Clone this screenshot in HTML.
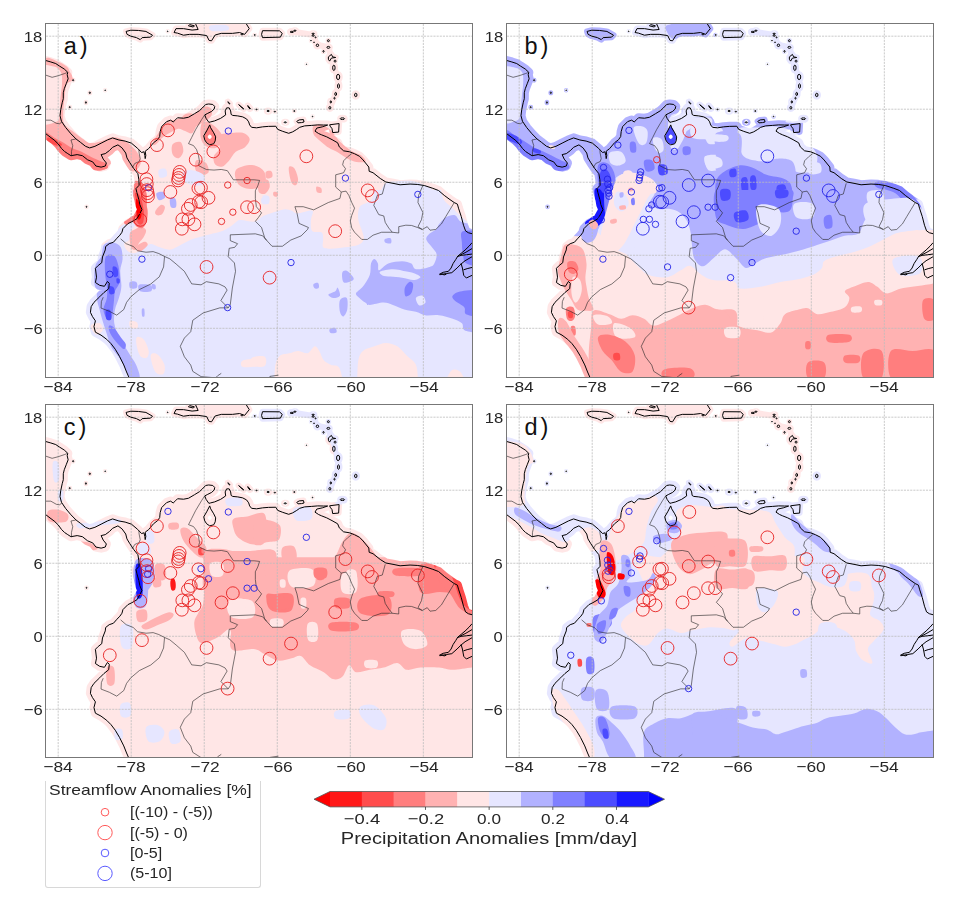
<!DOCTYPE html><html><head><meta charset="utf-8"><style>
html,body{margin:0;padding:0;background:#fff;}
body{width:956px;height:902px;position:relative;overflow:hidden;font-family:"Liberation Sans",sans-serif;color:#262626;}
.map{position:absolute;overflow:hidden;}
.frame{position:absolute;border:1px solid #777;box-sizing:content-box;}
.yl{position:absolute;font-size:15.5px;line-height:18px;text-align:right;white-space:nowrap;transform:scaleX(1.07);transform-origin:right center;}
.xl{position:absolute;width:80px;font-size:15.5px;line-height:18px;text-align:center;white-space:nowrap;transform:scaleX(1.12);}
.cbt{position:absolute;width:80px;font-size:15.2px;line-height:18px;text-align:center;white-space:nowrap;}
.pl{position:absolute;font-size:23.5px;line-height:26px;white-space:nowrap;color:#111;}
.cbl{position:absolute;width:400px;font-size:17.3px;line-height:20px;text-align:center;white-space:nowrap;transform:scaleX(1.16);}
.leg{position:absolute;left:44.5px;top:781px;width:214px;height:105.5px;border:1px solid #d8d8d8;border-top:none;border-radius:0 0 3px 3px;}
.legt{position:absolute;left:48.7px;top:781px;font-size:15px;line-height:18px;white-space:nowrap;transform:scaleX(1.163);transform-origin:left center;}
.legi{position:absolute;font-size:15px;line-height:18px;white-space:nowrap;transform:scaleX(1.07);transform-origin:left center;}
</style></head><body>
<svg class="map" style="left:46.23px;top:24.13px;width:426.02px;height:352.99px" viewBox="-85 -19 35 29" preserveAspectRatio="none">
<defs><mask id="ma" maskUnits="userSpaceOnUse" x="-85" y="-19" width="35" height="29">
<path d="M-64.9,-18.4 L-63.05,-18.1 L-62.75,-17.3 L-61.8,-17.1 L-61.55,-16.2 L-61.35,-15.4 L-61,-14.65 L-60.97,-13.9 L-61.2,-13.25 L-61.68,-12.12" fill="none" stroke="#fff" stroke-width="0.5" stroke-linejoin="round" stroke-linecap="round"/>
<path d="M-86,-16 L-85.02,-16 L-84.6,-15.88 L-84.2,-15.75 L-83.9,-15.55 L-83.5,-15.3 L-83.21,-15.03 L-83.26,-14.83 L-83.18,-14.5 L-83.34,-14.09 L-83.5,-13.68 L-83.58,-13.35 L-83.58,-12.86 L-83.67,-12.53 L-83.79,-11.96 L-83.85,-11.47 L-83.73,-11.01 L-83.38,-10.49 L-82.95,-9.98 L-82.53,-9.55 L-82.18,-9.29 L-81.75,-8.95 L-81.41,-8.82 L-80.98,-8.95 L-80.47,-9.21 L-79.96,-9.47 L-79.53,-9.64 L-79.01,-9.47 L-78.5,-9.38 L-77.98,-9.21 L-77.47,-8.78 L-77.15,-8.44 L-76.95,-8.5 L-76.88,-8.2 L-76.85,-7.94 L-76.8,-8.2 L-76.85,-8.55 L-76.57,-8.76 L-76.16,-9.25 L-75.83,-9.5 L-75.66,-9.75 L-75.62,-10.16 L-75.5,-10.57 L-75.09,-10.98 L-74.76,-11.1 L-74.55,-10.95 L-74.35,-11.14 L-74.19,-11.3 L-73.7,-11.26 L-73.29,-11.34 L-72.8,-11.63 L-72.39,-11.88 L-72.16,-12.1 L-71.88,-12.39 L-71.63,-12.43 L-71.3,-12.39 L-71.14,-12.23 L-71.18,-12.02 L-71.39,-11.82 L-71.71,-11.66 L-71.96,-11.53 L-71.85,-11.25 L-71.62,-10.92 L-71.5,-10.95 L-71.14,-11.04 L-70.65,-11.25 L-70.24,-11.53 L-70.28,-11.86 L-70.16,-12.11 L-69.95,-12.11 L-69.83,-11.86 L-69.79,-11.57 L-69.66,-11.49 L-69.25,-11.45 L-68.84,-11.37 L-68.52,-11.2 L-68.35,-10.96 L-68.27,-10.71 L-68.11,-10.51 L-67.7,-10.47 L-67.2,-10.55 L-66.71,-10.59 L-66.12,-10.6 L-65.96,-10.34 L-65.55,-10.18 L-65.06,-10.02 L-64.73,-10.14 L-64.4,-10.34 L-64.16,-10.51 L-63.75,-10.63 L-63.17,-10.67 L-62.68,-10.71 L-62.2,-10.7 L-61.86,-10.7 L-62.3,-10.55 L-62.75,-10.45 L-62.9,-10.2 L-62.6,-10 L-62.35,-9.89 L-61.94,-9.73 L-61.5,-9.5 L-61.04,-9.24 L-60.9,-8.9 L-60.55,-8.58 L-60.06,-8.5 L-59.65,-8.34 L-59.24,-8.13 L-58.95,-7.83 L-58.48,-7.25 L-58.45,-6.9 L-58.13,-6.78 L-57.54,-6.31 L-57.08,-6.02 L-56.49,-5.91 L-55.91,-5.79 L-55.09,-5.85 L-54.5,-5.82 L-53.92,-5.73 L-53.22,-5.5 L-52.75,-5.32 L-52.28,-4.92 L-51.81,-4.57 L-51.46,-4.33 L-51.2,-4.2 L-51.11,-3.87 L-50.88,-3.17 L-50.7,-2.47 L-50.53,-2 L-50.3,-1.85 L-50,-1.77 L-49,-1.77 L-49,11 L-78,11 L-78.2,10 L-78.38,9.59 L-78.61,9.01 L-78.96,8.31 L-79.31,7.72 L-79.66,7.26 L-80.01,6.91 L-80.48,6.56 L-80.94,6.32 L-81.06,5.86 L-80.94,5.39 L-81.18,5.04 L-81.35,4.69 L-81.29,4.22 L-81.06,3.87 L-80.59,3.41 L-80.24,3.06 L-79.85,2.75 L-79.8,2.3 L-79.95,2.15 L-80.2,2.55 L-80.59,2.47 L-80.94,2.24 L-80.85,1.8 L-80.94,1.07 L-80.71,0.84 L-80.42,0.61 L-80.36,0.14 L-80.13,-0.44 L-80.1,-0.72 L-79.81,-0.95 L-79.46,-1.07 L-79.17,-1.4 L-78.93,-1.65 L-78.76,-1.89 L-78.68,-2.19 L-78.27,-2.6 L-77.94,-2.76 L-77.53,-3 L-77.3,-3.4 L-77.12,-3.75 L-77.29,-4.16 L-77.37,-4.57 L-77.53,-5.14 L-77.61,-5.47 L-77.35,-5.75 L-77.37,-6.2 L-77.45,-6.7 L-77.78,-7.11 L-78.11,-7.6 L-78.35,-8 L-78.45,-8.4 L-78.76,-8.83 L-79.09,-9.07 L-79.53,-8.87 L-79.78,-8.61 L-80.13,-8.35 L-80.47,-8.27 L-80.3,-7.9 L-80.04,-7.58 L-80.13,-7.33 L-80.47,-7.24 L-80.9,-7.33 L-81.16,-7.67 L-81.58,-7.84 L-82.01,-8.18 L-82.44,-8.27 L-82.95,-8.18 L-83.21,-8.35 L-83.47,-8.52 L-83.73,-8.78 L-84,-9.15 L-84.33,-9.47 L-84.67,-9.72 L-85.01,-9.98 L-86,-10 Z" fill="#fff" stroke="#fff" stroke-width="0.75" stroke-linejoin="round"/>
<path d="M-78.42,-18.39 L-78.03,-18.49 L-77.41,-18.47 L-76.79,-18.39 L-76.25,-18.08 L-76.41,-17.92 L-77.1,-17.88 L-77.26,-17.72 L-77.57,-17.88 L-78.03,-18 L-78.34,-18.15 Z" fill="#fff" stroke="#fff" stroke-width="0.5" stroke-linejoin="round"/>
<path d="M-74.48,-18.3 L-74.32,-18.62 L-73.7,-18.62 L-73,-18.5 L-72.5,-18.55 L-72.75,-19.1 L-68.6,-19.1 L-68.3,-18.62 L-68.68,-18.15 L-69.1,-18.3 L-69.68,-18.23 L-70.6,-18.23 L-71.1,-18.1 L-71.4,-17.62 L-71.6,-17.65 L-71.8,-18.05 L-72.5,-18.15 L-73.2,-18.15 L-73.7,-18.08 L-74.2,-18.25 Z" fill="#fff" stroke="#fff" stroke-width="0.5" stroke-linejoin="round"/>
<path d="M-73.3,-18.85 L-72.9,-18.75 L-72.8,-18.85 L-73.2,-18.95 Z" fill="#fff" stroke="#fff" stroke-width="0.5" stroke-linejoin="round"/>
<path d="M-67.21,-18.45 L-65.82,-18.44 L-65.59,-18.23 L-65.74,-17.92 L-67.21,-17.88 L-67.29,-18.15 Z" fill="#fff" stroke="#fff" stroke-width="0.5" stroke-linejoin="round"/>
<path d="M-61.7,-10.72 L-60.92,-10.82 L-60.96,-10.12 L-61.45,-10.08 L-61.5,-10.4 L-61.65,-10.6 Z" fill="#fff" stroke="#fff" stroke-width="0.5" stroke-linejoin="round"/>
<path d="M-64.4,-11 L-64.2,-11.12 L-63.85,-11.15 L-63.8,-10.95 L-64,-10.9 L-64.3,-10.88 Z" fill="#fff" stroke="#fff" stroke-width="0.5" stroke-linejoin="round"/>
<path d="M-69.17,-12.38 L-68.95,-12.2 L-68.75,-12.02 L-68.8,-12.05 L-69,-12.2 Z" fill="#fff" stroke="#fff" stroke-width="0.5" stroke-linejoin="round"/>
<path d="M-70.06,-12.62 L-69.88,-12.45 L-69.9,-12.42 L-70.05,-12.55 Z" fill="#fff" stroke="#fff" stroke-width="0.5" stroke-linejoin="round"/>
<path d="M-68.42,-12.3 L-68.2,-12.05 L-68.25,-12.02 L-68.4,-12.2 Z" fill="#fff" stroke="#fff" stroke-width="0.5" stroke-linejoin="round"/>
<path d="M-61.8,-16.3 L-61.55,-16.5 L-61.45,-16.3 L-61.2,-16.25 L-61.55,-16.2 L-61.7,-15.95 L-61.8,-16.1 Z" fill="#fff" stroke="#fff" stroke-width="0.5" stroke-linejoin="round"/>
<ellipse cx="-61.35" cy="-15.4" rx="0.1" ry="0.22" fill="#fff" stroke="#fff" stroke-width="0.5"/>
<ellipse cx="-61" cy="-14.65" rx="0.13" ry="0.22" fill="#fff" stroke="#fff" stroke-width="0.5"/>
<ellipse cx="-60.97" cy="-13.9" rx="0.08" ry="0.18" fill="#fff" stroke="#fff" stroke-width="0.5"/>
<ellipse cx="-61.2" cy="-13.25" rx="0.07" ry="0.13" fill="#fff" stroke="#fff" stroke-width="0.5"/>
<ellipse cx="-61.68" cy="-12.12" rx="0.08" ry="0.1" fill="#fff" stroke="#fff" stroke-width="0.5"/>
<ellipse cx="-59.55" cy="-13.17" rx="0.1" ry="0.14" fill="#fff" stroke="#fff" stroke-width="0.5"/>
<ellipse cx="-60.65" cy="-11.22" rx="0.18" ry="0.07" fill="#fff" stroke="#fff" stroke-width="0.5"/>
<ellipse cx="-61.8" cy="-17.08" rx="0.12" ry="0.08" fill="#fff" stroke="#fff" stroke-width="0.5"/>
<ellipse cx="-61.8" cy="-17.63" rx="0.08" ry="0.08" fill="#fff" stroke="#fff" stroke-width="0.3"/>
<ellipse cx="-62.2" cy="-16.75" rx="0.05" ry="0.07" fill="#fff" stroke="#fff" stroke-width="0.3"/>
<ellipse cx="-62.7" cy="-17.25" rx="0.1" ry="0.1" fill="#fff" stroke="#fff" stroke-width="0.5"/>
<ellipse cx="-62.98" cy="-17.5" rx="0.03" ry="0.03" fill="#fff" stroke="#fff" stroke-width="0.3"/>
<ellipse cx="-63.23" cy="-17.63" rx="0.03" ry="0.03" fill="#fff" stroke="#fff" stroke-width="0.3"/>
<ellipse cx="-63.05" cy="-18.05" rx="0.08" ry="0.06" fill="#fff" stroke="#fff" stroke-width="0.3"/>
<ellipse cx="-63.05" cy="-18.2" rx="0.1" ry="0.04" fill="#fff" stroke="#fff" stroke-width="0.5"/>
<ellipse cx="-62.85" cy="-17.9" rx="0.04" ry="0.04" fill="#fff" stroke="#fff" stroke-width="0.3"/>
<ellipse cx="-64.8" cy="-18.35" rx="0.15" ry="0.05" fill="#fff" stroke="#fff" stroke-width="0.5"/>
<ellipse cx="-64.55" cy="-18.45" rx="0.1" ry="0.04" fill="#fff" stroke="#fff" stroke-width="0.5"/>
<ellipse cx="-61.25" cy="-15.95" rx="0.08" ry="0.08" fill="#fff" stroke="#fff" stroke-width="0.3"/>
<ellipse cx="-66.2" cy="-11.8" rx="0.06" ry="0.03" fill="#fff" stroke="#fff" stroke-width="0.3"/>
<ellipse cx="-66.75" cy="-11.85" rx="0.1" ry="0.05" fill="#fff" stroke="#fff" stroke-width="0.5"/>
<ellipse cx="-64.6" cy="-11.85" rx="0.05" ry="0.04" fill="#fff" stroke="#fff" stroke-width="0.3"/>
<ellipse cx="-65.34" cy="-10.92" rx="0.1" ry="0.04" fill="#fff" stroke="#fff" stroke-width="0.5"/>
<ellipse cx="-63.1" cy="-11.4" rx="0.03" ry="0.03" fill="#fff" stroke="#fff" stroke-width="0.3"/>
<ellipse cx="-67.7" cy="-11.98" rx="0.05" ry="0.03" fill="#fff" stroke="#fff" stroke-width="0.3"/>
<ellipse cx="-81.4" cy="-13.35" rx="0.05" ry="0.06" fill="#fff" stroke="#fff" stroke-width="0.3"/>
<ellipse cx="-81.72" cy="-12.55" rx="0.04" ry="0.07" fill="#fff" stroke="#fff" stroke-width="0.3"/>
<ellipse cx="-83.05" cy="-12.17" rx="0.05" ry="0.04" fill="#fff" stroke="#fff" stroke-width="0.3"/>
<ellipse cx="-82.77" cy="-14.38" rx="0.05" ry="0.05" fill="#fff" stroke="#fff" stroke-width="0.3"/>
<ellipse cx="-80.14" cy="-13.56" rx="0.03" ry="0.03" fill="#fff" stroke="#fff" stroke-width="0.3"/>
<ellipse cx="-81.67" cy="-3.98" rx="0.04" ry="0.04" fill="#fff" stroke="#fff" stroke-width="0.3"/>
<ellipse cx="-75" cy="-18.4" rx="0.03" ry="0.03" fill="#fff" stroke="#fff" stroke-width="0.3"/>
<ellipse cx="-68.9" cy="-18.15" rx="0.08" ry="0.04" fill="#fff" stroke="#fff" stroke-width="0.3"/>
<ellipse cx="-67.85" cy="-18.1" rx="0.05" ry="0.03" fill="#fff" stroke="#fff" stroke-width="0.3"/>
<ellipse cx="-63.6" cy="-15.7" rx="0.02" ry="0.02" fill="#fff" stroke="#fff" stroke-width="0.3"/>
<ellipse cx="-61.6" cy="-12.6" rx="0.05" ry="0.1" fill="#fff" stroke="#fff" stroke-width="0.5"/>
<ellipse cx="-61.3" cy="-12.9" rx="0.04" ry="0.08" fill="#fff" stroke="#fff" stroke-width="0.3"/>
</mask></defs>
<g mask="url(#ma)">
<rect x="-85" y="-19" width="35" height="29" fill="#ffe6e6"/>
<path d="M-57.17,-5.86 C-56.918,-6.088 -56.525,-6.052 -56.13,-6.09 C-55.735,-6.128 -55.195,-6.16 -54.8,-6.09 C-54.405,-6.02 -54.09,-5.835 -53.76,-5.67 C-53.43,-5.505 -53.103,-5.32 -52.82,-5.1 C-52.537,-4.88 -52.297,-4.592 -52.06,-4.35 C-51.823,-4.108 -51.142,-3.767 -51.4,-3.65 C-51.658,-3.533 -52.871,-3.65 -53.607,-3.65 C-54.342,-3.65 -55.078,-3.65 -55.813,-3.65 C-56.549,-3.65 -57.716,-3.472 -58.02,-3.65 C-58.324,-3.828 -57.782,-4.352 -57.64,-4.72 C-57.498,-5.088 -57.422,-5.632 -57.17,-5.86 Z" fill="#e6e6ff"/>
<path d="M-88.88,-0.65 C-88.525,-1.032 -87.462,-0.682 -86.752,-0.698 C-86.043,-0.713 -85.334,-0.729 -84.625,-0.745 C-83.916,-0.761 -83.207,-0.777 -82.498,-0.792 C-81.788,-0.808 -80.945,-0.612 -80.37,-0.84 C-79.795,-1.068 -79.348,-1.877 -79.05,-2.16 C-78.752,-2.443 -78.768,-2.445 -78.58,-2.54 C-78.392,-2.635 -78.068,-2.51 -77.92,-2.73 C-77.772,-2.95 -77.707,-3.42 -77.69,-3.86 C-77.673,-4.3 -78.19,-5.118 -77.82,-5.37 C-77.45,-5.622 -76.254,-5.37 -75.472,-5.37 C-74.689,-5.37 -73.906,-5.37 -73.123,-5.37 C-72.34,-5.37 -71.557,-5.37 -70.775,-5.37 C-69.992,-5.37 -69.209,-5.37 -68.426,-5.37 C-67.643,-5.37 -66.861,-5.37 -66.078,-5.37 C-65.295,-5.37 -64.512,-5.37 -63.729,-5.37 C-62.946,-5.37 -62.164,-5.37 -61.381,-5.37 C-60.598,-5.37 -59.815,-5.37 -59.032,-5.37 C-58.249,-5.37 -57.467,-5.37 -56.684,-5.37 C-55.901,-5.37 -55.118,-5.37 -54.335,-5.37 C-53.553,-5.37 -52.77,-5.37 -51.987,-5.37 C-51.204,-5.37 -50.421,-5.37 -49.638,-5.37 C-48.856,-5.37 -47.681,-5.748 -47.29,-5.37 C-46.899,-4.992 -47.29,-3.858 -47.29,-3.102 C-47.29,-2.346 -47.29,-1.59 -47.29,-0.834 C-47.29,-0.078 -47.29,0.678 -47.29,1.434 C-47.29,2.19 -47.29,2.946 -47.29,3.702 C-47.29,4.458 -47.29,5.214 -47.29,5.97 C-47.29,6.726 -47.29,7.482 -47.29,8.238 C-47.29,8.994 -47.29,9.75 -47.29,10.506 C-47.29,11.262 -47.29,12.018 -47.29,12.774 C-47.29,13.53 -47.29,14.286 -47.29,15.042 C-47.29,15.798 -46.882,16.932 -47.29,17.31 C-47.698,17.688 -48.921,17.31 -49.736,17.31 C-50.552,17.31 -51.367,17.31 -52.183,17.31 C-52.998,17.31 -53.814,17.31 -54.629,17.31 C-55.445,17.31 -56.26,17.31 -57.076,17.31 C-57.891,17.31 -58.707,17.31 -59.522,17.31 C-60.338,17.31 -61.153,17.31 -61.969,17.31 C-62.784,17.31 -63.6,17.31 -64.415,17.31 C-65.231,17.31 -66.046,17.31 -66.862,17.31 C-67.677,17.31 -68.493,17.31 -69.308,17.31 C-70.124,17.31 -70.939,17.31 -71.755,17.31 C-72.57,17.31 -73.386,17.31 -74.201,17.31 C-75.017,17.31 -75.832,17.31 -76.648,17.31 C-77.463,17.31 -78.279,17.31 -79.094,17.31 C-79.91,17.31 -80.725,17.31 -81.541,17.31 C-82.356,17.31 -83.172,17.31 -83.987,17.31 C-84.803,17.31 -85.618,17.31 -86.434,17.31 C-87.249,17.31 -88.472,17.684 -88.88,17.31 C-89.288,16.936 -88.88,15.813 -88.88,15.065 C-88.88,14.317 -88.88,13.568 -88.88,12.82 C-88.88,12.072 -88.88,11.323 -88.88,10.575 C-88.88,9.827 -88.88,9.078 -88.88,8.33 C-88.88,7.582 -88.88,6.833 -88.88,6.085 C-88.88,5.337 -88.88,4.588 -88.88,3.84 C-88.88,3.092 -88.88,2.343 -88.88,1.595 C-88.88,0.847 -89.235,-0.268 -88.88,-0.65 Z" fill="#e6e6ff"/>
<path d="M-77.92,-6.51 C-77.574,-6.51 -76.468,-6.51 -75.742,-6.51 C-75.016,-6.51 -74.29,-6.51 -73.564,-6.51 C-72.838,-6.51 -72.112,-6.51 -71.386,-6.51 C-70.66,-6.51 -69.934,-6.51 -69.208,-6.51 C-68.482,-6.51 -67.393,-6.738 -67.03,-6.51 C-66.667,-6.282 -67.03,-5.597 -67.03,-5.14 C-67.03,-4.683 -66.853,-4.03 -67.03,-3.77 C-67.207,-3.51 -67.788,-3.675 -68.09,-3.58 C-68.392,-3.485 -68.588,-3.373 -68.84,-3.2 C-69.092,-3.027 -69.348,-2.73 -69.6,-2.54 C-69.852,-2.35 -70.067,-2.187 -70.35,-2.06 C-70.633,-1.933 -71.015,-1.858 -71.3,-1.78 C-71.585,-1.702 -71.777,-1.668 -72.06,-1.59 C-72.343,-1.512 -72.685,-1.435 -73,-1.31 C-73.315,-1.185 -73.65,-0.982 -73.95,-0.84 C-74.25,-0.698 -74.517,-0.492 -74.8,-0.46 C-75.083,-0.428 -75.383,-0.572 -75.65,-0.65 C-75.917,-0.728 -76.148,-0.962 -76.4,-0.93 C-76.652,-0.898 -76.938,-0.587 -77.16,-0.46 C-77.382,-0.333 -77.542,-0.187 -77.73,-0.17 C-77.918,-0.153 -78.148,-0.233 -78.29,-0.36 C-78.432,-0.487 -78.61,-0.772 -78.58,-0.93 C-78.55,-1.088 -78.205,-1.137 -78.11,-1.31 C-78.015,-1.483 -78.09,-1.765 -78.01,-1.97 C-77.93,-2.175 -77.74,-2.352 -77.63,-2.54 C-77.52,-2.728 -77.34,-2.817 -77.35,-3.1 C-77.36,-3.383 -77.612,-3.672 -77.69,-4.24 C-77.768,-4.808 -77.782,-6.132 -77.82,-6.51 C-77.858,-6.888 -78.266,-6.51 -77.92,-6.51 Z" fill="#ffe6e6"/>
<path d="M-70,-6.5 C-69.597,-6.8 -68.387,-6.5 -67.58,-6.5 C-66.773,-6.5 -65.967,-6.5 -65.16,-6.5 C-64.353,-6.5 -63.547,-6.5 -62.74,-6.5 C-61.933,-6.5 -61.127,-6.5 -60.32,-6.5 C-59.513,-6.5 -58.283,-6.69 -57.9,-6.5 C-57.517,-6.31 -57.953,-5.693 -58.02,-5.36 C-58.087,-5.027 -58.103,-4.727 -58.3,-4.5 C-58.497,-4.273 -59.025,-4.25 -59.2,-4 C-59.375,-3.75 -59.383,-3.35 -59.35,-3 C-59.317,-2.65 -59.075,-2.183 -59,-1.9 C-58.925,-1.617 -58.845,-1.472 -58.9,-1.3 C-58.955,-1.128 -59.072,-0.978 -59.33,-0.87 C-59.588,-0.762 -60.078,-0.705 -60.45,-0.65 C-60.822,-0.595 -61.263,-0.54 -61.56,-0.54 C-61.857,-0.54 -62.118,-0.52 -62.23,-0.65 C-62.342,-0.78 -62.21,-1.115 -62.23,-1.32 C-62.25,-1.525 -62.2,-1.768 -62.35,-1.88 C-62.5,-1.992 -62.982,-1.823 -63.13,-1.99 C-63.278,-2.157 -63.24,-2.602 -63.24,-2.88 C-63.24,-3.158 -62.943,-3.567 -63.13,-3.66 C-63.317,-3.753 -64.082,-3.44 -64.36,-3.44 C-64.638,-3.44 -64.633,-3.603 -64.8,-3.66 C-64.967,-3.717 -65.155,-3.788 -65.36,-3.78 C-65.565,-3.772 -65.732,-3.703 -66.03,-3.61 C-66.328,-3.517 -66.852,-3.36 -67.15,-3.22 C-67.448,-3.08 -67.512,-2.823 -67.82,-2.77 C-68.128,-2.717 -68.637,-2.878 -69,-2.9 C-69.363,-2.922 -69.833,-2.6 -70,-2.9 C-70.167,-3.2 -70,-4.1 -70,-4.7 C-70,-5.3 -70.403,-6.2 -70,-6.5 Z" fill="#ffe6e6"/>
<path d="M-52.91,-7.26 C-52.626,-7.48 -51.587,-7.26 -50.925,-7.26 C-50.263,-7.26 -49.271,-7.554 -48.94,-7.26 C-48.609,-6.966 -48.94,-6.084 -48.94,-5.497 C-48.94,-4.909 -48.94,-4.321 -48.94,-3.733 C-48.94,-3.146 -48.767,-2.169 -48.94,-1.97 C-49.113,-1.771 -49.665,-2.352 -49.98,-2.54 C-50.295,-2.728 -50.562,-2.88 -50.83,-3.1 C-51.098,-3.32 -51.337,-3.607 -51.59,-3.86 C-51.843,-4.113 -52.177,-4.273 -52.35,-4.62 C-52.523,-4.967 -52.537,-5.5 -52.63,-5.94 C-52.723,-6.38 -53.194,-7.04 -52.91,-7.26 Z" fill="#ffe6e6"/>
<path d="M-85.1,-16.07 C-84.927,-16.439 -84.36,-16.015 -84.06,-15.92 C-83.76,-15.825 -83.473,-15.648 -83.3,-15.5 C-83.127,-15.352 -83.113,-15.203 -83.02,-15.03 C-82.927,-14.857 -82.693,-14.627 -82.74,-14.46 C-82.787,-14.293 -83.175,-14.298 -83.3,-14.03 C-83.425,-13.762 -83.442,-13.267 -83.49,-12.85 C-83.538,-12.433 -83.59,-11.877 -83.59,-11.53 C-83.59,-11.183 -83.617,-10.99 -83.49,-10.77 C-83.363,-10.55 -83.065,-10.398 -82.83,-10.21 C-82.595,-10.022 -82.332,-9.805 -82.08,-9.64 C-81.828,-9.475 -81.605,-9.258 -81.32,-9.22 C-81.035,-9.182 -80.653,-9.333 -80.37,-9.41 C-80.087,-9.487 -79.872,-9.652 -79.62,-9.68 C-79.368,-9.708 -79.112,-9.675 -78.86,-9.58 C-78.608,-9.485 -78.33,-9.288 -78.11,-9.11 C-77.89,-8.932 -77.692,-8.737 -77.54,-8.51 C-77.388,-8.283 -77.217,-7.978 -77.2,-7.75 C-77.183,-7.522 -77.32,-7.282 -77.44,-7.14 C-77.56,-6.998 -77.683,-6.855 -77.92,-6.9 C-78.157,-6.945 -78.577,-7.307 -78.86,-7.41 C-79.143,-7.513 -79.425,-7.565 -79.62,-7.52 C-79.815,-7.475 -79.842,-7.253 -80.03,-7.14 C-80.218,-7.027 -80.44,-6.89 -80.75,-6.84 C-81.06,-6.79 -81.575,-6.777 -81.89,-6.84 C-82.205,-6.903 -82.357,-7.022 -82.64,-7.22 C-82.923,-7.418 -83.307,-7.8 -83.59,-8.03 C-83.873,-8.26 -84.088,-8.442 -84.34,-8.6 C-84.592,-8.758 -84.973,-8.523 -85.1,-8.98 C-85.227,-9.437 -85.1,-10.556 -85.1,-11.343 C-85.1,-12.131 -85.1,-12.919 -85.1,-13.707 C-85.1,-14.494 -85.273,-15.701 -85.1,-16.07 Z" fill="#ffb2b2"/>
<path d="M-85.48,-15.41 C-85.29,-15.803 -84.623,-15.563 -84.34,-15.5 C-84.057,-15.437 -83.89,-15.25 -83.78,-15.03 C-83.67,-14.81 -83.673,-14.543 -83.68,-14.18 C-83.687,-13.817 -83.788,-13.292 -83.82,-12.85 C-83.852,-12.408 -83.813,-11.845 -83.87,-11.53 C-83.927,-11.215 -83.892,-11.07 -84.16,-10.96 C-84.428,-10.85 -85.26,-10.507 -85.48,-10.87 C-85.7,-11.233 -85.48,-12.383 -85.48,-13.14 C-85.48,-13.897 -85.67,-15.017 -85.48,-15.41 Z" fill="#ffe6e6"/>
<path d="M-85.1,-10.06 C-84.973,-10.23 -84.592,-9.813 -84.34,-9.68 C-84.088,-9.547 -83.842,-9.408 -83.59,-9.26 C-83.338,-9.112 -83.082,-8.915 -82.83,-8.79 C-82.578,-8.665 -82.332,-8.627 -82.08,-8.51 C-81.828,-8.393 -81.573,-8.217 -81.32,-8.09 C-81.067,-7.963 -80.775,-7.845 -80.56,-7.75 C-80.345,-7.655 -80.13,-7.622 -80.03,-7.52 C-79.93,-7.418 -79.847,-7.233 -79.96,-7.14 C-80.073,-7.047 -80.42,-6.96 -80.71,-6.96 C-81,-6.96 -81.378,-7.047 -81.7,-7.14 C-82.022,-7.233 -82.357,-7.393 -82.64,-7.52 C-82.923,-7.647 -83.147,-7.773 -83.4,-7.9 C-83.653,-8.027 -83.877,-8.153 -84.16,-8.28 C-84.443,-8.407 -84.943,-8.363 -85.1,-8.66 C-85.257,-8.957 -85.227,-9.89 -85.1,-10.06 Z" fill="#ff7e7e"/>
<path d="M-84.82,-9.68 C-84.695,-9.695 -84.35,-9.545 -84.16,-9.45 C-83.97,-9.355 -83.712,-9.188 -83.68,-9.11 C-83.648,-9.032 -83.828,-8.97 -83.97,-8.98 C-84.112,-8.99 -84.373,-9.107 -84.53,-9.17 C-84.687,-9.233 -84.862,-9.275 -84.91,-9.36 C-84.958,-9.445 -84.945,-9.665 -84.82,-9.68 Z" fill="#ff4c4c"/>
<path d="M-76.22,-9.26 C-76.157,-9.45 -75.84,-9.927 -75.65,-10.21 C-75.46,-10.493 -75.302,-10.803 -75.08,-10.96 C-74.858,-11.117 -74.572,-11.07 -74.32,-11.15 C-74.068,-11.23 -73.822,-11.362 -73.57,-11.44 C-73.318,-11.518 -73.062,-11.495 -72.81,-11.62 C-72.558,-11.745 -72.28,-12.11 -72.06,-12.19 C-71.84,-12.27 -71.602,-12.21 -71.49,-12.1 C-71.378,-11.99 -71.327,-11.703 -71.39,-11.53 C-71.453,-11.357 -71.665,-11.217 -71.87,-11.06 C-72.075,-10.903 -72.432,-10.763 -72.62,-10.59 C-72.808,-10.417 -72.842,-10.083 -73,-10.02 C-73.158,-9.957 -73.38,-10.147 -73.57,-10.21 C-73.76,-10.273 -73.92,-10.432 -74.14,-10.4 C-74.36,-10.368 -74.67,-10.147 -74.89,-10.02 C-75.11,-9.893 -75.27,-9.798 -75.46,-9.64 C-75.65,-9.482 -75.903,-9.133 -76.03,-9.07 C-76.157,-9.007 -76.283,-9.07 -76.22,-9.26 Z" fill="#ffb2b2"/>
<path d="M-72.24,-10.77 C-72.155,-10.99 -71.973,-11.007 -71.77,-10.96 C-71.567,-10.913 -71.23,-10.685 -71.02,-10.49 C-70.81,-10.295 -70.565,-10.01 -70.51,-9.79 C-70.455,-9.57 -70.583,-9.337 -70.69,-9.17 C-70.797,-9.003 -70.953,-8.822 -71.15,-8.79 C-71.347,-8.758 -71.682,-8.838 -71.87,-8.98 C-72.058,-9.122 -72.218,-9.342 -72.28,-9.64 C-72.342,-9.938 -72.325,-10.55 -72.24,-10.77 Z" fill="#ffb2b2"/>
<path d="M-71.87,-10.21 C-71.802,-10.348 -71.482,-10.328 -71.34,-10.24 C-71.198,-10.152 -71.033,-9.85 -71.02,-9.68 C-71.007,-9.51 -71.138,-9.265 -71.26,-9.22 C-71.382,-9.175 -71.648,-9.245 -71.75,-9.41 C-71.852,-9.575 -71.938,-10.072 -71.87,-10.21 Z" fill="#ff7e7e"/>
<path d="M-71.02,-9.83 C-70.863,-9.94 -70.343,-9.982 -69.98,-10.02 C-69.617,-10.058 -69.125,-10.138 -68.84,-10.06 C-68.555,-9.982 -68.302,-9.747 -68.27,-9.55 C-68.238,-9.353 -68.46,-9.053 -68.65,-8.88 C-68.84,-8.707 -69.188,-8.698 -69.41,-8.51 C-69.632,-8.322 -69.792,-7.955 -69.98,-7.75 C-70.168,-7.545 -70.352,-7.327 -70.54,-7.28 C-70.728,-7.233 -70.998,-7.328 -71.11,-7.47 C-71.222,-7.612 -71.273,-7.91 -71.21,-8.13 C-71.147,-8.35 -70.778,-8.585 -70.73,-8.79 C-70.682,-8.995 -70.872,-9.187 -70.92,-9.36 C-70.968,-9.533 -71.177,-9.72 -71.02,-9.83 Z" fill="#ffb2b2"/>
<path d="M-74.61,-9.11 C-74.503,-9.28 -74.098,-9.395 -73.95,-9.3 C-73.802,-9.205 -73.695,-8.76 -73.72,-8.54 C-73.745,-8.32 -73.955,-8.023 -74.1,-7.98 C-74.245,-7.937 -74.505,-8.092 -74.59,-8.28 C-74.675,-8.468 -74.717,-8.94 -74.61,-9.11 Z" fill="#ffb2b2"/>
<path d="M-72.66,-7.79 C-72.522,-7.892 -72.04,-7.758 -71.87,-7.6 C-71.7,-7.442 -71.583,-7.01 -71.64,-6.84 C-71.697,-6.67 -72.033,-6.555 -72.21,-6.58 C-72.387,-6.605 -72.625,-6.788 -72.7,-6.99 C-72.775,-7.192 -72.798,-7.688 -72.66,-7.79 Z" fill="#ffb2b2"/>
<path d="M-69.41,-6.99 C-69.228,-7.255 -68.475,-7.425 -68.09,-7.41 C-67.705,-7.395 -67.277,-7.158 -67.1,-6.9 C-66.923,-6.642 -66.872,-6.103 -67.03,-5.86 C-67.188,-5.617 -67.692,-5.447 -68.05,-5.44 C-68.408,-5.433 -68.953,-5.562 -69.18,-5.82 C-69.407,-6.078 -69.592,-6.725 -69.41,-6.99 Z" fill="#ffb2b2"/>
<path d="M-73.76,-11.44 C-73.65,-11.582 -73.173,-11.732 -73,-11.62 C-72.827,-11.508 -72.688,-10.958 -72.72,-10.77 C-72.752,-10.582 -73.033,-10.49 -73.19,-10.49 C-73.347,-10.49 -73.565,-10.612 -73.66,-10.77 C-73.755,-10.928 -73.87,-11.298 -73.76,-11.44 Z" fill="#ffb2b2"/>
<path d="M-77.69,-6.09 C-77.588,-6.16 -77.318,-6.065 -77.16,-5.9 C-77.002,-5.735 -76.81,-5.422 -76.74,-5.1 C-76.67,-4.778 -76.708,-4.212 -76.74,-3.97 C-76.772,-3.728 -76.758,-3.703 -76.93,-3.65 C-77.102,-3.597 -77.618,-3.472 -77.77,-3.65 C-77.922,-3.828 -77.84,-4.415 -77.84,-4.72 C-77.84,-5.025 -77.795,-5.252 -77.77,-5.48 C-77.745,-5.708 -77.792,-6.02 -77.69,-6.09 Z" fill="#ff7e7e"/>
<path d="M-77.65,-4.82 C-77.568,-4.973 -77.267,-4.765 -77.16,-4.57 C-77.053,-4.375 -76.928,-3.803 -77.01,-3.65 C-77.092,-3.497 -77.543,-3.455 -77.65,-3.65 C-77.757,-3.845 -77.732,-4.667 -77.65,-4.82 Z" fill="#ff4c4c"/>
<path d="M-75.93,-5.1 C-75.867,-5.21 -75.477,-5.263 -75.36,-5.2 C-75.243,-5.137 -75.167,-4.83 -75.23,-4.72 C-75.293,-4.61 -75.623,-4.477 -75.74,-4.54 C-75.857,-4.603 -75.993,-4.99 -75.93,-5.1 Z" fill="#b2b2ff"/>
<path d="M-74.8,-4.69 C-74.737,-4.8 -74.44,-4.75 -74.36,-4.63 C-74.28,-4.51 -74.257,-4.08 -74.32,-3.97 C-74.383,-3.86 -74.66,-3.85 -74.74,-3.97 C-74.82,-4.09 -74.863,-4.58 -74.8,-4.69 Z" fill="#b2b2ff"/>
<path d="M-73.76,-6.8 C-73.665,-6.957 -73.283,-7.022 -73,-6.99 C-72.717,-6.958 -72.217,-6.798 -72.06,-6.61 C-71.903,-6.422 -71.935,-6.002 -72.06,-5.86 C-72.185,-5.718 -72.558,-5.728 -72.81,-5.76 C-73.062,-5.792 -73.412,-5.877 -73.57,-6.05 C-73.728,-6.223 -73.855,-6.643 -73.76,-6.8 Z" fill="#e6e6ff"/>
<path d="M-75.74,-6.99 C-75.662,-7.107 -75.29,-7.168 -75.18,-7.09 C-75.07,-7.012 -75.002,-6.637 -75.08,-6.52 C-75.158,-6.403 -75.54,-6.312 -75.65,-6.39 C-75.76,-6.468 -75.818,-6.873 -75.74,-6.99 Z" fill="#e6e6ff"/>
<path d="M-71.49,-18.87 C-71.287,-18.948 -70.407,-18.963 -70.17,-18.9 C-69.933,-18.837 -69.867,-18.568 -70.07,-18.49 C-70.273,-18.412 -71.153,-18.367 -71.39,-18.43 C-71.627,-18.493 -71.693,-18.792 -71.49,-18.87 Z" fill="#e6e6ff"/>
<path d="M-63.03,-10.62 C-62.913,-10.743 -62.573,-10.783 -62.33,-10.72 C-62.087,-10.657 -61.822,-10.477 -61.57,-10.24 C-61.318,-10.003 -61.103,-9.583 -60.82,-9.3 C-60.537,-9.017 -60.155,-8.72 -59.87,-8.54 C-59.585,-8.36 -59.298,-8.358 -59.11,-8.22 C-58.922,-8.082 -58.677,-7.802 -58.74,-7.71 C-58.803,-7.618 -59.232,-7.625 -59.49,-7.67 C-59.748,-7.715 -60.032,-7.847 -60.29,-7.98 C-60.548,-8.113 -60.788,-8.325 -61.04,-8.47 C-61.292,-8.615 -61.522,-8.662 -61.8,-8.85 C-62.078,-9.038 -62.505,-9.412 -62.71,-9.6 C-62.915,-9.788 -62.977,-9.81 -63.03,-9.98 C-63.083,-10.15 -63.147,-10.497 -63.03,-10.62 Z" fill="#ffb2b2"/>
<path d="M-65.05,-7.22 C-65.007,-7.402 -64.727,-7.303 -64.6,-7.14 C-64.473,-6.977 -64.31,-6.47 -64.29,-6.24 C-64.27,-6.01 -64.385,-5.792 -64.48,-5.76 C-64.575,-5.728 -64.765,-5.807 -64.86,-6.05 C-64.955,-6.293 -65.093,-7.038 -65.05,-7.22 Z" fill="#ffb2b2"/>
<path d="M-66.94,-6.84 C-66.877,-6.935 -66.578,-6.963 -66.49,-6.9 C-66.402,-6.837 -66.347,-6.555 -66.41,-6.46 C-66.473,-6.365 -66.782,-6.267 -66.87,-6.33 C-66.958,-6.393 -67.003,-6.745 -66.94,-6.84 Z" fill="#ffb2b2"/>
<path d="M-67.51,-6.05 C-67.393,-6.217 -66.958,-6.27 -66.81,-6.2 C-66.662,-6.13 -66.588,-5.82 -66.62,-5.63 C-66.652,-5.44 -66.852,-5.132 -67,-5.06 C-67.148,-4.988 -67.425,-5.035 -67.51,-5.2 C-67.595,-5.365 -67.627,-5.883 -67.51,-6.05 Z" fill="#ffb2b2"/>
<path d="M-62.78,-5.63 C-62.723,-5.683 -62.468,-5.602 -62.4,-5.52 C-62.332,-5.438 -62.313,-5.193 -62.37,-5.14 C-62.427,-5.087 -62.672,-5.118 -62.74,-5.2 C-62.808,-5.282 -62.837,-5.577 -62.78,-5.63 Z" fill="#ffb2b2"/>
<path d="M-66.3,-5.2 C-66.243,-5.243 -66.01,-5.203 -65.96,-5.14 C-65.91,-5.077 -65.943,-4.863 -66,-4.82 C-66.057,-4.777 -66.25,-4.817 -66.3,-4.88 C-66.35,-4.943 -66.357,-5.157 -66.3,-5.2 Z" fill="#ffb2b2"/>
<path d="M-59.06,-4.06 C-58.872,-4.145 -58.193,-4.228 -58.02,-4.16 C-57.847,-4.092 -57.832,-3.735 -58.02,-3.65 C-58.208,-3.565 -58.977,-3.582 -59.15,-3.65 C-59.323,-3.718 -59.248,-3.975 -59.06,-4.06 Z" fill="#e6e6ff"/>
<path d="M-67.19,-4.88 C-67.115,-4.965 -66.76,-4.915 -66.68,-4.82 C-66.6,-4.725 -66.635,-4.395 -66.71,-4.31 C-66.785,-4.225 -67.05,-4.215 -67.13,-4.31 C-67.21,-4.405 -67.265,-4.795 -67.19,-4.88 Z" fill="#e6e6ff"/>
<path d="M-78.11,-1.78 C-78.047,-2.032 -77.788,-2.065 -77.63,-2.16 C-77.472,-2.255 -77.302,-2.367 -77.16,-2.35 C-77.018,-2.333 -76.812,-2.202 -76.78,-2.06 C-76.748,-1.918 -76.875,-1.673 -76.97,-1.5 C-77.065,-1.327 -77.24,-1.193 -77.35,-1.02 C-77.46,-0.847 -77.52,-0.522 -77.63,-0.46 C-77.74,-0.398 -77.93,-0.43 -78.01,-0.65 C-78.09,-0.87 -78.173,-1.528 -78.11,-1.78 Z" fill="#ffb2b2"/>
<path d="M-77.44,-0.84 C-77.33,-0.957 -77.012,-1.12 -76.88,-1.12 C-76.748,-1.12 -76.603,-0.967 -76.65,-0.84 C-76.697,-0.713 -77.012,-0.43 -77.16,-0.36 C-77.308,-0.29 -77.493,-0.34 -77.54,-0.42 C-77.587,-0.5 -77.55,-0.723 -77.44,-0.84 Z" fill="#ffb2b2"/>
<path d="M-76.03,-3.58 C-75.977,-3.722 -75.683,-4.078 -75.55,-4.14 C-75.417,-4.202 -75.245,-4.075 -75.23,-3.95 C-75.215,-3.825 -75.353,-3.5 -75.46,-3.39 C-75.567,-3.28 -75.775,-3.258 -75.87,-3.29 C-75.965,-3.322 -76.083,-3.438 -76.03,-3.58 Z" fill="#ffb2b2"/>
<path d="M-77.82,-5.37 C-77.75,-5.463 -77.498,-5.495 -77.35,-5.37 C-77.202,-5.245 -77.047,-4.903 -76.93,-4.62 C-76.813,-4.337 -76.682,-3.985 -76.65,-3.67 C-76.618,-3.355 -76.67,-2.967 -76.74,-2.73 C-76.81,-2.493 -76.937,-2.313 -77.07,-2.25 C-77.203,-2.187 -77.398,-2.27 -77.54,-2.35 C-77.682,-2.43 -77.778,-2.705 -77.92,-2.73 C-78.062,-2.755 -78.28,-2.5 -78.39,-2.5 C-78.5,-2.5 -78.627,-2.63 -78.58,-2.73 C-78.533,-2.83 -78.245,-2.912 -78.11,-3.1 C-77.975,-3.288 -77.827,-3.575 -77.77,-3.86 C-77.713,-4.145 -77.762,-4.558 -77.77,-4.81 C-77.778,-5.062 -77.89,-5.277 -77.82,-5.37 Z" fill="#ff7e7e"/>
<path d="M-77.69,-5.09 C-77.637,-5.19 -77.38,-5.077 -77.26,-4.84 C-77.14,-4.603 -77.012,-4.022 -76.97,-3.67 C-76.928,-3.318 -76.947,-2.918 -77.01,-2.73 C-77.073,-2.542 -77.25,-2.478 -77.35,-2.54 C-77.45,-2.602 -77.572,-2.817 -77.61,-3.1 C-77.648,-3.383 -77.567,-3.908 -77.58,-4.24 C-77.593,-4.572 -77.743,-4.99 -77.69,-5.09 Z" fill="#ff4c4c"/>
<path d="M-77.61,-4.62 C-77.568,-4.747 -77.385,-4.462 -77.31,-4.24 C-77.235,-4.018 -77.147,-3.51 -77.16,-3.29 C-77.173,-3.07 -77.323,-2.888 -77.39,-2.92 C-77.457,-2.952 -77.523,-3.197 -77.56,-3.48 C-77.597,-3.763 -77.652,-4.493 -77.61,-4.62 Z" fill="#ff0000"/>
<path d="M-80.22,-0.87 C-80.047,-1.058 -79.657,-1.057 -79.43,-1.02 C-79.203,-0.983 -78.98,-0.87 -78.86,-0.65 C-78.74,-0.43 -78.703,-0.015 -78.71,0.3 C-78.717,0.615 -78.883,0.862 -78.9,1.24 C-78.917,1.618 -78.792,2.192 -78.81,2.57 C-78.828,2.948 -78.923,3.195 -79.01,3.51 C-79.097,3.825 -79.267,4.113 -79.33,4.46 C-79.393,4.807 -79.443,5.212 -79.39,5.59 C-79.337,5.968 -79.152,6.415 -79.01,6.73 C-78.868,7.045 -78.697,7.228 -78.54,7.48 C-78.383,7.732 -78.227,7.987 -78.07,8.24 C-77.913,8.493 -77.727,8.695 -77.6,9 C-77.473,9.305 -77.232,9.892 -77.31,10.07 C-77.388,10.248 -77.858,10.233 -78.07,10.07 C-78.282,9.907 -78.41,9.388 -78.58,9.09 C-78.75,8.792 -78.91,8.542 -79.09,8.28 C-79.27,8.018 -79.503,7.835 -79.66,7.52 C-79.817,7.205 -79.912,6.758 -80.03,6.39 C-80.148,6.022 -80.275,5.632 -80.37,5.31 C-80.465,4.988 -80.53,4.722 -80.6,4.46 C-80.67,4.198 -80.748,3.992 -80.79,3.74 C-80.832,3.488 -80.808,3.208 -80.85,2.95 C-80.892,2.692 -81.025,2.537 -81.04,2.19 C-81.055,1.843 -81.035,1.217 -80.94,0.87 C-80.845,0.523 -80.59,0.4 -80.47,0.11 C-80.35,-0.18 -80.393,-0.682 -80.22,-0.87 Z" fill="#b2b2ff"/>
<path d="M-80.09,0.11 C-79.97,-0.125 -79.603,-0.107 -79.43,0.02 C-79.257,0.147 -79.128,0.508 -79.05,0.87 C-78.972,1.232 -78.913,1.843 -78.96,2.19 C-79.007,2.537 -79.252,2.667 -79.33,2.95 C-79.408,3.233 -79.382,3.513 -79.43,3.89 C-79.478,4.267 -79.525,4.99 -79.62,5.21 C-79.715,5.43 -79.89,5.335 -80,5.21 C-80.11,5.085 -80.28,4.743 -80.28,4.46 C-80.28,4.177 -80.047,3.825 -80,3.51 C-79.953,3.195 -79.975,2.917 -80,2.57 C-80.025,2.223 -80.135,1.84 -80.15,1.43 C-80.165,1.02 -80.21,0.345 -80.09,0.11 Z" fill="#8080ff"/>
<path d="M-79.52,0.96 C-79.473,0.847 -79.222,0.943 -79.15,1.06 C-79.078,1.177 -79.043,1.547 -79.09,1.66 C-79.137,1.773 -79.358,1.857 -79.43,1.74 C-79.502,1.623 -79.567,1.073 -79.52,0.96 Z" fill="#4c4cff"/>
<path d="M-79.81,2.57 C-79.753,2.485 -79.5,2.567 -79.43,2.66 C-79.36,2.753 -79.333,3.045 -79.39,3.13 C-79.447,3.215 -79.7,3.263 -79.77,3.17 C-79.84,3.077 -79.867,2.655 -79.81,2.57 Z" fill="#4c4cff"/>
<path d="M-80.09,4.55 C-80.037,4.433 -79.782,4.433 -79.71,4.55 C-79.638,4.667 -79.607,5.133 -79.66,5.25 C-79.713,5.367 -79.958,5.367 -80.03,5.25 C-80.102,5.133 -80.143,4.667 -80.09,4.55 Z" fill="#4c4cff"/>
<path d="M-79.2,1.91 C-79.163,1.857 -79,1.898 -78.96,1.96 C-78.92,2.022 -78.923,2.227 -78.96,2.28 C-78.997,2.333 -79.14,2.342 -79.18,2.28 C-79.22,2.218 -79.237,1.963 -79.2,1.91 Z" fill="#4c4cff"/>
<path d="M-79.81,5.78 C-79.747,5.735 -79.588,5.772 -79.43,5.93 C-79.272,6.088 -79.023,6.503 -78.86,6.73 C-78.697,6.957 -78.497,7.127 -78.45,7.29 C-78.403,7.453 -78.48,7.703 -78.58,7.71 C-78.68,7.717 -78.893,7.488 -79.05,7.33 C-79.207,7.172 -79.393,6.948 -79.52,6.76 C-79.647,6.572 -79.762,6.363 -79.81,6.2 C-79.858,6.037 -79.873,5.825 -79.81,5.78 Z" fill="#8080ff"/>
<path d="M-78.11,2.19 C-78.028,2.102 -77.675,2.112 -77.58,2.19 C-77.485,2.268 -77.458,2.572 -77.54,2.66 C-77.622,2.748 -77.975,2.798 -78.07,2.72 C-78.165,2.642 -78.192,2.278 -78.11,2.19 Z" fill="#b2b2ff"/>
<path d="M-77.35,2.42 C-77.207,2.34 -76.563,2.382 -76.4,2.47 C-76.237,2.558 -76.227,2.87 -76.37,2.95 C-76.513,3.03 -77.097,3.038 -77.26,2.95 C-77.423,2.862 -77.493,2.5 -77.35,2.42 Z" fill="#b2b2ff"/>
<path d="M-76.31,2.38 C-76.273,2.323 -76.083,2.357 -76.03,2.42 C-75.977,2.483 -75.953,2.703 -75.99,2.76 C-76.027,2.817 -76.197,2.823 -76.25,2.76 C-76.303,2.697 -76.347,2.437 -76.31,2.38 Z" fill="#b2b2ff"/>
<path d="M-77.12,4.42 C-77.092,4.325 -76.965,4.325 -76.93,4.42 C-76.895,4.515 -76.882,4.895 -76.91,4.99 C-76.938,5.085 -77.065,5.085 -77.1,4.99 C-77.135,4.895 -77.148,4.515 -77.12,4.42 Z" fill="#b2b2ff"/>
<path d="M-77.54,6.73 C-77.445,6.637 -77.133,6.732 -76.97,6.92 C-76.807,7.108 -76.598,7.608 -76.56,7.86 C-76.522,8.112 -76.623,8.36 -76.74,8.43 C-76.857,8.5 -77.127,8.438 -77.26,8.28 C-77.393,8.122 -77.493,7.738 -77.54,7.48 C-77.587,7.222 -77.635,6.823 -77.54,6.73 Z" fill="#ffe6e6"/>
<path d="M-76.4,8.24 C-76.368,8.005 -76.028,8.023 -75.84,8.15 C-75.652,8.277 -75.35,8.733 -75.27,9 C-75.19,9.267 -75.233,9.657 -75.36,9.75 C-75.487,9.843 -75.857,9.812 -76.03,9.56 C-76.203,9.308 -76.432,8.475 -76.4,8.24 Z" fill="#ffe6e6"/>
<path d="M-81.32,5.78 C-81.263,5.628 -80.723,5.527 -80.56,5.59 C-80.397,5.653 -80.283,6.008 -80.34,6.16 C-80.397,6.312 -80.737,6.563 -80.9,6.5 C-81.063,6.437 -81.377,5.932 -81.32,5.78 Z" fill="#ffe6e6"/>
<path d="M-68.09,8.43 C-67.93,8.303 -67.207,8.22 -67.03,8.33 C-66.853,8.44 -66.87,8.963 -67.03,9.09 C-67.19,9.217 -67.813,9.2 -67.99,9.09 C-68.167,8.98 -68.25,8.557 -68.09,8.43 Z" fill="#ffe6e6"/>
<path d="M-78.11,5.4 C-78.022,5.328 -77.642,5.405 -77.54,5.5 C-77.438,5.595 -77.412,5.898 -77.5,5.97 C-77.588,6.042 -77.968,6.025 -78.07,5.93 C-78.172,5.835 -78.198,5.472 -78.11,5.4 Z" fill="#ffe6e6"/>
<path d="M-67.28,-4.71 C-67.192,-4.788 -66.805,-4.788 -66.71,-4.71 C-66.615,-4.632 -66.622,-4.318 -66.71,-4.24 C-66.798,-4.162 -67.145,-4.162 -67.24,-4.24 C-67.335,-4.318 -67.368,-4.632 -67.28,-4.71 Z" fill="#e6e6ff"/>
<path d="M-59.53,3.13 C-59.482,2.973 -59.148,2.822 -58.96,2.57 C-58.772,2.318 -58.51,1.935 -58.4,1.62 C-58.29,1.305 -58.363,0.9 -58.3,0.68 C-58.237,0.46 -58.115,0.3 -58.02,0.3 C-57.925,0.3 -57.793,0.523 -57.73,0.68 C-57.667,0.837 -57.782,1.24 -57.64,1.24 C-57.498,1.24 -57.195,0.805 -56.88,0.68 C-56.565,0.555 -56.065,0.49 -55.75,0.49 C-55.435,0.49 -55.18,0.57 -54.99,0.68 C-54.8,0.79 -54.862,1.103 -54.61,1.15 C-54.358,1.197 -53.732,1.038 -53.48,0.96 C-53.228,0.882 -53.195,0.853 -53.1,0.68 C-53.005,0.507 -52.878,0.142 -52.91,-0.08 C-52.942,-0.302 -53.148,-0.445 -53.29,-0.65 C-53.432,-0.855 -53.728,-1.122 -53.76,-1.31 C-53.792,-1.498 -53.622,-1.638 -53.48,-1.78 C-53.338,-1.922 -53.037,-2.033 -52.91,-2.16 C-52.783,-2.287 -52.845,-2.383 -52.72,-2.54 C-52.595,-2.697 -52.38,-2.975 -52.16,-3.1 C-51.94,-3.225 -51.622,-3.352 -51.4,-3.29 C-51.178,-3.228 -51.24,-2.918 -50.83,-2.73 C-50.42,-2.542 -49.255,-2.602 -48.94,-2.16 C-48.625,-1.718 -48.94,-0.773 -48.94,-0.08 C-48.94,0.613 -48.94,1.307 -48.94,2 C-48.94,2.693 -48.94,3.387 -48.94,4.08 C-48.94,4.773 -48.672,5.807 -48.94,6.16 C-49.208,6.513 -50.235,6.295 -50.55,6.2 C-50.865,6.105 -50.657,5.755 -50.83,5.59 C-51.003,5.425 -51.275,5.32 -51.59,5.21 C-51.905,5.1 -52.342,4.977 -52.72,4.93 C-53.098,4.883 -53.545,4.977 -53.86,4.93 C-54.175,4.883 -54.327,4.728 -54.61,4.65 C-54.893,4.572 -55.245,4.555 -55.56,4.46 C-55.875,4.365 -56.217,4.175 -56.5,4.08 C-56.783,3.985 -56.943,3.89 -57.26,3.89 C-57.577,3.89 -58.148,4.08 -58.4,4.08 C-58.652,4.08 -58.628,3.985 -58.77,3.89 C-58.912,3.795 -59.123,3.637 -59.25,3.51 C-59.377,3.383 -59.578,3.287 -59.53,3.13 Z" fill="#b2b2ff"/>
<path d="M-57.54,1.34 C-57.397,1.255 -56.862,1.15 -56.5,1.15 C-56.138,1.15 -55.685,1.277 -55.37,1.34 C-55.055,1.403 -54.798,1.452 -54.61,1.53 C-54.422,1.608 -54.208,1.725 -54.24,1.81 C-54.272,1.895 -54.548,2.033 -54.8,2.04 C-55.052,2.047 -55.435,1.898 -55.75,1.85 C-56.065,1.802 -56.422,1.782 -56.69,1.75 C-56.958,1.718 -57.218,1.728 -57.36,1.66 C-57.502,1.592 -57.683,1.425 -57.54,1.34 Z" fill="#e6e6ff"/>
<path d="M-54.61,3.51 C-54.563,3.377 -54.182,3.257 -54.05,3.32 C-53.918,3.383 -53.773,3.757 -53.82,3.89 C-53.867,4.023 -54.198,4.183 -54.33,4.12 C-54.462,4.057 -54.657,3.643 -54.61,3.51 Z" fill="#e6e6ff"/>
<path d="M-55.52,2.66 C-55.467,2.465 -55.253,2.237 -55.14,2.19 C-55.027,2.143 -54.865,2.223 -54.84,2.38 C-54.815,2.537 -54.887,2.967 -54.99,3.13 C-55.093,3.293 -55.372,3.438 -55.46,3.36 C-55.548,3.282 -55.573,2.855 -55.52,2.66 Z" fill="#8080ff"/>
<path d="M-51.59,3.32 C-51.495,3.188 -51.272,2.997 -50.83,2.95 C-50.388,2.903 -49.255,2.71 -48.94,3.04 C-48.625,3.37 -48.688,4.625 -48.94,4.93 C-49.192,5.235 -50.167,4.98 -50.45,4.87 C-50.733,4.76 -50.482,4.458 -50.64,4.27 C-50.798,4.082 -51.242,3.898 -51.4,3.74 C-51.558,3.582 -51.685,3.452 -51.59,3.32 Z" fill="#8080ff"/>
<path d="M-50.74,-1.97 C-50.425,-2.097 -49.24,-2.033 -48.94,-1.78 C-48.64,-1.528 -48.94,-0.897 -48.94,-0.455 C-48.94,-0.013 -48.688,0.681 -48.94,0.87 C-49.192,1.059 -50.15,0.838 -50.45,0.68 C-50.75,0.522 -50.677,0.203 -50.74,-0.08 C-50.803,-0.363 -50.83,-0.705 -50.83,-1.02 C-50.83,-1.335 -51.055,-1.843 -50.74,-1.97 Z" fill="#8080ff"/>
<path d="M-60.66,1.43 C-60.613,1.278 -60.447,1.2 -60.29,1.28 C-60.133,1.36 -59.752,1.758 -59.72,1.91 C-59.688,2.062 -59.958,2.143 -60.1,2.19 C-60.242,2.237 -60.477,2.317 -60.57,2.19 C-60.663,2.063 -60.707,1.582 -60.66,1.43 Z" fill="#b2b2ff"/>
<path d="M-61.8,3.23 C-61.768,3.137 -61.357,3.045 -61.23,2.95 C-61.103,2.855 -61.103,2.598 -61.04,2.66 C-60.977,2.722 -60.787,3.178 -60.85,3.32 C-60.913,3.462 -61.262,3.525 -61.42,3.51 C-61.578,3.495 -61.832,3.323 -61.8,3.23 Z" fill="#b2b2ff"/>
<path d="M-60.85,3.7 C-60.757,3.51 -60.39,3.383 -60.29,3.51 C-60.19,3.637 -60.203,4.207 -60.25,4.46 C-60.297,4.713 -60.47,4.998 -60.57,5.03 C-60.67,5.062 -60.803,4.872 -60.85,4.65 C-60.897,4.428 -60.943,3.89 -60.85,3.7 Z" fill="#b2b2ff"/>
<path d="M-63.03,2.38 C-62.983,2.307 -62.723,2.233 -62.65,2.28 C-62.577,2.327 -62.543,2.587 -62.59,2.66 C-62.637,2.733 -62.857,2.767 -62.93,2.72 C-63.003,2.673 -63.077,2.453 -63.03,2.38 Z" fill="#b2b2ff"/>
<path d="M-61.7,6.07 C-61.637,6 -61.323,5.923 -61.23,5.97 C-61.137,6.017 -61.077,6.28 -61.14,6.35 C-61.203,6.42 -61.517,6.437 -61.61,6.39 C-61.703,6.343 -61.763,6.14 -61.7,6.07 Z" fill="#b2b2ff"/>
<path d="M-57.17,-1.31 C-57.1,-1.373 -56.775,-1.453 -56.69,-1.4 C-56.605,-1.347 -56.59,-1.053 -56.66,-0.99 C-56.73,-0.927 -57.025,-0.967 -57.11,-1.02 C-57.195,-1.073 -57.24,-1.247 -57.17,-1.31 Z" fill="#b2b2ff"/>
<path d="M-66.34,11.64 C-66.64,11.42 -66.277,10.76 -66.245,10.32 C-66.213,9.88 -66.229,9.347 -66.15,9 C-66.071,8.653 -65.96,8.398 -65.77,8.24 C-65.58,8.082 -65.262,8.113 -65.01,8.05 C-64.758,7.987 -64.512,7.86 -64.26,7.86 C-64.008,7.86 -63.722,8.113 -63.5,8.05 C-63.278,7.987 -63.088,7.512 -62.93,7.48 C-62.772,7.448 -62.675,7.67 -62.55,7.86 C-62.425,8.05 -62.337,8.43 -62.18,8.62 C-62.023,8.81 -61.832,8.875 -61.61,9 C-61.388,9.125 -61.008,8.93 -60.85,9.37 C-60.692,9.81 -60.376,11.262 -60.66,11.64 C-60.944,12.018 -61.922,11.64 -62.553,11.64 C-63.184,11.64 -63.816,11.64 -64.447,11.64 C-65.078,11.64 -66.04,11.86 -66.34,11.64 Z" fill="#ffe6e6"/>
<path d="M-59.53,11.64 C-59.808,11.388 -59.467,10.633 -59.435,10.13 C-59.403,9.627 -59.419,8.998 -59.34,8.62 C-59.261,8.242 -59.18,8.05 -58.96,7.86 C-58.74,7.67 -58.335,7.59 -58.02,7.48 C-57.705,7.37 -57.385,7.2 -57.07,7.2 C-56.755,7.2 -56.413,7.307 -56.13,7.48 C-55.847,7.653 -55.623,7.987 -55.37,8.24 C-55.117,8.493 -54.767,8.653 -54.61,9 C-54.453,9.347 -54.487,9.88 -54.425,10.32 C-54.363,10.76 -53.977,11.42 -54.24,11.64 C-54.503,11.86 -55.416,11.64 -56.003,11.64 C-56.591,11.64 -57.179,11.64 -57.767,11.64 C-58.354,11.64 -59.252,11.892 -59.53,11.64 Z" fill="#ffe6e6"/>
<path d="M-68.79,8.62 C-68.538,8.51 -67.563,8.457 -67.28,8.52 C-66.997,8.583 -66.838,8.89 -67.09,9 C-67.342,9.11 -68.507,9.243 -68.79,9.18 C-69.073,9.117 -69.042,8.73 -68.79,8.62 Z" fill="#ffe6e6"/>
<path d="M-52.35,11.64 C-52.572,11.293 -52.033,9.875 -51.78,9.56 C-51.527,9.245 -51.052,9.403 -50.83,9.75 C-50.608,10.097 -50.197,11.325 -50.45,11.64 C-50.703,11.955 -52.128,11.987 -52.35,11.64 Z" fill="#ffe6e6"/>
<path d="M-71.55,-10.6 C-71.65,-10.6 -71.775,-10.25 -71.85,-10.1 C-71.925,-9.95 -72.008,-9.833 -72,-9.7 C-71.992,-9.567 -71.883,-9.397 -71.8,-9.3 C-71.717,-9.203 -71.6,-9.128 -71.5,-9.12 C-71.4,-9.112 -71.267,-9.153 -71.2,-9.25 C-71.133,-9.347 -71.092,-9.558 -71.1,-9.7 C-71.108,-9.842 -71.175,-9.95 -71.25,-10.1 C-71.325,-10.25 -71.45,-10.6 -71.55,-10.6 Z" fill="#ff7e7e"/>
<path d="M-71.55,-9.92 C-71.493,-9.92 -71.38,-9.792 -71.38,-9.73 C-71.38,-9.668 -71.493,-9.55 -71.55,-9.55 C-71.607,-9.55 -71.72,-9.668 -71.72,-9.73 C-71.72,-9.792 -71.607,-9.92 -71.55,-9.92 Z" fill="#ffffff"/>
</g>
<path d="M-84,-19 V10 M-78,-19 V10 M-72,-19 V10 M-66,-19 V10 M-60,-19 V10 M-54,-19 V10 M-85,-18 H-50 M-85,-12 H-50 M-85,-6 H-50 M-85,0 H-50 M-85,6 H-50" stroke="#bdbdbd" stroke-width="0.8" stroke-dasharray="2.1,1.05" vector-effect="non-scaling-stroke" fill="none"/>
<g fill="none" stroke="#000" stroke-width="1" vector-effect="non-scaling-stroke" stroke-linejoin="round">
<path d="M-86,-16 L-85.02,-16 L-84.6,-15.88 L-84.2,-15.75 L-83.9,-15.55 L-83.5,-15.3 L-83.21,-15.03 L-83.26,-14.83 L-83.18,-14.5 L-83.34,-14.09 L-83.5,-13.68 L-83.58,-13.35 L-83.58,-12.86 L-83.67,-12.53 L-83.79,-11.96 L-83.85,-11.47 L-83.73,-11.01 L-83.38,-10.49 L-82.95,-9.98 L-82.53,-9.55 L-82.18,-9.29 L-81.75,-8.95 L-81.41,-8.82 L-80.98,-8.95 L-80.47,-9.21 L-79.96,-9.47 L-79.53,-9.64 L-79.01,-9.47 L-78.5,-9.38 L-77.98,-9.21 L-77.47,-8.78 L-77.15,-8.44 L-76.95,-8.5 L-76.88,-8.2 L-76.85,-7.94 L-76.8,-8.2 L-76.85,-8.55 L-76.57,-8.76 L-76.16,-9.25 L-75.83,-9.5 L-75.66,-9.75 L-75.62,-10.16 L-75.5,-10.57 L-75.09,-10.98 L-74.76,-11.1 L-74.55,-10.95 L-74.35,-11.14 L-74.19,-11.3 L-73.7,-11.26 L-73.29,-11.34 L-72.8,-11.63 L-72.39,-11.88 L-72.16,-12.1 L-71.88,-12.39 L-71.63,-12.43 L-71.3,-12.39 L-71.14,-12.23 L-71.18,-12.02 L-71.39,-11.82 L-71.71,-11.66 L-71.96,-11.53 L-71.85,-11.25 L-71.62,-10.92 L-71.5,-10.95 L-71.14,-11.04 L-70.65,-11.25 L-70.24,-11.53 L-70.28,-11.86 L-70.16,-12.11 L-69.95,-12.11 L-69.83,-11.86 L-69.79,-11.57 L-69.66,-11.49 L-69.25,-11.45 L-68.84,-11.37 L-68.52,-11.2 L-68.35,-10.96 L-68.27,-10.71 L-68.11,-10.51 L-67.7,-10.47 L-67.2,-10.55 L-66.71,-10.59 L-66.12,-10.6 L-65.96,-10.34 L-65.55,-10.18 L-65.06,-10.02 L-64.73,-10.14 L-64.4,-10.34 L-64.16,-10.51 L-63.75,-10.63 L-63.17,-10.67 L-62.68,-10.71 L-62.2,-10.7 L-61.86,-10.7 L-62.3,-10.55 L-62.75,-10.45 L-62.9,-10.2 L-62.6,-10 L-62.35,-9.89 L-61.94,-9.73 L-61.5,-9.5 L-61.04,-9.24 L-60.9,-8.9 L-60.55,-8.58 L-60.06,-8.5 L-59.65,-8.34 L-59.24,-8.13 L-58.95,-7.83 L-58.48,-7.25 L-58.45,-6.9 L-58.13,-6.78 L-57.54,-6.31 L-57.08,-6.02 L-56.49,-5.91 L-55.91,-5.79 L-55.09,-5.85 L-54.5,-5.82 L-53.92,-5.73 L-53.22,-5.5 L-52.75,-5.32 L-52.28,-4.92 L-51.81,-4.57 L-51.46,-4.33 L-51.2,-4.2 L-51.11,-3.87 L-50.88,-3.17 L-50.7,-2.47 L-50.53,-2 L-50.3,-1.85 L-50,-1.77 L-49,-1.77 L-49,11 L-78,11 L-78.2,10 L-78.38,9.59 L-78.61,9.01 L-78.96,8.31 L-79.31,7.72 L-79.66,7.26 L-80.01,6.91 L-80.48,6.56 L-80.94,6.32 L-81.06,5.86 L-80.94,5.39 L-81.18,5.04 L-81.35,4.69 L-81.29,4.22 L-81.06,3.87 L-80.59,3.41 L-80.24,3.06 L-79.85,2.75 L-79.8,2.3 L-79.95,2.15 L-80.2,2.55 L-80.59,2.47 L-80.94,2.24 L-80.85,1.8 L-80.94,1.07 L-80.71,0.84 L-80.42,0.61 L-80.36,0.14 L-80.13,-0.44 L-80.1,-0.72 L-79.81,-0.95 L-79.46,-1.07 L-79.17,-1.4 L-78.93,-1.65 L-78.76,-1.89 L-78.68,-2.19 L-78.27,-2.6 L-77.94,-2.76 L-77.53,-3 L-77.3,-3.4 L-77.12,-3.75 L-77.29,-4.16 L-77.37,-4.57 L-77.53,-5.14 L-77.61,-5.47 L-77.35,-5.75 L-77.37,-6.2 L-77.45,-6.7 L-77.78,-7.11 L-78.11,-7.6 L-78.35,-8 L-78.45,-8.4 L-78.76,-8.83 L-79.09,-9.07 L-79.53,-8.87 L-79.78,-8.61 L-80.13,-8.35 L-80.47,-8.27 L-80.3,-7.9 L-80.04,-7.58 L-80.13,-7.33 L-80.47,-7.24 L-80.9,-7.33 L-81.16,-7.67 L-81.58,-7.84 L-82.01,-8.18 L-82.44,-8.27 L-82.95,-8.18 L-83.21,-8.35 L-83.47,-8.52 L-83.73,-8.78 L-84,-9.15 L-84.33,-9.47 L-84.67,-9.72 L-85.01,-9.98 L-86,-10 Z" vector-effect="non-scaling-stroke"/>
<path d="M-71.55,-10.71 L-71.8,-10.22 L-72.04,-9.81 L-71.96,-9.48 L-71.8,-9.24 L-71.55,-9.07 L-71.22,-9.16 L-71.1,-9.4 L-71.06,-9.73 L-71.22,-10.06 L-71.47,-10.47 Z" vector-effect="non-scaling-stroke"/>
<path d="M-78.42,-18.39 L-78.03,-18.49 L-77.41,-18.47 L-76.79,-18.39 L-76.25,-18.08 L-76.41,-17.92 L-77.1,-17.88 L-77.26,-17.72 L-77.57,-17.88 L-78.03,-18 L-78.34,-18.15 Z" vector-effect="non-scaling-stroke"/>
<path d="M-74.48,-18.3 L-74.32,-18.62 L-73.7,-18.62 L-73,-18.5 L-72.5,-18.55 L-72.75,-19.1 L-68.6,-19.1 L-68.3,-18.62 L-68.68,-18.15 L-69.1,-18.3 L-69.68,-18.23 L-70.6,-18.23 L-71.1,-18.1 L-71.4,-17.62 L-71.6,-17.65 L-71.8,-18.05 L-72.5,-18.15 L-73.2,-18.15 L-73.7,-18.08 L-74.2,-18.25 Z" vector-effect="non-scaling-stroke"/>
<path d="M-73.3,-18.85 L-72.9,-18.75 L-72.8,-18.85 L-73.2,-18.95 Z" vector-effect="non-scaling-stroke"/>
<path d="M-67.21,-18.45 L-65.82,-18.44 L-65.59,-18.23 L-65.74,-17.92 L-67.21,-17.88 L-67.29,-18.15 Z" vector-effect="non-scaling-stroke"/>
<path d="M-61.7,-10.72 L-60.92,-10.82 L-60.96,-10.12 L-61.45,-10.08 L-61.5,-10.4 L-61.65,-10.6 Z" vector-effect="non-scaling-stroke"/>
<path d="M-64.4,-11 L-64.2,-11.12 L-63.85,-11.15 L-63.8,-10.95 L-64,-10.9 L-64.3,-10.88 Z" vector-effect="non-scaling-stroke"/>
<path d="M-69.17,-12.38 L-68.95,-12.2 L-68.75,-12.02 L-68.8,-12.05 L-69,-12.2 Z" vector-effect="non-scaling-stroke"/>
<path d="M-70.06,-12.62 L-69.88,-12.45 L-69.9,-12.42 L-70.05,-12.55 Z" vector-effect="non-scaling-stroke"/>
<path d="M-68.42,-12.3 L-68.2,-12.05 L-68.25,-12.02 L-68.4,-12.2 Z" vector-effect="non-scaling-stroke"/>
<path d="M-61.8,-16.3 L-61.55,-16.5 L-61.45,-16.3 L-61.2,-16.25 L-61.55,-16.2 L-61.7,-15.95 L-61.8,-16.1 Z" vector-effect="non-scaling-stroke"/>
<ellipse cx="-61.35" cy="-15.4" rx="0.1" ry="0.22" vector-effect="non-scaling-stroke"/>
<ellipse cx="-61" cy="-14.65" rx="0.13" ry="0.22" vector-effect="non-scaling-stroke"/>
<ellipse cx="-60.97" cy="-13.9" rx="0.08" ry="0.18" vector-effect="non-scaling-stroke"/>
<ellipse cx="-61.2" cy="-13.25" rx="0.07" ry="0.13" vector-effect="non-scaling-stroke"/>
<ellipse cx="-61.68" cy="-12.12" rx="0.08" ry="0.1" vector-effect="non-scaling-stroke"/>
<ellipse cx="-59.55" cy="-13.17" rx="0.1" ry="0.14" vector-effect="non-scaling-stroke"/>
<ellipse cx="-60.65" cy="-11.22" rx="0.18" ry="0.07" vector-effect="non-scaling-stroke"/>
<ellipse cx="-61.8" cy="-17.08" rx="0.12" ry="0.08" vector-effect="non-scaling-stroke"/>
<ellipse cx="-61.8" cy="-17.63" rx="0.08" ry="0.08" vector-effect="non-scaling-stroke"/>
<ellipse cx="-62.2" cy="-16.75" rx="0.05" ry="0.07" vector-effect="non-scaling-stroke"/>
<ellipse cx="-62.7" cy="-17.25" rx="0.1" ry="0.1" vector-effect="non-scaling-stroke"/>
<ellipse cx="-62.98" cy="-17.5" rx="0.03" ry="0.03" vector-effect="non-scaling-stroke"/>
<ellipse cx="-63.23" cy="-17.63" rx="0.03" ry="0.03" vector-effect="non-scaling-stroke"/>
<ellipse cx="-63.05" cy="-18.05" rx="0.08" ry="0.06" vector-effect="non-scaling-stroke"/>
<ellipse cx="-63.05" cy="-18.2" rx="0.1" ry="0.04" vector-effect="non-scaling-stroke"/>
<ellipse cx="-62.85" cy="-17.9" rx="0.04" ry="0.04" vector-effect="non-scaling-stroke"/>
<ellipse cx="-64.8" cy="-18.35" rx="0.15" ry="0.05" vector-effect="non-scaling-stroke"/>
<ellipse cx="-64.55" cy="-18.45" rx="0.1" ry="0.04" vector-effect="non-scaling-stroke"/>
<ellipse cx="-61.25" cy="-15.95" rx="0.08" ry="0.08" vector-effect="non-scaling-stroke"/>
<ellipse cx="-66.2" cy="-11.8" rx="0.06" ry="0.03" vector-effect="non-scaling-stroke"/>
<ellipse cx="-66.75" cy="-11.85" rx="0.1" ry="0.05" vector-effect="non-scaling-stroke"/>
<ellipse cx="-64.6" cy="-11.85" rx="0.05" ry="0.04" vector-effect="non-scaling-stroke"/>
<ellipse cx="-65.34" cy="-10.92" rx="0.1" ry="0.04" vector-effect="non-scaling-stroke"/>
<ellipse cx="-63.1" cy="-11.4" rx="0.03" ry="0.03" vector-effect="non-scaling-stroke"/>
<ellipse cx="-67.7" cy="-11.98" rx="0.05" ry="0.03" vector-effect="non-scaling-stroke"/>
<ellipse cx="-81.4" cy="-13.35" rx="0.05" ry="0.06" vector-effect="non-scaling-stroke"/>
<ellipse cx="-81.72" cy="-12.55" rx="0.04" ry="0.07" vector-effect="non-scaling-stroke"/>
<ellipse cx="-83.05" cy="-12.17" rx="0.05" ry="0.04" vector-effect="non-scaling-stroke"/>
<ellipse cx="-82.77" cy="-14.38" rx="0.05" ry="0.05" vector-effect="non-scaling-stroke"/>
<ellipse cx="-80.14" cy="-13.56" rx="0.03" ry="0.03" vector-effect="non-scaling-stroke"/>
<ellipse cx="-81.67" cy="-3.98" rx="0.04" ry="0.04" vector-effect="non-scaling-stroke"/>
<ellipse cx="-75" cy="-18.4" rx="0.03" ry="0.03" vector-effect="non-scaling-stroke"/>
<ellipse cx="-68.9" cy="-18.15" rx="0.08" ry="0.04" vector-effect="non-scaling-stroke"/>
<ellipse cx="-67.85" cy="-18.1" rx="0.05" ry="0.03" vector-effect="non-scaling-stroke"/>
<ellipse cx="-63.6" cy="-15.7" rx="0.02" ry="0.02" vector-effect="non-scaling-stroke"/>
<ellipse cx="-61.6" cy="-12.6" rx="0.05" ry="0.1" vector-effect="non-scaling-stroke"/>
<ellipse cx="-61.3" cy="-12.9" rx="0.04" ry="0.08" vector-effect="non-scaling-stroke"/>
<path d="M-52.7,1.57 L-52.37,1.4 L-51.94,1.32 L-51.72,1.05 L-51.55,0.67 L-51.33,0.34 L-51.17,0.07 L-50.9,-0.15 L-50.57,-0.43 L-50.24,-0.75 L-50,-1.03" vector-effect="non-scaling-stroke"/>
<path d="M-52.65,1.6 L-52.1,1.5 L-51.66,1.43 L-51.23,1.05 L-50.9,0.72 L-50.57,0.45 L-50,0.12" vector-effect="non-scaling-stroke"/>
<path d="M-51.23,0.12 L-50.9,0.01 L-50.46,-0.04 L-50,-0.1" vector-effect="non-scaling-stroke"/>
<path d="M-50.9,0.67 L-50.79,1.05 L-50.68,1.65 L-50.46,1.87 L-50.24,1.76 L-50,1.65" vector-effect="non-scaling-stroke"/>
<path d="M-51,-0 L-50.5,-0.25 L-50,-0.55" vector-effect="non-scaling-stroke"/>
<path d="M-50.7,1.2 L-50.4,1.1 L-50,1" vector-effect="non-scaling-stroke"/>
<path d="M-52.5,1.5 L-52.3,1.62 L-52.1,1.55" vector-effect="non-scaling-stroke"/>
</g>
<g fill="none" stroke="#222" stroke-width="0.6" vector-effect="non-scaling-stroke" stroke-linejoin="round">
<path d="M-85.02,-14.8 L-84.5,-14.62 L-84,-14.75 L-83.5,-14.92 L-83.21,-15.03" vector-effect="non-scaling-stroke"/>
<path d="M-85.02,-11.1 L-84.6,-11.1 L-84.15,-10.84 L-83.9,-10.8 L-83.7,-10.93" vector-effect="non-scaling-stroke"/>
<path d="M-82.55,-9.55 L-82.95,-9.47 L-82.8,-9 L-82.91,-8.52 L-82.91,-8.14" vector-effect="non-scaling-stroke"/>
<path d="M-77.37,-8.67 L-77.35,-8.4 L-77.26,-7.94 L-77.34,-7.7 L-77.71,-7.54 L-77.9,-7.2" vector-effect="non-scaling-stroke"/>
<path d="M-71.96,-11.53 L-72.22,-11.14 L-72.71,-10.32 L-73.04,-9.66 L-73.29,-9.17 L-72.88,-9.01 L-72.63,-8.68 L-72.47,-8.19 L-72.39,-7.7 L-72.47,-7.37 L-72.14,-7.2 L-71.81,-7.04 L-71.2,-7 L-70.6,-7.05 L-70.1,-6.95 L-69.6,-6.2 L-69.1,-6.2 L-68.6,-6.2 L-67.9,-6.2 L-67.45,-6.15 L-67.6,-5.7 L-67.8,-5.3 L-67.8,-4.67 L-67.72,-3.99 L-67.29,-3.48 L-67.55,-3.1 L-67.8,-2.79 L-67.29,-2.28 L-67.03,-1.42 L-66.87,-1.22" vector-effect="non-scaling-stroke"/>
<path d="M-66.87,-1.22 L-67.2,-1.6 L-67.8,-1.76 L-69.86,-1.68 L-69.86,-1.2 L-69.26,-0.95 L-69.5,-0.65 L-69.95,-0.57 L-70.03,0.12 L-69.52,0.63 L-69.43,1.32 L-69.69,2.69 L-69.86,4.06 L-70.03,4.32" vector-effect="non-scaling-stroke"/>
<path d="M-70.03,4.32 L-70.63,3.72 L-70.12,2.86 L-70.29,2.6 L-70.8,2.35 L-71.83,2.17 L-72.26,2.43 L-73.03,2.35 L-73.63,1.32 L-74.31,0.72 L-74.83,0.29 L-75.26,0.1" vector-effect="non-scaling-stroke"/>
<path d="M-78.87,-1.35 L-78.41,-0.95 L-77.83,-0.72 L-77.48,-0.37 L-76.78,-0.25 L-76.2,-0.3 L-75.73,-0.14 L-75.26,0.1" vector-effect="non-scaling-stroke"/>
<path d="M-75.26,0.1 L-75.34,0.96 L-75.69,1.77 L-76.39,2.36 L-77.33,2.82 L-78.03,3.41 L-78.38,3.87 L-78.61,4.46 L-79.19,4.92 L-79.8,4.6 L-80.48,4.34 L-80.45,3.8 L-80.3,3.45" vector-effect="non-scaling-stroke"/>
<path d="M-70.03,4.32 L-70.72,4.32 L-72.09,4.74 L-72.94,5.34 L-73.11,6.28 L-73.63,6.8 L-73.97,7.48 L-73.63,8.34 L-73.11,9.02 L-72.94,9.54 L-72.26,9.97 L-71.3,10.05" vector-effect="non-scaling-stroke"/>
<path d="M-71.2,10.2 L-70.9,9.9 L-70.6,9.7" vector-effect="non-scaling-stroke"/>
<path d="M-66.8,10.2 L-66.6,9.95 L-65.9,9.85" vector-effect="non-scaling-stroke"/>
<path d="M-66.87,-1.22 L-66.43,-0.74 L-65.58,-0.74 L-64.89,-1.25 L-64.04,-1.59 L-63.52,-2.11 L-63.44,-2.28 L-64.21,-2.62 L-64.38,-3.48 L-64.55,-3.99 L-63.87,-3.99 L-63.01,-3.73 L-61.81,-4.33 L-60.85,-4.67 L-60.74,-5.2" vector-effect="non-scaling-stroke"/>
<path d="M-60.74,-5.2 L-61.2,-5.6 L-61.2,-6.61 L-60.55,-6.78 L-60.39,-7.11 L-60.63,-7.43 L-60.55,-7.76 L-60.22,-8.09 L-59.89,-8.34" vector-effect="non-scaling-stroke"/>
<path d="M-60.74,-5.2 L-60.35,-5.27 L-60.12,-4.92 L-59.88,-4.33 L-59.65,-3.87 L-59.88,-3.28 L-60,-2.82 L-59.88,-2.24 L-59.65,-1.89 L-59.06,-1.3 L-58.6,-1.3 L-58.13,-1.65 L-57.43,-1.89 L-56.55,-1.89" vector-effect="non-scaling-stroke"/>
<path d="M-57.13,-5.91 L-57.37,-5.03 L-57.78,-4.92 L-58.07,-4.1 L-57.66,-3.34 L-57.25,-3.23 L-57.13,-2.7 L-56.84,-2.24 L-56.55,-1.89" vector-effect="non-scaling-stroke"/>
<path d="M-56.55,-1.89 L-56.02,-1.83 L-56.02,-2.35 L-55.44,-2.47 L-54.97,-2.45 L-54.5,-2.29 L-54.09,-2.12" vector-effect="non-scaling-stroke"/>
<path d="M-54.04,-5.73 L-54.39,-4.92 L-54.44,-4.33 L-54.04,-3.52 L-54.15,-2.93 L-54.44,-2.35 L-54.09,-2.12" vector-effect="non-scaling-stroke"/>
<path d="M-54.09,-2.12 L-53.68,-2.35 L-53.45,-2.06 L-52.98,-2.12 L-52.51,-2.58 L-52.16,-3.17 L-51.81,-3.75 L-51.46,-4.33" vector-effect="non-scaling-stroke"/>
</g>
</svg>
<svg class="map" style="left:46.23px;top:24.13px;width:426.02px;height:352.99px" viewBox="0 0 426.02 352.99">
<circle cx="121.96" cy="106.38" r="6.4" fill="none" stroke="#e62020" stroke-width="0.9"/>
<circle cx="110.89" cy="121.11" r="6.4" fill="none" stroke="#e62020" stroke-width="0.9"/>
<circle cx="96.52" cy="143.51" r="6.4" fill="none" stroke="#e62020" stroke-width="0.9"/>
<circle cx="100.42" cy="155.19" r="6.4" fill="none" stroke="#e62020" stroke-width="0.9"/>
<circle cx="100.78" cy="160.06" r="6.4" fill="none" stroke="#e62020" stroke-width="0.9"/>
<circle cx="102.61" cy="163.71" r="3.2" fill="none" stroke="#2323e6" stroke-width="0.9"/>
<circle cx="101.03" cy="166.15" r="6.4" fill="none" stroke="#e62020" stroke-width="0.9"/>
<circle cx="101.64" cy="169.19" r="6.4" fill="none" stroke="#e62020" stroke-width="0.9"/>
<circle cx="102.00" cy="172.23" r="6.4" fill="none" stroke="#e62020" stroke-width="0.9"/>
<circle cx="167.37" cy="127.44" r="6.4" fill="none" stroke="#e62020" stroke-width="0.9"/>
<circle cx="149.72" cy="135.72" r="6.4" fill="none" stroke="#e62020" stroke-width="0.9"/>
<circle cx="133.65" cy="147.89" r="6.4" fill="none" stroke="#e62020" stroke-width="0.9"/>
<circle cx="133.04" cy="150.93" r="6.4" fill="none" stroke="#e62020" stroke-width="0.9"/>
<circle cx="132.55" cy="153.98" r="6.4" fill="none" stroke="#e62020" stroke-width="0.9"/>
<circle cx="132.07" cy="156.41" r="6.4" fill="none" stroke="#e62020" stroke-width="0.9"/>
<circle cx="124.40" cy="167.97" r="6.4" fill="none" stroke="#e62020" stroke-width="0.9"/>
<circle cx="152.39" cy="164.32" r="6.4" fill="none" stroke="#e62020" stroke-width="0.9"/>
<circle cx="154.95" cy="163.71" r="6.4" fill="none" stroke="#e62020" stroke-width="0.9"/>
<circle cx="162.50" cy="173.82" r="6.4" fill="none" stroke="#e62020" stroke-width="0.9"/>
<circle cx="155.19" cy="178.20" r="6.4" fill="none" stroke="#e62020" stroke-width="0.9"/>
<circle cx="152.76" cy="177.71" r="6.4" fill="none" stroke="#e62020" stroke-width="0.9"/>
<circle cx="144.73" cy="181.00" r="6.4" fill="none" stroke="#e62020" stroke-width="0.9"/>
<circle cx="141.93" cy="184.77" r="6.4" fill="none" stroke="#e62020" stroke-width="0.9"/>
<circle cx="136.33" cy="195.36" r="6.4" fill="none" stroke="#e62020" stroke-width="0.9"/>
<circle cx="142.41" cy="195.36" r="6.4" fill="none" stroke="#e62020" stroke-width="0.9"/>
<circle cx="148.50" cy="200.35" r="6.4" fill="none" stroke="#e62020" stroke-width="0.9"/>
<circle cx="135.84" cy="204.73" r="6.4" fill="none" stroke="#e62020" stroke-width="0.9"/>
<circle cx="94.33" cy="195.85" r="6.4" fill="none" stroke="#e62020" stroke-width="0.9"/>
<circle cx="175.52" cy="197.43" r="3.2" fill="none" stroke="#e62020" stroke-width="0.9"/>
<circle cx="181.73" cy="161.04" r="3.2" fill="none" stroke="#e62020" stroke-width="0.9"/>
<circle cx="182.34" cy="106.99" r="3.2" fill="none" stroke="#2323e6" stroke-width="0.9"/>
<circle cx="95.92" cy="235.16" r="3.2" fill="none" stroke="#2323e6" stroke-width="0.9"/>
<circle cx="160.55" cy="242.95" r="6.4" fill="none" stroke="#e62020" stroke-width="0.9"/>
<circle cx="201.08" cy="156.53" r="3.2" fill="none" stroke="#e62020" stroke-width="0.9"/>
<circle cx="260.36" cy="132.31" r="6.4" fill="none" stroke="#e62020" stroke-width="0.9"/>
<circle cx="299.43" cy="154.10" r="3.2" fill="none" stroke="#2323e6" stroke-width="0.9"/>
<circle cx="321.71" cy="166.39" r="6.4" fill="none" stroke="#e62020" stroke-width="0.9"/>
<circle cx="325.97" cy="171.99" r="6.4" fill="none" stroke="#e62020" stroke-width="0.9"/>
<circle cx="371.85" cy="170.41" r="3.2" fill="none" stroke="#2323e6" stroke-width="0.9"/>
<circle cx="63.78" cy="250.26" r="3.2" fill="none" stroke="#2323e6" stroke-width="0.9"/>
<circle cx="181.61" cy="283.61" r="3.2" fill="none" stroke="#2323e6" stroke-width="0.9"/>
<circle cx="186.84" cy="188.18" r="3.2" fill="none" stroke="#e62020" stroke-width="0.9"/>
<circle cx="201.08" cy="183.19" r="6.4" fill="none" stroke="#e62020" stroke-width="0.9"/>
<circle cx="208.14" cy="183.19" r="6.4" fill="none" stroke="#e62020" stroke-width="0.9"/>
<circle cx="289.21" cy="207.17" r="6.4" fill="none" stroke="#e62020" stroke-width="0.9"/>
<circle cx="245.02" cy="238.57" r="3.2" fill="none" stroke="#2323e6" stroke-width="0.9"/>
<circle cx="223.60" cy="253.66" r="6.4" fill="none" stroke="#e62020" stroke-width="0.9"/>
</svg>
<div class="frame" style="left:45.40px;top:23.00px;width:425.50px;height:352.70px"></div>
<div class="yl" style="right:913.8px;top:27.7px">18</div>
<div class="yl" style="right:913.8px;top:100.7px">12</div>
<div class="yl" style="right:913.8px;top:173.8px">6</div>
<div class="yl" style="right:913.8px;top:246.8px">0</div>
<div class="yl" style="right:913.8px;top:319.8px">−6</div>
<div class="xl" style="left:18.4px;top:377.5px">−84</div>
<div class="xl" style="left:91.4px;top:377.5px">−78</div>
<div class="xl" style="left:164.5px;top:377.5px">−72</div>
<div class="xl" style="left:237.5px;top:377.5px">−66</div>
<div class="xl" style="left:310.5px;top:377.5px">−60</div>
<div class="xl" style="left:383.6px;top:377.5px">−54</div>
<div class="pl" style="left:63.7px;top:33.3px">a<span style="margin-left:3px">)</span></div>
<svg class="map" style="left:507.03px;top:24.13px;width:426.02px;height:352.99px" viewBox="-85 -19 35 29" preserveAspectRatio="none">
<defs><mask id="mb" maskUnits="userSpaceOnUse" x="-85" y="-19" width="35" height="29">
<path d="M-64.9,-18.4 L-63.05,-18.1 L-62.75,-17.3 L-61.8,-17.1 L-61.55,-16.2 L-61.35,-15.4 L-61,-14.65 L-60.97,-13.9 L-61.2,-13.25 L-61.68,-12.12" fill="none" stroke="#fff" stroke-width="0.5" stroke-linejoin="round" stroke-linecap="round"/>
<path d="M-86,-16 L-85.02,-16 L-84.6,-15.88 L-84.2,-15.75 L-83.9,-15.55 L-83.5,-15.3 L-83.21,-15.03 L-83.26,-14.83 L-83.18,-14.5 L-83.34,-14.09 L-83.5,-13.68 L-83.58,-13.35 L-83.58,-12.86 L-83.67,-12.53 L-83.79,-11.96 L-83.85,-11.47 L-83.73,-11.01 L-83.38,-10.49 L-82.95,-9.98 L-82.53,-9.55 L-82.18,-9.29 L-81.75,-8.95 L-81.41,-8.82 L-80.98,-8.95 L-80.47,-9.21 L-79.96,-9.47 L-79.53,-9.64 L-79.01,-9.47 L-78.5,-9.38 L-77.98,-9.21 L-77.47,-8.78 L-77.15,-8.44 L-76.95,-8.5 L-76.88,-8.2 L-76.85,-7.94 L-76.8,-8.2 L-76.85,-8.55 L-76.57,-8.76 L-76.16,-9.25 L-75.83,-9.5 L-75.66,-9.75 L-75.62,-10.16 L-75.5,-10.57 L-75.09,-10.98 L-74.76,-11.1 L-74.55,-10.95 L-74.35,-11.14 L-74.19,-11.3 L-73.7,-11.26 L-73.29,-11.34 L-72.8,-11.63 L-72.39,-11.88 L-72.16,-12.1 L-71.88,-12.39 L-71.63,-12.43 L-71.3,-12.39 L-71.14,-12.23 L-71.18,-12.02 L-71.39,-11.82 L-71.71,-11.66 L-71.96,-11.53 L-71.85,-11.25 L-71.62,-10.92 L-71.5,-10.95 L-71.14,-11.04 L-70.65,-11.25 L-70.24,-11.53 L-70.28,-11.86 L-70.16,-12.11 L-69.95,-12.11 L-69.83,-11.86 L-69.79,-11.57 L-69.66,-11.49 L-69.25,-11.45 L-68.84,-11.37 L-68.52,-11.2 L-68.35,-10.96 L-68.27,-10.71 L-68.11,-10.51 L-67.7,-10.47 L-67.2,-10.55 L-66.71,-10.59 L-66.12,-10.6 L-65.96,-10.34 L-65.55,-10.18 L-65.06,-10.02 L-64.73,-10.14 L-64.4,-10.34 L-64.16,-10.51 L-63.75,-10.63 L-63.17,-10.67 L-62.68,-10.71 L-62.2,-10.7 L-61.86,-10.7 L-62.3,-10.55 L-62.75,-10.45 L-62.9,-10.2 L-62.6,-10 L-62.35,-9.89 L-61.94,-9.73 L-61.5,-9.5 L-61.04,-9.24 L-60.9,-8.9 L-60.55,-8.58 L-60.06,-8.5 L-59.65,-8.34 L-59.24,-8.13 L-58.95,-7.83 L-58.48,-7.25 L-58.45,-6.9 L-58.13,-6.78 L-57.54,-6.31 L-57.08,-6.02 L-56.49,-5.91 L-55.91,-5.79 L-55.09,-5.85 L-54.5,-5.82 L-53.92,-5.73 L-53.22,-5.5 L-52.75,-5.32 L-52.28,-4.92 L-51.81,-4.57 L-51.46,-4.33 L-51.2,-4.2 L-51.11,-3.87 L-50.88,-3.17 L-50.7,-2.47 L-50.53,-2 L-50.3,-1.85 L-50,-1.77 L-49,-1.77 L-49,11 L-78,11 L-78.2,10 L-78.38,9.59 L-78.61,9.01 L-78.96,8.31 L-79.31,7.72 L-79.66,7.26 L-80.01,6.91 L-80.48,6.56 L-80.94,6.32 L-81.06,5.86 L-80.94,5.39 L-81.18,5.04 L-81.35,4.69 L-81.29,4.22 L-81.06,3.87 L-80.59,3.41 L-80.24,3.06 L-79.85,2.75 L-79.8,2.3 L-79.95,2.15 L-80.2,2.55 L-80.59,2.47 L-80.94,2.24 L-80.85,1.8 L-80.94,1.07 L-80.71,0.84 L-80.42,0.61 L-80.36,0.14 L-80.13,-0.44 L-80.1,-0.72 L-79.81,-0.95 L-79.46,-1.07 L-79.17,-1.4 L-78.93,-1.65 L-78.76,-1.89 L-78.68,-2.19 L-78.27,-2.6 L-77.94,-2.76 L-77.53,-3 L-77.3,-3.4 L-77.12,-3.75 L-77.29,-4.16 L-77.37,-4.57 L-77.53,-5.14 L-77.61,-5.47 L-77.35,-5.75 L-77.37,-6.2 L-77.45,-6.7 L-77.78,-7.11 L-78.11,-7.6 L-78.35,-8 L-78.45,-8.4 L-78.76,-8.83 L-79.09,-9.07 L-79.53,-8.87 L-79.78,-8.61 L-80.13,-8.35 L-80.47,-8.27 L-80.3,-7.9 L-80.04,-7.58 L-80.13,-7.33 L-80.47,-7.24 L-80.9,-7.33 L-81.16,-7.67 L-81.58,-7.84 L-82.01,-8.18 L-82.44,-8.27 L-82.95,-8.18 L-83.21,-8.35 L-83.47,-8.52 L-83.73,-8.78 L-84,-9.15 L-84.33,-9.47 L-84.67,-9.72 L-85.01,-9.98 L-86,-10 Z" fill="#fff" stroke="#fff" stroke-width="0.75" stroke-linejoin="round"/>
<path d="M-78.42,-18.39 L-78.03,-18.49 L-77.41,-18.47 L-76.79,-18.39 L-76.25,-18.08 L-76.41,-17.92 L-77.1,-17.88 L-77.26,-17.72 L-77.57,-17.88 L-78.03,-18 L-78.34,-18.15 Z" fill="#fff" stroke="#fff" stroke-width="0.5" stroke-linejoin="round"/>
<path d="M-74.48,-18.3 L-74.32,-18.62 L-73.7,-18.62 L-73,-18.5 L-72.5,-18.55 L-72.75,-19.1 L-68.6,-19.1 L-68.3,-18.62 L-68.68,-18.15 L-69.1,-18.3 L-69.68,-18.23 L-70.6,-18.23 L-71.1,-18.1 L-71.4,-17.62 L-71.6,-17.65 L-71.8,-18.05 L-72.5,-18.15 L-73.2,-18.15 L-73.7,-18.08 L-74.2,-18.25 Z" fill="#fff" stroke="#fff" stroke-width="0.5" stroke-linejoin="round"/>
<path d="M-73.3,-18.85 L-72.9,-18.75 L-72.8,-18.85 L-73.2,-18.95 Z" fill="#fff" stroke="#fff" stroke-width="0.5" stroke-linejoin="round"/>
<path d="M-67.21,-18.45 L-65.82,-18.44 L-65.59,-18.23 L-65.74,-17.92 L-67.21,-17.88 L-67.29,-18.15 Z" fill="#fff" stroke="#fff" stroke-width="0.5" stroke-linejoin="round"/>
<path d="M-61.7,-10.72 L-60.92,-10.82 L-60.96,-10.12 L-61.45,-10.08 L-61.5,-10.4 L-61.65,-10.6 Z" fill="#fff" stroke="#fff" stroke-width="0.5" stroke-linejoin="round"/>
<path d="M-64.4,-11 L-64.2,-11.12 L-63.85,-11.15 L-63.8,-10.95 L-64,-10.9 L-64.3,-10.88 Z" fill="#fff" stroke="#fff" stroke-width="0.5" stroke-linejoin="round"/>
<path d="M-69.17,-12.38 L-68.95,-12.2 L-68.75,-12.02 L-68.8,-12.05 L-69,-12.2 Z" fill="#fff" stroke="#fff" stroke-width="0.5" stroke-linejoin="round"/>
<path d="M-70.06,-12.62 L-69.88,-12.45 L-69.9,-12.42 L-70.05,-12.55 Z" fill="#fff" stroke="#fff" stroke-width="0.5" stroke-linejoin="round"/>
<path d="M-68.42,-12.3 L-68.2,-12.05 L-68.25,-12.02 L-68.4,-12.2 Z" fill="#fff" stroke="#fff" stroke-width="0.5" stroke-linejoin="round"/>
<path d="M-61.8,-16.3 L-61.55,-16.5 L-61.45,-16.3 L-61.2,-16.25 L-61.55,-16.2 L-61.7,-15.95 L-61.8,-16.1 Z" fill="#fff" stroke="#fff" stroke-width="0.5" stroke-linejoin="round"/>
<ellipse cx="-61.35" cy="-15.4" rx="0.1" ry="0.22" fill="#fff" stroke="#fff" stroke-width="0.5"/>
<ellipse cx="-61" cy="-14.65" rx="0.13" ry="0.22" fill="#fff" stroke="#fff" stroke-width="0.5"/>
<ellipse cx="-60.97" cy="-13.9" rx="0.08" ry="0.18" fill="#fff" stroke="#fff" stroke-width="0.5"/>
<ellipse cx="-61.2" cy="-13.25" rx="0.07" ry="0.13" fill="#fff" stroke="#fff" stroke-width="0.5"/>
<ellipse cx="-61.68" cy="-12.12" rx="0.08" ry="0.1" fill="#fff" stroke="#fff" stroke-width="0.5"/>
<ellipse cx="-59.55" cy="-13.17" rx="0.1" ry="0.14" fill="#fff" stroke="#fff" stroke-width="0.5"/>
<ellipse cx="-60.65" cy="-11.22" rx="0.18" ry="0.07" fill="#fff" stroke="#fff" stroke-width="0.5"/>
<ellipse cx="-61.8" cy="-17.08" rx="0.12" ry="0.08" fill="#fff" stroke="#fff" stroke-width="0.5"/>
<ellipse cx="-61.8" cy="-17.63" rx="0.08" ry="0.08" fill="#fff" stroke="#fff" stroke-width="0.3"/>
<ellipse cx="-62.2" cy="-16.75" rx="0.05" ry="0.07" fill="#fff" stroke="#fff" stroke-width="0.3"/>
<ellipse cx="-62.7" cy="-17.25" rx="0.1" ry="0.1" fill="#fff" stroke="#fff" stroke-width="0.5"/>
<ellipse cx="-62.98" cy="-17.5" rx="0.03" ry="0.03" fill="#fff" stroke="#fff" stroke-width="0.3"/>
<ellipse cx="-63.23" cy="-17.63" rx="0.03" ry="0.03" fill="#fff" stroke="#fff" stroke-width="0.3"/>
<ellipse cx="-63.05" cy="-18.05" rx="0.08" ry="0.06" fill="#fff" stroke="#fff" stroke-width="0.3"/>
<ellipse cx="-63.05" cy="-18.2" rx="0.1" ry="0.04" fill="#fff" stroke="#fff" stroke-width="0.5"/>
<ellipse cx="-62.85" cy="-17.9" rx="0.04" ry="0.04" fill="#fff" stroke="#fff" stroke-width="0.3"/>
<ellipse cx="-64.8" cy="-18.35" rx="0.15" ry="0.05" fill="#fff" stroke="#fff" stroke-width="0.5"/>
<ellipse cx="-64.55" cy="-18.45" rx="0.1" ry="0.04" fill="#fff" stroke="#fff" stroke-width="0.5"/>
<ellipse cx="-61.25" cy="-15.95" rx="0.08" ry="0.08" fill="#fff" stroke="#fff" stroke-width="0.3"/>
<ellipse cx="-66.2" cy="-11.8" rx="0.06" ry="0.03" fill="#fff" stroke="#fff" stroke-width="0.3"/>
<ellipse cx="-66.75" cy="-11.85" rx="0.1" ry="0.05" fill="#fff" stroke="#fff" stroke-width="0.5"/>
<ellipse cx="-64.6" cy="-11.85" rx="0.05" ry="0.04" fill="#fff" stroke="#fff" stroke-width="0.3"/>
<ellipse cx="-65.34" cy="-10.92" rx="0.1" ry="0.04" fill="#fff" stroke="#fff" stroke-width="0.5"/>
<ellipse cx="-63.1" cy="-11.4" rx="0.03" ry="0.03" fill="#fff" stroke="#fff" stroke-width="0.3"/>
<ellipse cx="-67.7" cy="-11.98" rx="0.05" ry="0.03" fill="#fff" stroke="#fff" stroke-width="0.3"/>
<ellipse cx="-81.4" cy="-13.35" rx="0.05" ry="0.06" fill="#fff" stroke="#fff" stroke-width="0.3"/>
<ellipse cx="-81.72" cy="-12.55" rx="0.04" ry="0.07" fill="#fff" stroke="#fff" stroke-width="0.3"/>
<ellipse cx="-83.05" cy="-12.17" rx="0.05" ry="0.04" fill="#fff" stroke="#fff" stroke-width="0.3"/>
<ellipse cx="-82.77" cy="-14.38" rx="0.05" ry="0.05" fill="#fff" stroke="#fff" stroke-width="0.3"/>
<ellipse cx="-80.14" cy="-13.56" rx="0.03" ry="0.03" fill="#fff" stroke="#fff" stroke-width="0.3"/>
<ellipse cx="-81.67" cy="-3.98" rx="0.04" ry="0.04" fill="#fff" stroke="#fff" stroke-width="0.3"/>
<ellipse cx="-75" cy="-18.4" rx="0.03" ry="0.03" fill="#fff" stroke="#fff" stroke-width="0.3"/>
<ellipse cx="-68.9" cy="-18.15" rx="0.08" ry="0.04" fill="#fff" stroke="#fff" stroke-width="0.3"/>
<ellipse cx="-67.85" cy="-18.1" rx="0.05" ry="0.03" fill="#fff" stroke="#fff" stroke-width="0.3"/>
<ellipse cx="-63.6" cy="-15.7" rx="0.02" ry="0.02" fill="#fff" stroke="#fff" stroke-width="0.3"/>
<ellipse cx="-61.6" cy="-12.6" rx="0.05" ry="0.1" fill="#fff" stroke="#fff" stroke-width="0.5"/>
<ellipse cx="-61.3" cy="-12.9" rx="0.04" ry="0.08" fill="#fff" stroke="#fff" stroke-width="0.3"/>
</mask></defs>
<g mask="url(#mb)">
<rect x="-85" y="-19" width="35" height="29" fill="#e6e6ff"/>
<path d="M-86.98,-1.97 C-86.641,-2.331 -85.625,-1.938 -84.948,-1.922 C-84.27,-1.907 -83.593,-1.891 -82.915,-1.875 C-82.237,-1.859 -81.56,-1.843 -80.882,-1.828 C-80.205,-1.812 -79.347,-1.725 -78.85,-1.78 C-78.353,-1.835 -78.247,-2.27 -77.9,-2.16 C-77.553,-2.05 -77.148,-1.397 -76.77,-1.12 C-76.392,-0.843 -75.945,-0.73 -75.63,-0.5 C-75.315,-0.27 -75.132,0.007 -74.88,0.26 C-74.628,0.513 -74.373,0.793 -74.12,1.02 C-73.867,1.247 -73.738,1.488 -73.36,1.62 C-72.982,1.752 -72.29,1.873 -71.85,1.81 C-71.41,1.747 -71.035,1.397 -70.72,1.24 C-70.405,1.083 -70.245,0.807 -69.96,0.87 C-69.675,0.933 -69.325,1.425 -69.01,1.62 C-68.695,1.815 -68.542,1.93 -68.07,2.04 C-67.598,2.15 -66.495,1.865 -66.18,2.28 C-65.865,2.695 -66.18,3.78 -66.18,4.53 C-66.18,5.28 -66.18,6.03 -66.18,6.78 C-66.18,7.53 -66.18,8.28 -66.18,9.03 C-66.18,9.78 -66.18,10.53 -66.18,11.28 C-66.18,12.03 -65.795,13.155 -66.18,13.53 C-66.565,13.905 -67.721,13.53 -68.491,13.53 C-69.261,13.53 -70.032,13.53 -70.802,13.53 C-71.573,13.53 -72.343,13.53 -73.113,13.53 C-73.884,13.53 -74.654,13.53 -75.424,13.53 C-76.195,13.53 -76.965,13.53 -77.736,13.53 C-78.506,13.53 -79.276,13.53 -80.047,13.53 C-80.817,13.53 -81.587,13.53 -82.358,13.53 C-83.128,13.53 -83.899,13.53 -84.669,13.53 C-85.439,13.53 -86.595,13.899 -86.98,13.53 C-87.365,13.161 -86.98,12.054 -86.98,11.316 C-86.98,10.578 -86.98,9.84 -86.98,9.101 C-86.98,8.363 -86.98,7.625 -86.98,6.887 C-86.98,6.149 -86.98,5.411 -86.98,4.673 C-86.98,3.935 -86.98,3.197 -86.98,2.459 C-86.98,1.72 -86.98,0.982 -86.98,0.244 C-86.98,-0.494 -87.319,-1.609 -86.98,-1.97 Z" fill="#ffe6e6"/>
<path d="M-69.72,2.19 C-69.468,1.844 -68.713,2.317 -68.21,2.38 C-67.707,2.443 -67.142,2.507 -66.7,2.57 C-66.258,2.633 -66.002,2.76 -65.56,2.76 C-65.118,2.76 -64.553,2.665 -64.05,2.57 C-63.547,2.475 -63.013,2.285 -62.54,2.19 C-62.067,2.095 -61.652,2.095 -61.21,2 C-60.768,1.905 -60.235,1.777 -59.89,1.62 C-59.545,1.463 -59.297,1.248 -59.14,1.06 C-58.983,0.872 -59.14,0.648 -58.95,0.49 C-58.76,0.332 -58.41,0.237 -58,0.11 C-57.59,-0.017 -56.932,-0.143 -56.49,-0.27 C-56.048,-0.397 -55.728,-0.493 -55.35,-0.65 C-54.972,-0.807 -54.597,-1.022 -54.22,-1.21 C-53.843,-1.398 -53.437,-1.653 -53.09,-1.78 C-52.743,-1.907 -52.457,-1.923 -52.14,-1.97 C-51.823,-2.017 -51.725,-2.092 -51.19,-2.06 C-50.655,-2.028 -49.307,-2.191 -48.93,-1.78 C-48.553,-1.369 -48.93,-0.322 -48.93,0.407 C-48.93,1.136 -48.93,1.865 -48.93,2.594 C-48.93,3.323 -48.93,4.052 -48.93,4.781 C-48.93,5.51 -48.93,6.24 -48.93,6.969 C-48.93,7.698 -48.93,8.427 -48.93,9.156 C-48.93,9.885 -48.93,10.614 -48.93,11.343 C-48.93,12.072 -48.545,13.165 -48.93,13.53 C-49.315,13.895 -50.47,13.53 -51.24,13.53 C-52.01,13.53 -52.78,13.53 -53.55,13.53 C-54.32,13.53 -55.09,13.53 -55.86,13.53 C-56.63,13.53 -57.4,13.53 -58.17,13.53 C-58.94,13.53 -59.71,13.53 -60.48,13.53 C-61.25,13.53 -62.02,13.53 -62.79,13.53 C-63.56,13.53 -64.33,13.53 -65.1,13.53 C-65.87,13.53 -66.64,13.53 -67.41,13.53 C-68.18,13.53 -69.335,13.908 -69.72,13.53 C-70.105,13.152 -69.72,12.018 -69.72,11.262 C-69.72,10.506 -69.72,9.75 -69.72,8.994 C-69.72,8.238 -69.72,7.482 -69.72,6.726 C-69.72,5.97 -69.72,5.214 -69.72,4.458 C-69.72,3.702 -69.972,2.536 -69.72,2.19 Z" fill="#ffe6e6"/>
<path d="M-77.9,4.55 C-77.648,4.362 -76.958,4.73 -76.58,4.84 C-76.202,4.95 -75.945,5.195 -75.63,5.21 C-75.315,5.225 -75.005,4.93 -74.69,4.93 C-74.375,4.93 -74.025,5.068 -73.74,5.21 C-73.455,5.352 -73.295,5.748 -72.98,5.78 C-72.665,5.812 -72.227,5.557 -71.85,5.4 C-71.473,5.243 -71.098,5.028 -70.72,4.84 C-70.342,4.652 -69.927,4.397 -69.58,4.27 C-69.233,4.143 -68.955,4.048 -68.64,4.08 C-68.325,4.112 -68.1,4.365 -67.69,4.46 C-67.28,4.555 -66.432,4.248 -66.18,4.65 C-65.928,5.052 -66.18,6.13 -66.18,6.87 C-66.18,7.61 -66.18,8.35 -66.18,9.09 C-66.18,9.83 -66.18,10.57 -66.18,11.31 C-66.18,12.05 -65.777,13.16 -66.18,13.53 C-66.583,13.9 -67.793,13.53 -68.6,13.53 C-69.407,13.53 -70.213,13.53 -71.02,13.53 C-71.827,13.53 -72.633,13.53 -73.44,13.53 C-74.247,13.53 -75.053,13.53 -75.86,13.53 C-76.667,13.53 -77.877,13.845 -78.28,13.53 C-78.683,13.215 -78.28,12.27 -78.28,11.64 C-78.28,11.01 -78.28,10.38 -78.28,9.75 C-78.28,9.12 -78.312,8.49 -78.28,7.86 C-78.248,7.23 -78.153,6.522 -78.09,5.97 C-78.027,5.418 -78.152,4.738 -77.9,4.55 Z" fill="#ffb2b2"/>
<path d="M-69.72,4.46 C-69.405,4.082 -68.27,4.428 -67.83,4.46 C-67.39,4.492 -67.332,4.462 -67.08,4.65 C-66.828,4.838 -66.573,5.37 -66.32,5.59 C-66.067,5.81 -65.875,5.875 -65.56,5.97 C-65.245,6.065 -64.808,6.097 -64.43,6.16 C-64.052,6.223 -63.605,6.445 -63.29,6.35 C-62.975,6.255 -62.728,5.842 -62.54,5.59 C-62.352,5.338 -62.412,5.028 -62.16,4.84 C-61.908,4.652 -61.345,4.54 -61.03,4.46 C-60.715,4.38 -60.523,4.297 -60.27,4.36 C-60.017,4.423 -59.825,4.792 -59.51,4.84 C-59.195,4.888 -58.758,4.745 -58.38,4.65 C-58.002,4.555 -57.492,4.46 -57.24,4.27 C-56.988,4.08 -56.87,3.73 -56.87,3.51 C-56.87,3.29 -57.303,3.107 -57.24,2.95 C-57.177,2.793 -56.805,2.697 -56.49,2.57 C-56.175,2.443 -55.665,2.19 -55.35,2.19 C-55.035,2.19 -54.852,2.413 -54.6,2.57 C-54.348,2.727 -54.155,3.098 -53.84,3.13 C-53.525,3.162 -53.088,2.853 -52.71,2.76 C-52.332,2.667 -51.98,2.633 -51.57,2.57 C-51.16,2.507 -50.69,2.443 -50.25,2.38 C-49.81,2.317 -49.15,1.844 -48.93,2.19 C-48.71,2.536 -48.93,3.702 -48.93,4.458 C-48.93,5.214 -48.93,5.97 -48.93,6.726 C-48.93,7.482 -48.93,8.238 -48.93,8.994 C-48.93,9.75 -48.93,10.506 -48.93,11.262 C-48.93,12.018 -48.545,13.152 -48.93,13.53 C-49.315,13.908 -50.47,13.53 -51.24,13.53 C-52.01,13.53 -52.78,13.53 -53.55,13.53 C-54.32,13.53 -55.09,13.53 -55.86,13.53 C-56.63,13.53 -57.4,13.53 -58.17,13.53 C-58.94,13.53 -59.71,13.53 -60.48,13.53 C-61.25,13.53 -62.02,13.53 -62.79,13.53 C-63.56,13.53 -64.33,13.53 -65.1,13.53 C-65.87,13.53 -66.64,13.53 -67.41,13.53 C-68.18,13.53 -69.335,13.908 -69.72,13.53 C-70.105,13.152 -69.72,12.018 -69.72,11.262 C-69.72,10.507 -69.72,9.751 -69.72,8.995 C-69.72,8.239 -69.72,7.483 -69.72,6.727 C-69.72,5.972 -70.035,4.838 -69.72,4.46 Z" fill="#ffb2b2"/>
<path d="M-90,-25 C-89.611,-25.39 -88.444,-25 -87.667,-25 C-86.889,-25 -86.111,-25 -85.333,-25 C-84.556,-25 -83.778,-25 -83,-25 C-82.222,-25 -81.444,-25 -80.667,-25 C-79.889,-25 -79.111,-25 -78.333,-25 C-77.556,-25 -76.389,-25.35 -76,-25 C-75.611,-24.65 -76,-23.6 -76,-22.9 C-76,-22.2 -76,-21.5 -76,-20.8 C-76,-20.1 -76,-19.4 -76,-18.7 C-76,-18 -76.292,-16.95 -76,-16.6 C-75.708,-16.25 -74.833,-16.6 -74.25,-16.6 C-73.667,-16.6 -72.792,-16.883 -72.5,-16.6 C-72.208,-16.317 -72.5,-15.467 -72.5,-14.9 C-72.5,-14.333 -72.833,-13.483 -72.5,-13.2 C-72.167,-12.917 -70.833,-13.5 -70.5,-13.2 C-70.167,-12.9 -70.854,-11.7 -70.5,-11.4 C-70.146,-11.1 -69.083,-11.4 -68.375,-11.4 C-67.667,-11.4 -66.958,-11.4 -66.25,-11.4 C-65.542,-11.4 -64.833,-11.4 -64.125,-11.4 C-63.417,-11.4 -62.354,-11.483 -62,-11.4 C-61.646,-11.317 -62.407,-10.983 -62,-10.9 C-61.593,-10.817 -60.37,-10.9 -59.556,-10.9 C-58.741,-10.9 -57.926,-10.9 -57.111,-10.9 C-56.296,-10.9 -55.481,-10.9 -54.667,-10.9 C-53.852,-10.9 -53.037,-10.9 -52.222,-10.9 C-51.407,-10.9 -50.593,-10.9 -49.778,-10.9 C-48.963,-10.9 -48.148,-10.9 -47.333,-10.9 C-46.519,-10.9 -45.704,-10.9 -44.889,-10.9 C-44.074,-10.9 -43.259,-10.9 -42.444,-10.9 C-41.63,-10.9 -40.407,-11.239 -40,-10.9 C-39.593,-10.561 -40,-9.544 -40,-8.867 C-40,-8.189 -40,-7.511 -40,-6.833 C-40,-6.156 -39.584,-5.139 -40,-4.8 C-40.416,-4.461 -41.665,-4.8 -42.498,-4.8 C-43.33,-4.8 -44.163,-4.8 -44.995,-4.8 C-45.828,-4.8 -46.66,-4.8 -47.492,-4.8 C-48.325,-4.8 -49.37,-4.832 -49.99,-4.8 C-50.61,-4.768 -50.817,-4.672 -51.21,-4.61 C-51.603,-4.548 -51.972,-4.523 -52.35,-4.43 C-52.728,-4.337 -53.103,-4.177 -53.48,-4.05 C-53.857,-3.923 -54.263,-3.858 -54.61,-3.67 C-54.957,-3.482 -55.307,-3.235 -55.56,-2.92 C-55.813,-2.605 -55.847,-2 -56.13,-1.78 C-56.413,-1.56 -56.883,-1.693 -57.26,-1.6 C-57.637,-1.507 -58.012,-1.347 -58.39,-1.22 C-58.768,-1.093 -59.152,-0.965 -59.53,-0.84 C-59.908,-0.715 -60.22,-0.595 -60.66,-0.47 C-61.1,-0.345 -61.76,-0.185 -62.17,-0.09 C-62.58,0.005 -62.837,0.037 -63.12,0.1 C-63.403,0.163 -63.618,0.195 -63.87,0.29 C-64.122,0.385 -64.378,0.545 -64.63,0.67 C-64.882,0.795 -65.128,1.103 -65.38,1.04 C-65.632,0.977 -65.857,0.547 -66.14,0.29 C-66.423,0.033 -66.77,-0.485 -67.08,-0.5 C-67.39,-0.515 -67.697,-0.033 -68,0.2 C-68.303,0.433 -68.633,0.883 -68.9,0.9 C-69.167,0.917 -69.45,0.583 -69.6,0.3 C-69.75,0.017 -69.75,-0.45 -69.8,-0.8 C-69.85,-1.15 -69.833,-1.467 -69.9,-1.8 C-69.967,-2.133 -70.05,-2.517 -70.2,-2.8 C-70.35,-3.083 -70.567,-3.333 -70.8,-3.5 C-71.033,-3.667 -71.317,-3.75 -71.6,-3.8 C-71.883,-3.85 -72.217,-3.733 -72.5,-3.8 C-72.783,-3.867 -73.233,-4 -73.3,-4.2 C-73.367,-4.4 -73,-4.733 -72.9,-5 C-72.8,-5.267 -72.6,-5.558 -72.7,-5.8 C-72.8,-6.042 -73.167,-6.292 -73.5,-6.45 C-73.833,-6.608 -74.333,-6.725 -74.7,-6.75 C-75.067,-6.775 -75.433,-6.725 -75.7,-6.6 C-75.967,-6.475 -76.117,-6.35 -76.3,-6 C-76.483,-5.65 -76.65,-5 -76.8,-4.5 C-76.95,-4 -77.067,-3.417 -77.2,-3 C-77.333,-2.583 -77.383,-2.233 -77.6,-2 C-77.817,-1.767 -77.967,-1.667 -78.5,-1.6 C-79.033,-1.533 -80.033,-1.6 -80.8,-1.6 C-81.567,-1.6 -82.333,-1.6 -83.1,-1.6 C-83.867,-1.6 -84.633,-1.6 -85.4,-1.6 C-86.167,-1.6 -86.933,-1.6 -87.7,-1.6 C-88.467,-1.6 -89.617,-1.21 -90,-1.6 C-90.383,-1.99 -90,-3.16 -90,-3.94 C-90,-4.72 -90,-5.5 -90,-6.28 C-90,-7.06 -90,-7.84 -90,-8.62 C-90,-9.4 -90,-10.18 -90,-10.96 C-90,-11.74 -90,-12.52 -90,-13.3 C-90,-14.08 -90,-14.86 -90,-15.64 C-90,-16.42 -90,-17.2 -90,-17.98 C-90,-18.76 -90,-19.54 -90,-20.32 C-90,-21.1 -90,-21.88 -90,-22.66 C-90,-23.44 -90.389,-24.61 -90,-25 Z" fill="#b2b2ff"/>
<path d="M-85.08,-15.97 C-84.892,-16.349 -84.265,-15.973 -83.95,-15.88 C-83.635,-15.787 -83.363,-15.583 -83.19,-15.41 C-83.017,-15.237 -82.988,-15.013 -82.91,-14.84 C-82.832,-14.667 -82.657,-14.512 -82.72,-14.37 C-82.783,-14.228 -83.173,-14.243 -83.29,-13.99 C-83.407,-13.737 -83.38,-13.26 -83.42,-12.85 C-83.46,-12.44 -83.537,-11.877 -83.53,-11.53 C-83.523,-11.183 -83.53,-10.99 -83.38,-10.77 C-83.23,-10.55 -82.882,-10.398 -82.63,-10.21 C-82.378,-10.022 -82.123,-9.798 -81.87,-9.64 C-81.617,-9.482 -81.393,-9.275 -81.11,-9.26 C-80.827,-9.245 -80.453,-9.472 -80.17,-9.55 C-79.887,-9.628 -79.662,-9.73 -79.41,-9.73 C-79.158,-9.73 -78.912,-9.66 -78.66,-9.55 C-78.408,-9.44 -78.105,-9.243 -77.9,-9.07 C-77.695,-8.897 -77.557,-8.73 -77.43,-8.51 C-77.303,-8.29 -77.14,-7.987 -77.14,-7.75 C-77.14,-7.513 -77.303,-7.242 -77.43,-7.09 C-77.557,-6.938 -77.663,-6.793 -77.9,-6.84 C-78.137,-6.887 -78.567,-7.265 -78.85,-7.37 C-79.133,-7.475 -79.405,-7.517 -79.6,-7.47 C-79.795,-7.423 -79.83,-7.202 -80.02,-7.09 C-80.21,-6.978 -80.432,-6.848 -80.74,-6.8 C-81.048,-6.752 -81.555,-6.737 -81.87,-6.8 C-82.185,-6.863 -82.347,-6.99 -82.63,-7.18 C-82.913,-7.37 -83.287,-7.718 -83.57,-7.94 C-83.853,-8.162 -84.078,-8.353 -84.33,-8.51 C-84.582,-8.667 -84.955,-8.424 -85.08,-8.88 C-85.205,-9.336 -85.08,-10.456 -85.08,-11.243 C-85.08,-12.031 -85.08,-12.819 -85.08,-13.607 C-85.08,-14.394 -85.268,-15.591 -85.08,-15.97 Z" fill="#b2b2ff"/>
<path d="M-85.46,-15.31 C-85.272,-15.689 -84.613,-15.457 -84.33,-15.41 C-84.047,-15.363 -83.87,-15.235 -83.76,-15.03 C-83.65,-14.825 -83.663,-14.543 -83.67,-14.18 C-83.677,-13.817 -83.76,-13.292 -83.8,-12.85 C-83.84,-12.408 -83.838,-11.828 -83.91,-11.53 C-83.982,-11.232 -83.972,-11.155 -84.23,-11.06 C-84.488,-10.965 -85.255,-10.614 -85.46,-10.96 C-85.665,-11.306 -85.46,-12.41 -85.46,-13.135 C-85.46,-13.86 -85.648,-14.931 -85.46,-15.31 Z" fill="#e6e6ff"/>
<path d="M-85.08,-10.21 C-84.955,-10.418 -84.582,-9.972 -84.33,-9.83 C-84.078,-9.688 -83.822,-9.518 -83.57,-9.36 C-83.318,-9.202 -83.072,-9.017 -82.82,-8.88 C-82.568,-8.743 -82.313,-8.658 -82.06,-8.54 C-81.807,-8.422 -81.552,-8.295 -81.3,-8.17 C-81.048,-8.045 -80.77,-7.898 -80.55,-7.79 C-80.33,-7.682 -80.082,-7.633 -79.98,-7.52 C-79.878,-7.407 -79.82,-7.21 -79.94,-7.11 C-80.06,-7.01 -80.41,-6.92 -80.7,-6.92 C-80.99,-6.92 -81.358,-7.017 -81.68,-7.11 C-82.002,-7.203 -82.347,-7.355 -82.63,-7.48 C-82.913,-7.605 -83.128,-7.733 -83.38,-7.86 C-83.632,-7.987 -83.857,-8.12 -84.14,-8.24 C-84.423,-8.36 -84.923,-8.252 -85.08,-8.58 C-85.237,-8.908 -85.205,-10.002 -85.08,-10.21 Z" fill="#8080ff"/>
<path d="M-84.9,-10.02 C-84.773,-10.06 -84.42,-9.9 -84.23,-9.79 C-84.04,-9.68 -83.807,-9.473 -83.76,-9.36 C-83.713,-9.247 -83.823,-9.12 -83.95,-9.11 C-84.077,-9.1 -84.347,-9.227 -84.52,-9.3 C-84.693,-9.373 -84.927,-9.43 -84.99,-9.55 C-85.053,-9.67 -85.027,-9.98 -84.9,-10.02 Z" fill="#4c4cff"/>
<path d="M-82.82,-8.79 C-82.72,-8.805 -82.338,-8.673 -82.25,-8.6 C-82.162,-8.527 -82.19,-8.365 -82.29,-8.35 C-82.39,-8.335 -82.762,-8.437 -82.85,-8.51 C-82.938,-8.583 -82.92,-8.775 -82.82,-8.79 Z" fill="#4c4cff"/>
<path d="M-81.53,-9.03 C-81.462,-9.058 -81.15,-9.01 -81.08,-8.96 C-81.01,-8.91 -81.042,-8.758 -81.11,-8.73 C-81.178,-8.702 -81.42,-8.74 -81.49,-8.79 C-81.56,-8.84 -81.598,-9.002 -81.53,-9.03 Z" fill="#ffe6e6"/>
<path d="M-74.59,-10.49 C-74.512,-10.648 -74.118,-10.637 -73.93,-10.59 C-73.742,-10.543 -73.523,-10.432 -73.46,-10.21 C-73.397,-9.988 -73.457,-9.45 -73.55,-9.26 C-73.643,-9.07 -73.878,-9.007 -74.02,-9.07 C-74.162,-9.133 -74.305,-9.403 -74.4,-9.64 C-74.495,-9.877 -74.668,-10.332 -74.59,-10.49 Z" fill="#e6e6ff"/>
<path d="M-72.98,-9.64 C-72.885,-9.752 -72.462,-9.708 -72.32,-9.55 C-72.178,-9.392 -72.098,-8.88 -72.13,-8.69 C-72.162,-8.5 -72.383,-8.378 -72.51,-8.41 C-72.637,-8.442 -72.812,-8.675 -72.89,-8.88 C-72.968,-9.085 -73.075,-9.528 -72.98,-9.64 Z" fill="#e6e6ff"/>
<path d="M-76.58,-8.41 C-76.438,-8.568 -75.852,-8.62 -75.63,-8.51 C-75.408,-8.4 -75.218,-7.94 -75.25,-7.75 C-75.282,-7.56 -75.615,-7.402 -75.82,-7.37 C-76.025,-7.338 -76.353,-7.387 -76.48,-7.56 C-76.607,-7.733 -76.722,-8.252 -76.58,-8.41 Z" fill="#e6e6ff"/>
<path d="M-71.47,-11.53 C-71.233,-11.703 -70.227,-11.703 -69.96,-11.53 C-69.693,-11.357 -69.743,-10.727 -69.87,-10.49 C-69.997,-10.253 -70.468,-10.11 -70.72,-10.11 C-70.972,-10.11 -71.255,-10.253 -71.38,-10.49 C-71.505,-10.727 -71.707,-11.357 -71.47,-11.53 Z" fill="#e6e6ff"/>
<path d="M-68.64,-10.21 C-68.45,-10.383 -67.547,-10.352 -67.31,-10.21 C-67.073,-10.068 -67.03,-9.533 -67.22,-9.36 C-67.41,-9.187 -68.213,-9.028 -68.45,-9.17 C-68.687,-9.312 -68.83,-10.037 -68.64,-10.21 Z" fill="#e6e6ff"/>
<path d="M-68.64,-8.13 C-68.467,-8.32 -67.647,-8.288 -67.41,-8.13 C-67.173,-7.972 -67.047,-7.37 -67.22,-7.18 C-67.393,-6.99 -68.213,-6.832 -68.45,-6.99 C-68.687,-7.148 -68.813,-7.94 -68.64,-8.13 Z" fill="#e6e6ff"/>
<path d="M-75.44,-6.8 C-75.362,-7.022 -74.937,-7.025 -74.78,-6.9 C-74.623,-6.775 -74.515,-6.287 -74.5,-6.05 C-74.485,-5.813 -74.565,-5.56 -74.69,-5.48 C-74.815,-5.4 -75.125,-5.35 -75.25,-5.57 C-75.375,-5.79 -75.518,-6.578 -75.44,-6.8 Z" fill="#ffe6e6"/>
<path d="M-73.74,-5.86 C-73.615,-5.987 -72.988,-5.97 -72.8,-5.86 C-72.612,-5.75 -72.485,-5.327 -72.61,-5.2 C-72.735,-5.073 -73.362,-4.99 -73.55,-5.1 C-73.738,-5.21 -73.865,-5.733 -73.74,-5.86 Z" fill="#ffe6e6"/>
<path d="M-75.63,-4.25 C-75.552,-4.335 -75.238,-4.335 -75.16,-4.25 C-75.082,-4.165 -75.082,-3.825 -75.16,-3.74 C-75.238,-3.655 -75.552,-3.655 -75.63,-3.74 C-75.708,-3.825 -75.708,-4.165 -75.63,-4.25 Z" fill="#ffe6e6"/>
<path d="M-73.74,-7.75 C-73.662,-7.898 -73.222,-7.9 -73.08,-7.79 C-72.938,-7.68 -72.812,-7.238 -72.89,-7.09 C-72.968,-6.942 -73.408,-6.79 -73.55,-6.9 C-73.692,-7.01 -73.818,-7.602 -73.74,-7.75 Z" fill="#8080ff"/>
<path d="M-72.57,-7.37 C-72.483,-7.503 -72.067,-7.52 -71.94,-7.41 C-71.813,-7.3 -71.723,-6.843 -71.81,-6.71 C-71.897,-6.577 -72.333,-6.5 -72.46,-6.61 C-72.587,-6.72 -72.657,-7.237 -72.57,-7.37 Z" fill="#4c4cff"/>
<path d="M-74.88,-9.26 C-74.817,-9.385 -74.54,-9.385 -74.46,-9.26 C-74.38,-9.135 -74.337,-8.635 -74.4,-8.51 C-74.463,-8.385 -74.76,-8.385 -74.84,-8.51 C-74.92,-8.635 -74.943,-9.135 -74.88,-9.26 Z" fill="#8080ff"/>
<path d="M-70.53,-8.88 C-70.442,-8.98 -70.055,-8.973 -69.96,-8.88 C-69.865,-8.787 -69.872,-8.42 -69.96,-8.32 C-70.048,-8.22 -70.395,-8.187 -70.49,-8.28 C-70.585,-8.373 -70.618,-8.78 -70.53,-8.88 Z" fill="#8080ff"/>
<path d="M-77.52,-7.37 C-77.395,-7.717 -76.99,-7.655 -76.77,-7.56 C-76.55,-7.465 -76.312,-7.147 -76.2,-6.8 C-76.088,-6.453 -76.037,-6.005 -76.1,-5.48 C-76.163,-4.955 -76.327,-3.955 -76.58,-3.65 C-76.833,-3.345 -77.463,-3.345 -77.62,-3.65 C-77.777,-3.955 -77.537,-4.86 -77.52,-5.48 C-77.503,-6.1 -77.645,-7.023 -77.52,-7.37 Z" fill="#8080ff"/>
<path d="M-77.33,-6.8 C-77.22,-7.115 -76.927,-7.115 -76.77,-6.99 C-76.613,-6.865 -76.422,-6.428 -76.39,-6.05 C-76.358,-5.672 -76.455,-5.12 -76.58,-4.72 C-76.705,-4.32 -76.977,-3.828 -77.14,-3.65 C-77.303,-3.472 -77.512,-3.408 -77.56,-3.65 C-77.608,-3.892 -77.468,-4.575 -77.43,-5.1 C-77.392,-5.625 -77.44,-6.485 -77.33,-6.8 Z" fill="#4c4cff"/>
<path d="M-77.48,-4.72 C-77.395,-4.962 -77.138,-5.278 -77.05,-5.1 C-76.962,-4.922 -76.865,-3.892 -76.95,-3.65 C-77.035,-3.408 -77.472,-3.472 -77.56,-3.65 C-77.648,-3.828 -77.565,-4.478 -77.48,-4.72 Z" fill="#1818ff"/>
<path d="M-74.88,-4.72 C-74.807,-4.83 -74.483,-4.755 -74.4,-4.63 C-74.317,-4.505 -74.307,-4.08 -74.38,-3.97 C-74.453,-3.86 -74.757,-3.845 -74.84,-3.97 C-74.923,-4.095 -74.953,-4.61 -74.88,-4.72 Z" fill="#8080ff"/>
<path d="M-75.92,-5.29 C-75.85,-5.385 -75.527,-5.385 -75.44,-5.29 C-75.353,-5.195 -75.33,-4.815 -75.4,-4.72 C-75.47,-4.625 -75.773,-4.625 -75.86,-4.72 C-75.947,-4.815 -75.99,-5.195 -75.92,-5.29 Z" fill="#8080ff"/>
<path d="M-71.85,-18.9 C-71.567,-19 -70.465,-19.033 -70.15,-18.94 C-69.835,-18.847 -69.772,-18.535 -69.96,-18.34 C-70.148,-18.145 -70.965,-17.77 -71.28,-17.77 C-71.595,-17.77 -71.755,-18.152 -71.85,-18.34 C-71.945,-18.528 -72.133,-18.8 -71.85,-18.9 Z" fill="#b2b2ff"/>
<path d="M-65.94,-10.4 C-65.704,-10.606 -64.997,-10.463 -64.525,-10.495 C-64.053,-10.527 -63.599,-10.637 -63.11,-10.59 C-62.621,-10.543 -62.063,-10.432 -61.59,-10.21 C-61.117,-9.988 -60.617,-9.607 -60.27,-9.26 C-59.923,-8.913 -59.573,-8.508 -59.51,-8.13 C-59.447,-7.752 -59.637,-7.212 -59.89,-6.99 C-60.143,-6.768 -60.652,-6.737 -61.03,-6.8 C-61.408,-6.863 -61.783,-7.212 -62.16,-7.37 C-62.537,-7.528 -62.912,-7.687 -63.29,-7.75 C-63.668,-7.813 -64.052,-7.687 -64.43,-7.75 C-64.808,-7.813 -65.308,-7.878 -65.56,-8.13 C-65.812,-8.382 -65.877,-8.882 -65.94,-9.26 C-66.003,-9.638 -66.176,-10.194 -65.94,-10.4 Z" fill="#e6e6ff"/>
<path d="M-69.72,-10.77 C-69.405,-10.928 -68.24,-10.683 -67.83,-10.59 C-67.42,-10.497 -67.26,-10.368 -67.26,-10.21 C-67.26,-10.052 -67.42,-9.735 -67.83,-9.64 C-68.24,-9.545 -69.405,-9.452 -69.72,-9.64 C-70.035,-9.828 -70.035,-10.612 -69.72,-10.77 Z" fill="#e6e6ff"/>
<path d="M-67.83,-10.02 C-67.515,-10.272 -66.287,-10.272 -65.94,-10.02 C-65.593,-9.768 -65.718,-9.015 -65.75,-8.51 C-65.782,-8.005 -65.908,-7.275 -66.13,-6.99 C-66.352,-6.705 -66.797,-6.8 -67.08,-6.8 C-67.363,-6.8 -67.705,-6.706 -67.83,-6.99 C-67.955,-7.274 -67.83,-8 -67.83,-8.505 C-67.83,-9.01 -68.145,-9.768 -67.83,-10.02 Z" fill="#b2b2ff"/>
<path d="M-63.29,-7.75 C-63.068,-8.033 -61.905,-8.002 -61.59,-7.75 C-61.275,-7.498 -61.178,-6.523 -61.4,-6.24 C-61.622,-5.957 -62.605,-5.798 -62.92,-6.05 C-63.235,-6.302 -63.512,-7.467 -63.29,-7.75 Z" fill="#b2b2ff"/>
<path d="M-67.26,-6.8 C-66.945,-7.02 -66.348,-7.307 -65.94,-7.37 C-65.532,-7.433 -65.188,-7.307 -64.81,-7.18 C-64.432,-7.053 -64.112,-6.767 -63.67,-6.61 C-63.228,-6.453 -62.507,-6.428 -62.16,-6.24 C-61.813,-6.052 -61.653,-5.912 -61.59,-5.48 C-61.527,-5.048 -61.433,-3.955 -61.78,-3.65 C-62.127,-3.345 -63.04,-3.65 -63.67,-3.65 C-64.3,-3.65 -64.93,-3.65 -65.56,-3.65 C-66.19,-3.65 -67.072,-3.472 -67.45,-3.65 C-67.828,-3.828 -67.767,-4.32 -67.83,-4.72 C-67.893,-5.12 -67.925,-5.703 -67.83,-6.05 C-67.735,-6.397 -67.575,-6.58 -67.26,-6.8 Z" fill="#8080ff"/>
<path d="M-67.45,-5.29 C-67.372,-5.417 -67,-5.485 -66.89,-5.39 C-66.78,-5.295 -66.712,-4.847 -66.79,-4.72 C-66.868,-4.593 -67.25,-4.535 -67.36,-4.63 C-67.47,-4.725 -67.528,-5.163 -67.45,-5.29 Z" fill="#4c4cff"/>
<path d="M-65.75,-6.24 C-65.687,-6.428 -65.373,-6.488 -65.28,-6.33 C-65.187,-6.172 -65.127,-5.478 -65.19,-5.29 C-65.253,-5.102 -65.567,-5.042 -65.66,-5.2 C-65.753,-5.358 -65.813,-6.052 -65.75,-6.24 Z" fill="#4c4cff"/>
<path d="M-65,-6.43 C-64.937,-6.6 -64.66,-6.618 -64.58,-6.46 C-64.5,-6.302 -64.457,-5.65 -64.52,-5.48 C-64.583,-5.31 -64.88,-5.282 -64.96,-5.44 C-65.04,-5.598 -65.063,-6.26 -65,-6.43 Z" fill="#4c4cff"/>
<path d="M-62.82,-5.67 C-62.725,-5.817 -62.285,-5.887 -62.16,-5.76 C-62.035,-5.633 -61.975,-5.057 -62.07,-4.91 C-62.165,-4.763 -62.605,-4.753 -62.73,-4.88 C-62.855,-5.007 -62.915,-5.523 -62.82,-5.67 Z" fill="#4c4cff"/>
<path d="M-66.7,-6.99 C-66.627,-7.095 -66.308,-7.168 -66.22,-7.09 C-66.132,-7.012 -66.097,-6.625 -66.17,-6.52 C-66.243,-6.415 -66.572,-6.382 -66.66,-6.46 C-66.748,-6.538 -66.773,-6.885 -66.7,-6.99 Z" fill="#4c4cff"/>
<path d="M-60.27,-7.56 C-60.128,-7.702 -59.493,-7.687 -59.32,-7.56 C-59.147,-7.433 -59.088,-6.942 -59.23,-6.8 C-59.372,-6.658 -59.997,-6.583 -60.17,-6.71 C-60.343,-6.837 -60.412,-7.418 -60.27,-7.56 Z" fill="#e6e6ff"/>
<path d="M-54.6,-6.05 C-54.285,-6.098 -53.278,-6.143 -52.71,-5.86 C-52.142,-5.577 -51.473,-4.718 -51.19,-4.35 C-50.907,-3.982 -50.915,-3.767 -51.01,-3.65 C-51.105,-3.533 -51.413,-3.408 -51.76,-3.65 C-52.107,-3.892 -52.617,-4.78 -53.09,-5.1 C-53.563,-5.42 -54.348,-5.412 -54.6,-5.57 C-54.852,-5.728 -54.915,-6.002 -54.6,-6.05 Z" fill="#8080ff"/>
<path d="M-55.35,-5.2 C-55.177,-5.373 -54.425,-5.432 -54.22,-5.29 C-54.015,-5.148 -53.947,-4.523 -54.12,-4.35 C-54.293,-4.177 -55.055,-4.108 -55.26,-4.25 C-55.465,-4.392 -55.523,-5.027 -55.35,-5.2 Z" fill="#e6e6ff"/>
<path d="M-76.77,-1.02 C-76.802,-1.177 -76.453,-1.383 -76.2,-1.4 C-75.947,-1.417 -75.533,-1.245 -75.25,-1.12 C-74.967,-0.995 -74.562,-0.823 -74.5,-0.65 C-74.438,-0.477 -74.628,-0.112 -74.88,-0.08 C-75.132,-0.048 -75.695,-0.303 -76.01,-0.46 C-76.325,-0.617 -76.738,-0.863 -76.77,-1.02 Z" fill="#e6e6ff"/>
<path d="M-77.81,-5.37 C-77.742,-5.622 -77.443,-5.527 -77.3,-5.37 C-77.157,-5.213 -77.008,-4.777 -76.95,-4.43 C-76.892,-4.083 -76.887,-3.605 -76.95,-3.29 C-77.013,-2.975 -77.187,-2.697 -77.33,-2.54 C-77.473,-2.383 -77.62,-2.382 -77.81,-2.35 C-78,-2.318 -78.345,-2.287 -78.47,-2.35 C-78.595,-2.413 -78.623,-2.605 -78.56,-2.73 C-78.497,-2.855 -78.232,-2.912 -78.09,-3.1 C-77.948,-3.288 -77.757,-3.482 -77.71,-3.86 C-77.663,-4.238 -77.878,-5.118 -77.81,-5.37 Z" fill="#1818ff"/>
<path d="M-76.95,-5.37 C-76.825,-5.685 -76.357,-5.558 -76.2,-5.37 C-76.043,-5.182 -75.947,-4.618 -76.01,-4.24 C-76.073,-3.862 -76.423,-3.227 -76.58,-3.1 C-76.737,-2.973 -76.888,-3.102 -76.95,-3.48 C-77.012,-3.858 -77.075,-5.055 -76.95,-5.37 Z" fill="#8080ff"/>
<path d="M-79.03,-2.16 C-79.013,-2.397 -78.748,-2.445 -78.56,-2.54 C-78.372,-2.635 -78.073,-2.793 -77.9,-2.73 C-77.727,-2.667 -77.52,-2.413 -77.52,-2.16 C-77.52,-1.907 -77.71,-1.383 -77.9,-1.21 C-78.09,-1.037 -78.472,-0.962 -78.66,-1.12 C-78.848,-1.278 -79.047,-1.923 -79.03,-2.16 Z" fill="#b2b2ff"/>
<path d="M-80.26,-0.84 C-80.07,-0.998 -79.662,-0.903 -79.41,-0.84 C-79.158,-0.777 -78.907,-0.713 -78.75,-0.46 C-78.593,-0.207 -78.502,0.302 -78.47,0.68 C-78.438,1.058 -78.56,1.495 -78.56,1.81 C-78.56,2.125 -78.517,2.287 -78.47,2.57 C-78.423,2.853 -78.375,3.195 -78.28,3.51 C-78.185,3.825 -77.853,4.287 -77.9,4.46 C-77.947,4.633 -78.34,4.55 -78.56,4.55 C-78.78,4.55 -79.03,4.602 -79.22,4.46 C-79.41,4.318 -79.542,3.952 -79.7,3.7 C-79.858,3.448 -80.028,3.202 -80.17,2.95 C-80.312,2.698 -80.44,2.475 -80.55,2.19 C-80.66,1.905 -80.83,1.587 -80.83,1.24 C-80.83,0.893 -80.645,0.457 -80.55,0.11 C-80.455,-0.237 -80.45,-0.682 -80.26,-0.84 Z" fill="#ffb2b2"/>
<path d="M-79.6,1.81 C-79.488,1.622 -79.155,1.842 -79.03,2 C-78.905,2.158 -78.85,2.508 -78.85,2.76 C-78.85,3.012 -78.937,3.322 -79.03,3.51 C-79.123,3.698 -79.298,3.953 -79.41,3.89 C-79.522,3.827 -79.668,3.477 -79.7,3.13 C-79.732,2.783 -79.712,1.998 -79.6,1.81 Z" fill="#ffe6e6"/>
<path d="M-80.02,0.58 C-79.932,0.445 -79.558,0.435 -79.41,0.53 C-79.262,0.625 -79.113,0.983 -79.13,1.15 C-79.147,1.317 -79.375,1.498 -79.51,1.53 C-79.645,1.562 -79.855,1.498 -79.94,1.34 C-80.025,1.182 -80.108,0.715 -80.02,0.58 Z" fill="#ff7e7e"/>
<path d="M-80.13,4.36 C-80.045,4.203 -79.68,4.158 -79.56,4.27 C-79.44,4.382 -79.387,4.842 -79.41,5.03 C-79.433,5.218 -79.59,5.37 -79.7,5.4 C-79.81,5.43 -79.998,5.383 -80.07,5.21 C-80.142,5.037 -80.215,4.517 -80.13,4.36 Z" fill="#ff7e7e"/>
<path d="M-79.98,4.65 C-79.93,4.572 -79.703,4.572 -79.64,4.65 C-79.577,4.728 -79.55,5.042 -79.6,5.12 C-79.65,5.198 -79.877,5.198 -79.94,5.12 C-80.003,5.042 -80.03,4.728 -79.98,4.65 Z" fill="#ff4c4c"/>
<path d="M-79.75,5.88 C-79.698,5.77 -79.473,5.77 -79.41,5.88 C-79.347,5.99 -79.318,6.43 -79.37,6.54 C-79.422,6.65 -79.657,6.65 -79.72,6.54 C-79.783,6.43 -79.802,5.99 -79.75,5.88 Z" fill="#ff7e7e"/>
<path d="M-80.74,5.21 C-80.645,5.052 -80.392,5.147 -80.17,5.4 C-79.948,5.653 -79.662,6.32 -79.41,6.73 C-79.158,7.14 -78.88,7.482 -78.66,7.86 C-78.44,8.238 -78.217,8.632 -78.09,9 C-77.963,9.368 -77.805,9.892 -77.9,10.07 C-77.995,10.248 -78.408,10.312 -78.66,10.07 C-78.912,9.828 -79.158,9.083 -79.41,8.62 C-79.662,8.157 -79.948,7.668 -80.17,7.29 C-80.392,6.912 -80.645,6.697 -80.74,6.35 C-80.835,6.003 -80.835,5.368 -80.74,5.21 Z" fill="#ffb2b2"/>
<path d="M-77.9,4.93 C-77.775,4.813 -77.022,4.88 -76.77,4.99 C-76.518,5.1 -76.265,5.473 -76.39,5.59 C-76.515,5.707 -77.268,5.8 -77.52,5.69 C-77.772,5.58 -78.025,5.047 -77.9,4.93 Z" fill="#ffe6e6"/>
<path d="M-76.2,5.59 C-76.012,5.463 -75.163,5.78 -74.88,5.97 C-74.597,6.16 -74.312,6.603 -74.5,6.73 C-74.688,6.857 -75.727,6.92 -76.01,6.73 C-76.293,6.54 -76.388,5.717 -76.2,5.59 Z" fill="#ffe6e6"/>
<path d="M-77.52,6.73 C-77.427,6.51 -76.958,6.477 -76.58,6.54 C-76.202,6.603 -75.597,6.827 -75.25,7.11 C-74.903,7.393 -74.593,7.832 -74.5,8.24 C-74.407,8.648 -74.502,9.34 -74.69,9.56 C-74.878,9.78 -75.347,9.717 -75.63,9.56 C-75.913,9.403 -76.138,8.903 -76.39,8.62 C-76.642,8.337 -76.952,8.175 -77.14,7.86 C-77.328,7.545 -77.613,6.95 -77.52,6.73 Z" fill="#ff7e7e"/>
<path d="M-76.24,8.09 C-76.17,8.002 -75.865,7.968 -75.78,8.05 C-75.695,8.132 -75.66,8.492 -75.73,8.58 C-75.8,8.668 -76.115,8.662 -76.2,8.58 C-76.285,8.498 -76.31,8.178 -76.24,8.09 Z" fill="#ff4c4c"/>
<path d="M-72.04,9.37 C-71.693,9.238 -70.338,9.163 -69.96,9.28 C-69.582,9.397 -69.423,9.938 -69.77,10.07 C-70.117,10.202 -71.662,10.187 -72.04,10.07 C-72.418,9.953 -72.387,9.502 -72.04,9.37 Z" fill="#ff7e7e"/>
<path d="M-78.28,-2.73 C-78.248,-2.842 -78.027,-2.952 -77.9,-2.92 C-77.773,-2.888 -77.552,-2.667 -77.52,-2.54 C-77.488,-2.413 -77.615,-2.208 -77.71,-2.16 C-77.805,-2.112 -77.995,-2.155 -78.09,-2.25 C-78.185,-2.345 -78.312,-2.618 -78.28,-2.73 Z" fill="#ffb2b2"/>
<path d="M-76.39,-2.73 C-76.312,-2.825 -75.93,-2.883 -75.82,-2.82 C-75.71,-2.757 -75.652,-2.445 -75.73,-2.35 C-75.808,-2.255 -76.18,-2.187 -76.29,-2.25 C-76.4,-2.313 -76.468,-2.635 -76.39,-2.73 Z" fill="#ffb2b2"/>
<path d="M-75.73,-4.24 C-75.635,-4.335 -75.255,-4.335 -75.16,-4.24 C-75.065,-4.145 -75.065,-3.765 -75.16,-3.67 C-75.255,-3.575 -75.635,-3.575 -75.73,-3.67 C-75.825,-3.765 -75.825,-4.145 -75.73,-4.24 Z" fill="#ffb2b2"/>
<path d="M-67.83,-5.37 C-67.483,-5.748 -66.443,-5.37 -65.75,-5.37 C-65.057,-5.37 -64.363,-5.37 -63.67,-5.37 C-62.977,-5.37 -61.905,-5.558 -61.59,-5.37 C-61.275,-5.182 -61.558,-4.555 -61.78,-4.24 C-62.002,-3.925 -62.542,-3.732 -62.92,-3.48 C-63.298,-3.228 -63.61,-2.95 -64.05,-2.73 C-64.49,-2.51 -65.055,-2.192 -65.56,-2.16 C-66.065,-2.128 -66.702,-2.383 -67.08,-2.54 C-67.458,-2.697 -67.705,-2.628 -67.83,-3.1 C-67.955,-3.572 -68.177,-4.992 -67.83,-5.37 Z" fill="#8080ff"/>
<path d="M-67.45,-5.37 C-67.34,-5.512 -66.825,-5.495 -66.7,-5.37 C-66.575,-5.245 -66.59,-4.762 -66.7,-4.62 C-66.81,-4.478 -67.235,-4.395 -67.36,-4.52 C-67.485,-4.645 -67.56,-5.228 -67.45,-5.37 Z" fill="#4c4cff"/>
<path d="M-62.92,-5.37 C-62.778,-5.48 -62.128,-5.463 -61.97,-5.37 C-61.812,-5.277 -61.828,-4.92 -61.97,-4.81 C-62.112,-4.7 -62.662,-4.617 -62.82,-4.71 C-62.978,-4.803 -63.062,-5.26 -62.92,-5.37 Z" fill="#4c4cff"/>
<path d="M-66.32,-3.48 C-66.193,-3.637 -65.558,-3.763 -65.37,-3.67 C-65.182,-3.577 -65.063,-3.077 -65.19,-2.92 C-65.317,-2.763 -65.942,-2.637 -66.13,-2.73 C-66.318,-2.823 -66.447,-3.323 -66.32,-3.48 Z" fill="#4c4cff"/>
<path d="M-64.43,-4.05 C-64.178,-4.333 -63.045,-4.112 -62.73,-3.86 C-62.415,-3.608 -62.447,-2.918 -62.54,-2.54 C-62.633,-2.162 -63.007,-1.653 -63.29,-1.59 C-63.573,-1.527 -64.05,-1.75 -64.24,-2.16 C-64.43,-2.57 -64.682,-3.767 -64.43,-4.05 Z" fill="#e6e6ff"/>
<path d="M-61.4,-4.24 C-61.18,-4.43 -60.142,-4.43 -59.89,-4.24 C-59.638,-4.05 -59.67,-3.29 -59.89,-3.1 C-60.11,-2.91 -60.958,-2.91 -61.21,-3.1 C-61.462,-3.29 -61.62,-4.05 -61.4,-4.24 Z" fill="#e6e6ff"/>
<path d="M-55.54,-4.24 C-55.193,-4.523 -54.09,-4.557 -53.46,-4.62 C-52.83,-4.683 -52.2,-4.81 -51.76,-4.62 C-51.32,-4.43 -50.915,-3.89 -50.82,-3.48 C-50.725,-3.07 -50.875,-2.397 -51.19,-2.16 C-51.505,-1.923 -52.142,-2.06 -52.71,-2.06 C-53.278,-2.06 -54.128,-2.017 -54.6,-2.16 C-55.072,-2.303 -55.383,-2.573 -55.54,-2.92 C-55.697,-3.267 -55.887,-3.957 -55.54,-4.24 Z" fill="#e6e6ff"/>
<path d="M-58.95,-3.1 C-58.872,-3.273 -58.492,-3.415 -58.38,-3.29 C-58.268,-3.165 -58.202,-2.523 -58.28,-2.35 C-58.358,-2.177 -58.738,-2.125 -58.85,-2.25 C-58.962,-2.375 -59.028,-2.927 -58.95,-3.1 Z" fill="#8080ff"/>
<path d="M-53.27,0.3 C-53.017,0.048 -51.567,-0.078 -51.19,0.11 C-50.813,0.298 -50.757,1.178 -51.01,1.43 C-51.263,1.682 -52.333,1.808 -52.71,1.62 C-53.087,1.432 -53.523,0.552 -53.27,0.3 Z" fill="#e6e6ff"/>
<path d="M-67.08,5.97 C-66.907,5.843 -66.13,5.843 -65.94,5.97 C-65.75,6.097 -65.767,6.603 -65.94,6.73 C-66.113,6.857 -66.79,6.857 -66.98,6.73 C-67.17,6.603 -67.253,6.097 -67.08,5.97 Z" fill="#ffe6e6"/>
<path d="M-65,4.84 C-64.858,4.715 -64.208,4.715 -64.05,4.84 C-63.892,4.965 -63.908,5.465 -64.05,5.59 C-64.192,5.715 -64.742,5.715 -64.9,5.59 C-65.058,5.465 -65.142,4.965 -65,4.84 Z" fill="#ffe6e6"/>
<path d="M-56.68,4.27 C-56.56,4.193 -56.047,4.167 -55.92,4.23 C-55.793,4.293 -55.8,4.573 -55.92,4.65 C-56.04,4.727 -56.513,4.753 -56.64,4.69 C-56.767,4.627 -56.8,4.347 -56.68,4.27 Z" fill="#ffe6e6"/>
<path d="M-54.79,3.7 C-54.702,3.637 -54.315,3.637 -54.22,3.7 C-54.125,3.763 -54.132,4.017 -54.22,4.08 C-54.308,4.143 -54.655,4.143 -54.75,4.08 C-54.845,4.017 -54.878,3.763 -54.79,3.7 Z" fill="#ffe6e6"/>
<path d="M-58.57,6.54 C-58.287,6.44 -57.153,6.445 -56.87,6.54 C-56.587,6.635 -56.587,7.01 -56.87,7.11 C-57.153,7.21 -58.287,7.235 -58.57,7.14 C-58.853,7.045 -58.853,6.64 -58.57,6.54 Z" fill="#ff7e7e"/>
<path d="M-57.24,8.24 C-57.052,8.145 -56.298,8.145 -56.11,8.24 C-55.922,8.335 -55.922,8.715 -56.11,8.81 C-56.298,8.905 -57.052,8.905 -57.24,8.81 C-57.428,8.715 -57.428,8.335 -57.24,8.24 Z" fill="#ff7e7e"/>
<path d="M-55.73,8.05 C-55.478,7.682 -54.472,7.523 -54.22,7.86 C-53.968,8.197 -53.968,9.702 -54.22,10.07 C-54.472,10.438 -55.478,10.407 -55.73,10.07 C-55.982,9.733 -55.982,8.418 -55.73,8.05 Z" fill="#ff7e7e"/>
<path d="M-60.27,8.81 C-60.05,8.6 -59.17,8.6 -58.95,8.81 C-58.73,9.02 -58.73,9.86 -58.95,10.07 C-59.17,10.28 -60.05,10.28 -60.27,10.07 C-60.49,9.86 -60.49,9.02 -60.27,8.81 Z" fill="#ff7e7e"/>
<path d="M-53.46,7.86 C-53.161,7.492 -52.263,7.86 -51.665,7.86 C-51.067,7.86 -50.169,7.492 -49.87,7.86 C-49.571,8.228 -49.571,9.702 -49.87,10.07 C-50.169,10.438 -51.067,10.07 -51.665,10.07 C-52.263,10.07 -53.161,10.438 -53.46,10.07 C-53.759,9.702 -53.759,8.228 -53.46,7.86 Z" fill="#ff7e7e"/>
<path d="M-50.82,3.7 C-50.678,3.448 -50.028,3.448 -49.87,3.7 C-49.712,3.952 -49.728,4.958 -49.87,5.21 C-50.012,5.462 -50.562,5.462 -50.72,5.21 C-50.878,4.958 -50.962,3.952 -50.82,3.7 Z" fill="#ff7e7e"/>
<path d="M-60.46,7.11 C-60.397,7.017 -60.143,7.017 -60.08,7.11 C-60.017,7.203 -60.017,7.577 -60.08,7.67 C-60.143,7.763 -60.397,7.763 -60.46,7.67 C-60.523,7.577 -60.523,7.203 -60.46,7.11 Z" fill="#ff7e7e"/>
<path d="M-75.68,-6.6 C-75.422,-6.762 -75.022,-6.798 -74.65,-6.77 C-74.278,-6.742 -73.742,-6.558 -73.45,-6.43 C-73.158,-6.302 -72.958,-6.205 -72.9,-6 C-72.842,-5.795 -73.008,-5.415 -73.1,-5.2 C-73.192,-4.985 -73.335,-4.907 -73.45,-4.71 C-73.565,-4.513 -73.677,-4.248 -73.79,-4.02 C-73.903,-3.792 -73.987,-3.625 -74.13,-3.34 C-74.273,-3.055 -74.507,-2.597 -74.65,-2.31 C-74.793,-2.023 -74.847,-1.878 -74.99,-1.62 C-75.133,-1.362 -75.28,-1.018 -75.51,-0.76 C-75.74,-0.502 -76.122,-0.113 -76.37,-0.07 C-76.618,-0.027 -76.845,-0.262 -77,-0.5 C-77.155,-0.738 -77.3,-1.083 -77.3,-1.5 C-77.3,-1.917 -77.117,-2.5 -77,-3 C-76.883,-3.5 -76.733,-4.033 -76.6,-4.5 C-76.467,-4.967 -76.353,-5.45 -76.2,-5.8 C-76.047,-6.15 -75.938,-6.438 -75.68,-6.6 Z" fill="#ffe6e6"/>
<path d="M-76,-5.2 C-75.85,-5.333 -75.467,-5.167 -75.3,-5 C-75.133,-4.833 -74.95,-4.433 -75,-4.2 C-75.05,-3.967 -75.4,-3.6 -75.6,-3.6 C-75.8,-3.6 -76.133,-3.933 -76.2,-4.2 C-76.267,-4.467 -76.15,-5.067 -76,-5.2 Z" fill="#e6e6ff"/>
<path d="M-75.75,-4.05 C-75.683,-4.108 -75.383,-4.142 -75.3,-4.1 C-75.217,-4.058 -75.183,-3.858 -75.25,-3.8 C-75.317,-3.742 -75.617,-3.708 -75.7,-3.75 C-75.783,-3.792 -75.817,-3.992 -75.75,-4.05 Z" fill="#ffb2b2"/>
<path d="M-76.5,-2.9 C-76.433,-2.967 -76.133,-3.033 -76.05,-3 C-75.967,-2.967 -75.933,-2.767 -76,-2.7 C-76.067,-2.633 -76.367,-2.567 -76.45,-2.6 C-76.533,-2.633 -76.567,-2.833 -76.5,-2.9 Z" fill="#ffb2b2"/>
<path d="M-75,-5.5 C-74.958,-5.55 -74.758,-5.583 -74.7,-5.55 C-74.642,-5.517 -74.608,-5.35 -74.65,-5.3 C-74.692,-5.25 -74.892,-5.217 -74.95,-5.25 C-75.008,-5.283 -75.042,-5.45 -75,-5.5 Z" fill="#ffb2b2"/>
<path d="M-75.75,-5.1 C-75.708,-5.167 -75.5,-5.2 -75.45,-5.15 C-75.4,-5.1 -75.408,-4.867 -75.45,-4.8 C-75.492,-4.733 -75.65,-4.7 -75.7,-4.75 C-75.75,-4.8 -75.792,-5.033 -75.75,-5.1 Z" fill="#b2b2ff"/>
<path d="M-74.8,-4.6 C-74.767,-4.692 -74.6,-4.767 -74.55,-4.7 C-74.5,-4.633 -74.467,-4.292 -74.5,-4.2 C-74.533,-4.108 -74.7,-4.083 -74.75,-4.15 C-74.8,-4.217 -74.833,-4.508 -74.8,-4.6 Z" fill="#8080ff"/>
<path d="M-72.6,-5.4 C-72.35,-5.567 -71.533,-5.633 -71.2,-5.5 C-70.867,-5.367 -70.633,-4.867 -70.6,-4.6 C-70.567,-4.333 -70.767,-4.008 -71,-3.9 C-71.233,-3.792 -71.717,-3.85 -72,-3.95 C-72.283,-4.05 -72.6,-4.258 -72.7,-4.5 C-72.8,-4.742 -72.85,-5.233 -72.6,-5.4 Z" fill="#b2b2ff"/>
<path d="M-71.5,-19.5 C-71.258,-19.717 -70.333,-19.5 -69.75,-19.5 C-69.167,-19.5 -68.292,-19.783 -68,-19.5 C-67.708,-19.217 -67.667,-18.067 -68,-17.8 C-68.333,-17.533 -69.467,-17.833 -70,-17.9 C-70.533,-17.967 -70.95,-17.933 -71.2,-18.2 C-71.45,-18.467 -71.742,-19.283 -71.5,-19.5 Z" fill="#b2b2ff"/>
<path d="M-78.6,-18.7 C-78.383,-18.883 -77.733,-18.7 -77.3,-18.7 C-76.867,-18.7 -76.217,-18.883 -76,-18.7 C-75.783,-18.517 -75.783,-17.783 -76,-17.6 C-76.217,-17.417 -76.867,-17.6 -77.3,-17.6 C-77.733,-17.6 -78.383,-17.417 -78.6,-17.6 C-78.817,-17.783 -78.817,-18.517 -78.6,-18.7 Z" fill="#b2b2ff"/>
<path d="M-71.63,-11.29 C-71.355,-11.657 -70.53,-11.29 -69.98,-11.29 C-69.43,-11.29 -68.605,-11.393 -68.33,-11.29 C-68.055,-11.187 -68.055,-10.808 -68.33,-10.67 C-68.605,-10.532 -69.613,-10.655 -69.98,-10.46 C-70.347,-10.265 -70.347,-9.797 -70.53,-9.5 C-70.713,-9.203 -70.897,-8.748 -71.08,-8.68 C-71.263,-8.612 -71.538,-8.655 -71.63,-9.09 C-71.722,-9.525 -71.905,-10.923 -71.63,-11.29 Z" fill="#e6e6ff"/>
<path d="M-68.6,-9.9 C-68.343,-9.975 -67.227,-9.94 -66.96,-9.85 C-66.693,-9.76 -66.743,-9.435 -67,-9.36 C-67.257,-9.285 -68.233,-9.31 -68.5,-9.4 C-68.767,-9.49 -68.857,-9.825 -68.6,-9.9 Z" fill="#e6e6ff"/>
<path d="M-68.74,-8.13 C-68.573,-8.27 -67.728,-8.138 -67.5,-8 C-67.272,-7.862 -67.203,-7.44 -67.37,-7.3 C-67.537,-7.16 -68.272,-7.022 -68.5,-7.16 C-68.728,-7.298 -68.907,-7.99 -68.74,-8.13 Z" fill="#e6e6ff"/>
<path d="M-71.55,-10.6 C-71.65,-10.6 -71.775,-10.25 -71.85,-10.1 C-71.925,-9.95 -72.008,-9.833 -72,-9.7 C-71.992,-9.567 -71.883,-9.397 -71.8,-9.3 C-71.717,-9.203 -71.6,-9.128 -71.5,-9.12 C-71.4,-9.112 -71.267,-9.153 -71.2,-9.25 C-71.133,-9.347 -71.092,-9.558 -71.1,-9.7 C-71.108,-9.842 -71.175,-9.95 -71.25,-10.1 C-71.325,-10.25 -71.45,-10.6 -71.55,-10.6 Z" fill="#4c4cff"/>
<path d="M-71.55,-9.92 C-71.493,-9.92 -71.38,-9.792 -71.38,-9.73 C-71.38,-9.668 -71.493,-9.55 -71.55,-9.55 C-71.607,-9.55 -71.72,-9.668 -71.72,-9.73 C-71.72,-9.792 -71.607,-9.92 -71.55,-9.92 Z" fill="#ffffff"/>
</g>
<path d="M-84,-19 V10 M-78,-19 V10 M-72,-19 V10 M-66,-19 V10 M-60,-19 V10 M-54,-19 V10 M-85,-18 H-50 M-85,-12 H-50 M-85,-6 H-50 M-85,0 H-50 M-85,6 H-50" stroke="#bdbdbd" stroke-width="0.8" stroke-dasharray="2.1,1.05" vector-effect="non-scaling-stroke" fill="none"/>
<g fill="none" stroke="#000" stroke-width="1" vector-effect="non-scaling-stroke" stroke-linejoin="round">
<path d="M-86,-16 L-85.02,-16 L-84.6,-15.88 L-84.2,-15.75 L-83.9,-15.55 L-83.5,-15.3 L-83.21,-15.03 L-83.26,-14.83 L-83.18,-14.5 L-83.34,-14.09 L-83.5,-13.68 L-83.58,-13.35 L-83.58,-12.86 L-83.67,-12.53 L-83.79,-11.96 L-83.85,-11.47 L-83.73,-11.01 L-83.38,-10.49 L-82.95,-9.98 L-82.53,-9.55 L-82.18,-9.29 L-81.75,-8.95 L-81.41,-8.82 L-80.98,-8.95 L-80.47,-9.21 L-79.96,-9.47 L-79.53,-9.64 L-79.01,-9.47 L-78.5,-9.38 L-77.98,-9.21 L-77.47,-8.78 L-77.15,-8.44 L-76.95,-8.5 L-76.88,-8.2 L-76.85,-7.94 L-76.8,-8.2 L-76.85,-8.55 L-76.57,-8.76 L-76.16,-9.25 L-75.83,-9.5 L-75.66,-9.75 L-75.62,-10.16 L-75.5,-10.57 L-75.09,-10.98 L-74.76,-11.1 L-74.55,-10.95 L-74.35,-11.14 L-74.19,-11.3 L-73.7,-11.26 L-73.29,-11.34 L-72.8,-11.63 L-72.39,-11.88 L-72.16,-12.1 L-71.88,-12.39 L-71.63,-12.43 L-71.3,-12.39 L-71.14,-12.23 L-71.18,-12.02 L-71.39,-11.82 L-71.71,-11.66 L-71.96,-11.53 L-71.85,-11.25 L-71.62,-10.92 L-71.5,-10.95 L-71.14,-11.04 L-70.65,-11.25 L-70.24,-11.53 L-70.28,-11.86 L-70.16,-12.11 L-69.95,-12.11 L-69.83,-11.86 L-69.79,-11.57 L-69.66,-11.49 L-69.25,-11.45 L-68.84,-11.37 L-68.52,-11.2 L-68.35,-10.96 L-68.27,-10.71 L-68.11,-10.51 L-67.7,-10.47 L-67.2,-10.55 L-66.71,-10.59 L-66.12,-10.6 L-65.96,-10.34 L-65.55,-10.18 L-65.06,-10.02 L-64.73,-10.14 L-64.4,-10.34 L-64.16,-10.51 L-63.75,-10.63 L-63.17,-10.67 L-62.68,-10.71 L-62.2,-10.7 L-61.86,-10.7 L-62.3,-10.55 L-62.75,-10.45 L-62.9,-10.2 L-62.6,-10 L-62.35,-9.89 L-61.94,-9.73 L-61.5,-9.5 L-61.04,-9.24 L-60.9,-8.9 L-60.55,-8.58 L-60.06,-8.5 L-59.65,-8.34 L-59.24,-8.13 L-58.95,-7.83 L-58.48,-7.25 L-58.45,-6.9 L-58.13,-6.78 L-57.54,-6.31 L-57.08,-6.02 L-56.49,-5.91 L-55.91,-5.79 L-55.09,-5.85 L-54.5,-5.82 L-53.92,-5.73 L-53.22,-5.5 L-52.75,-5.32 L-52.28,-4.92 L-51.81,-4.57 L-51.46,-4.33 L-51.2,-4.2 L-51.11,-3.87 L-50.88,-3.17 L-50.7,-2.47 L-50.53,-2 L-50.3,-1.85 L-50,-1.77 L-49,-1.77 L-49,11 L-78,11 L-78.2,10 L-78.38,9.59 L-78.61,9.01 L-78.96,8.31 L-79.31,7.72 L-79.66,7.26 L-80.01,6.91 L-80.48,6.56 L-80.94,6.32 L-81.06,5.86 L-80.94,5.39 L-81.18,5.04 L-81.35,4.69 L-81.29,4.22 L-81.06,3.87 L-80.59,3.41 L-80.24,3.06 L-79.85,2.75 L-79.8,2.3 L-79.95,2.15 L-80.2,2.55 L-80.59,2.47 L-80.94,2.24 L-80.85,1.8 L-80.94,1.07 L-80.71,0.84 L-80.42,0.61 L-80.36,0.14 L-80.13,-0.44 L-80.1,-0.72 L-79.81,-0.95 L-79.46,-1.07 L-79.17,-1.4 L-78.93,-1.65 L-78.76,-1.89 L-78.68,-2.19 L-78.27,-2.6 L-77.94,-2.76 L-77.53,-3 L-77.3,-3.4 L-77.12,-3.75 L-77.29,-4.16 L-77.37,-4.57 L-77.53,-5.14 L-77.61,-5.47 L-77.35,-5.75 L-77.37,-6.2 L-77.45,-6.7 L-77.78,-7.11 L-78.11,-7.6 L-78.35,-8 L-78.45,-8.4 L-78.76,-8.83 L-79.09,-9.07 L-79.53,-8.87 L-79.78,-8.61 L-80.13,-8.35 L-80.47,-8.27 L-80.3,-7.9 L-80.04,-7.58 L-80.13,-7.33 L-80.47,-7.24 L-80.9,-7.33 L-81.16,-7.67 L-81.58,-7.84 L-82.01,-8.18 L-82.44,-8.27 L-82.95,-8.18 L-83.21,-8.35 L-83.47,-8.52 L-83.73,-8.78 L-84,-9.15 L-84.33,-9.47 L-84.67,-9.72 L-85.01,-9.98 L-86,-10 Z" vector-effect="non-scaling-stroke"/>
<path d="M-71.55,-10.71 L-71.8,-10.22 L-72.04,-9.81 L-71.96,-9.48 L-71.8,-9.24 L-71.55,-9.07 L-71.22,-9.16 L-71.1,-9.4 L-71.06,-9.73 L-71.22,-10.06 L-71.47,-10.47 Z" vector-effect="non-scaling-stroke"/>
<path d="M-78.42,-18.39 L-78.03,-18.49 L-77.41,-18.47 L-76.79,-18.39 L-76.25,-18.08 L-76.41,-17.92 L-77.1,-17.88 L-77.26,-17.72 L-77.57,-17.88 L-78.03,-18 L-78.34,-18.15 Z" vector-effect="non-scaling-stroke"/>
<path d="M-74.48,-18.3 L-74.32,-18.62 L-73.7,-18.62 L-73,-18.5 L-72.5,-18.55 L-72.75,-19.1 L-68.6,-19.1 L-68.3,-18.62 L-68.68,-18.15 L-69.1,-18.3 L-69.68,-18.23 L-70.6,-18.23 L-71.1,-18.1 L-71.4,-17.62 L-71.6,-17.65 L-71.8,-18.05 L-72.5,-18.15 L-73.2,-18.15 L-73.7,-18.08 L-74.2,-18.25 Z" vector-effect="non-scaling-stroke"/>
<path d="M-73.3,-18.85 L-72.9,-18.75 L-72.8,-18.85 L-73.2,-18.95 Z" vector-effect="non-scaling-stroke"/>
<path d="M-67.21,-18.45 L-65.82,-18.44 L-65.59,-18.23 L-65.74,-17.92 L-67.21,-17.88 L-67.29,-18.15 Z" vector-effect="non-scaling-stroke"/>
<path d="M-61.7,-10.72 L-60.92,-10.82 L-60.96,-10.12 L-61.45,-10.08 L-61.5,-10.4 L-61.65,-10.6 Z" vector-effect="non-scaling-stroke"/>
<path d="M-64.4,-11 L-64.2,-11.12 L-63.85,-11.15 L-63.8,-10.95 L-64,-10.9 L-64.3,-10.88 Z" vector-effect="non-scaling-stroke"/>
<path d="M-69.17,-12.38 L-68.95,-12.2 L-68.75,-12.02 L-68.8,-12.05 L-69,-12.2 Z" vector-effect="non-scaling-stroke"/>
<path d="M-70.06,-12.62 L-69.88,-12.45 L-69.9,-12.42 L-70.05,-12.55 Z" vector-effect="non-scaling-stroke"/>
<path d="M-68.42,-12.3 L-68.2,-12.05 L-68.25,-12.02 L-68.4,-12.2 Z" vector-effect="non-scaling-stroke"/>
<path d="M-61.8,-16.3 L-61.55,-16.5 L-61.45,-16.3 L-61.2,-16.25 L-61.55,-16.2 L-61.7,-15.95 L-61.8,-16.1 Z" vector-effect="non-scaling-stroke"/>
<ellipse cx="-61.35" cy="-15.4" rx="0.1" ry="0.22" vector-effect="non-scaling-stroke"/>
<ellipse cx="-61" cy="-14.65" rx="0.13" ry="0.22" vector-effect="non-scaling-stroke"/>
<ellipse cx="-60.97" cy="-13.9" rx="0.08" ry="0.18" vector-effect="non-scaling-stroke"/>
<ellipse cx="-61.2" cy="-13.25" rx="0.07" ry="0.13" vector-effect="non-scaling-stroke"/>
<ellipse cx="-61.68" cy="-12.12" rx="0.08" ry="0.1" vector-effect="non-scaling-stroke"/>
<ellipse cx="-59.55" cy="-13.17" rx="0.1" ry="0.14" vector-effect="non-scaling-stroke"/>
<ellipse cx="-60.65" cy="-11.22" rx="0.18" ry="0.07" vector-effect="non-scaling-stroke"/>
<ellipse cx="-61.8" cy="-17.08" rx="0.12" ry="0.08" vector-effect="non-scaling-stroke"/>
<ellipse cx="-61.8" cy="-17.63" rx="0.08" ry="0.08" vector-effect="non-scaling-stroke"/>
<ellipse cx="-62.2" cy="-16.75" rx="0.05" ry="0.07" vector-effect="non-scaling-stroke"/>
<ellipse cx="-62.7" cy="-17.25" rx="0.1" ry="0.1" vector-effect="non-scaling-stroke"/>
<ellipse cx="-62.98" cy="-17.5" rx="0.03" ry="0.03" vector-effect="non-scaling-stroke"/>
<ellipse cx="-63.23" cy="-17.63" rx="0.03" ry="0.03" vector-effect="non-scaling-stroke"/>
<ellipse cx="-63.05" cy="-18.05" rx="0.08" ry="0.06" vector-effect="non-scaling-stroke"/>
<ellipse cx="-63.05" cy="-18.2" rx="0.1" ry="0.04" vector-effect="non-scaling-stroke"/>
<ellipse cx="-62.85" cy="-17.9" rx="0.04" ry="0.04" vector-effect="non-scaling-stroke"/>
<ellipse cx="-64.8" cy="-18.35" rx="0.15" ry="0.05" vector-effect="non-scaling-stroke"/>
<ellipse cx="-64.55" cy="-18.45" rx="0.1" ry="0.04" vector-effect="non-scaling-stroke"/>
<ellipse cx="-61.25" cy="-15.95" rx="0.08" ry="0.08" vector-effect="non-scaling-stroke"/>
<ellipse cx="-66.2" cy="-11.8" rx="0.06" ry="0.03" vector-effect="non-scaling-stroke"/>
<ellipse cx="-66.75" cy="-11.85" rx="0.1" ry="0.05" vector-effect="non-scaling-stroke"/>
<ellipse cx="-64.6" cy="-11.85" rx="0.05" ry="0.04" vector-effect="non-scaling-stroke"/>
<ellipse cx="-65.34" cy="-10.92" rx="0.1" ry="0.04" vector-effect="non-scaling-stroke"/>
<ellipse cx="-63.1" cy="-11.4" rx="0.03" ry="0.03" vector-effect="non-scaling-stroke"/>
<ellipse cx="-67.7" cy="-11.98" rx="0.05" ry="0.03" vector-effect="non-scaling-stroke"/>
<ellipse cx="-81.4" cy="-13.35" rx="0.05" ry="0.06" vector-effect="non-scaling-stroke"/>
<ellipse cx="-81.72" cy="-12.55" rx="0.04" ry="0.07" vector-effect="non-scaling-stroke"/>
<ellipse cx="-83.05" cy="-12.17" rx="0.05" ry="0.04" vector-effect="non-scaling-stroke"/>
<ellipse cx="-82.77" cy="-14.38" rx="0.05" ry="0.05" vector-effect="non-scaling-stroke"/>
<ellipse cx="-80.14" cy="-13.56" rx="0.03" ry="0.03" vector-effect="non-scaling-stroke"/>
<ellipse cx="-81.67" cy="-3.98" rx="0.04" ry="0.04" vector-effect="non-scaling-stroke"/>
<ellipse cx="-75" cy="-18.4" rx="0.03" ry="0.03" vector-effect="non-scaling-stroke"/>
<ellipse cx="-68.9" cy="-18.15" rx="0.08" ry="0.04" vector-effect="non-scaling-stroke"/>
<ellipse cx="-67.85" cy="-18.1" rx="0.05" ry="0.03" vector-effect="non-scaling-stroke"/>
<ellipse cx="-63.6" cy="-15.7" rx="0.02" ry="0.02" vector-effect="non-scaling-stroke"/>
<ellipse cx="-61.6" cy="-12.6" rx="0.05" ry="0.1" vector-effect="non-scaling-stroke"/>
<ellipse cx="-61.3" cy="-12.9" rx="0.04" ry="0.08" vector-effect="non-scaling-stroke"/>
<path d="M-52.7,1.57 L-52.37,1.4 L-51.94,1.32 L-51.72,1.05 L-51.55,0.67 L-51.33,0.34 L-51.17,0.07 L-50.9,-0.15 L-50.57,-0.43 L-50.24,-0.75 L-50,-1.03" vector-effect="non-scaling-stroke"/>
<path d="M-52.65,1.6 L-52.1,1.5 L-51.66,1.43 L-51.23,1.05 L-50.9,0.72 L-50.57,0.45 L-50,0.12" vector-effect="non-scaling-stroke"/>
<path d="M-51.23,0.12 L-50.9,0.01 L-50.46,-0.04 L-50,-0.1" vector-effect="non-scaling-stroke"/>
<path d="M-50.9,0.67 L-50.79,1.05 L-50.68,1.65 L-50.46,1.87 L-50.24,1.76 L-50,1.65" vector-effect="non-scaling-stroke"/>
<path d="M-51,-0 L-50.5,-0.25 L-50,-0.55" vector-effect="non-scaling-stroke"/>
<path d="M-50.7,1.2 L-50.4,1.1 L-50,1" vector-effect="non-scaling-stroke"/>
<path d="M-52.5,1.5 L-52.3,1.62 L-52.1,1.55" vector-effect="non-scaling-stroke"/>
</g>
<g fill="none" stroke="#222" stroke-width="0.6" vector-effect="non-scaling-stroke" stroke-linejoin="round">
<path d="M-85.02,-14.8 L-84.5,-14.62 L-84,-14.75 L-83.5,-14.92 L-83.21,-15.03" vector-effect="non-scaling-stroke"/>
<path d="M-85.02,-11.1 L-84.6,-11.1 L-84.15,-10.84 L-83.9,-10.8 L-83.7,-10.93" vector-effect="non-scaling-stroke"/>
<path d="M-82.55,-9.55 L-82.95,-9.47 L-82.8,-9 L-82.91,-8.52 L-82.91,-8.14" vector-effect="non-scaling-stroke"/>
<path d="M-77.37,-8.67 L-77.35,-8.4 L-77.26,-7.94 L-77.34,-7.7 L-77.71,-7.54 L-77.9,-7.2" vector-effect="non-scaling-stroke"/>
<path d="M-71.96,-11.53 L-72.22,-11.14 L-72.71,-10.32 L-73.04,-9.66 L-73.29,-9.17 L-72.88,-9.01 L-72.63,-8.68 L-72.47,-8.19 L-72.39,-7.7 L-72.47,-7.37 L-72.14,-7.2 L-71.81,-7.04 L-71.2,-7 L-70.6,-7.05 L-70.1,-6.95 L-69.6,-6.2 L-69.1,-6.2 L-68.6,-6.2 L-67.9,-6.2 L-67.45,-6.15 L-67.6,-5.7 L-67.8,-5.3 L-67.8,-4.67 L-67.72,-3.99 L-67.29,-3.48 L-67.55,-3.1 L-67.8,-2.79 L-67.29,-2.28 L-67.03,-1.42 L-66.87,-1.22" vector-effect="non-scaling-stroke"/>
<path d="M-66.87,-1.22 L-67.2,-1.6 L-67.8,-1.76 L-69.86,-1.68 L-69.86,-1.2 L-69.26,-0.95 L-69.5,-0.65 L-69.95,-0.57 L-70.03,0.12 L-69.52,0.63 L-69.43,1.32 L-69.69,2.69 L-69.86,4.06 L-70.03,4.32" vector-effect="non-scaling-stroke"/>
<path d="M-70.03,4.32 L-70.63,3.72 L-70.12,2.86 L-70.29,2.6 L-70.8,2.35 L-71.83,2.17 L-72.26,2.43 L-73.03,2.35 L-73.63,1.32 L-74.31,0.72 L-74.83,0.29 L-75.26,0.1" vector-effect="non-scaling-stroke"/>
<path d="M-78.87,-1.35 L-78.41,-0.95 L-77.83,-0.72 L-77.48,-0.37 L-76.78,-0.25 L-76.2,-0.3 L-75.73,-0.14 L-75.26,0.1" vector-effect="non-scaling-stroke"/>
<path d="M-75.26,0.1 L-75.34,0.96 L-75.69,1.77 L-76.39,2.36 L-77.33,2.82 L-78.03,3.41 L-78.38,3.87 L-78.61,4.46 L-79.19,4.92 L-79.8,4.6 L-80.48,4.34 L-80.45,3.8 L-80.3,3.45" vector-effect="non-scaling-stroke"/>
<path d="M-70.03,4.32 L-70.72,4.32 L-72.09,4.74 L-72.94,5.34 L-73.11,6.28 L-73.63,6.8 L-73.97,7.48 L-73.63,8.34 L-73.11,9.02 L-72.94,9.54 L-72.26,9.97 L-71.3,10.05" vector-effect="non-scaling-stroke"/>
<path d="M-71.2,10.2 L-70.9,9.9 L-70.6,9.7" vector-effect="non-scaling-stroke"/>
<path d="M-66.8,10.2 L-66.6,9.95 L-65.9,9.85" vector-effect="non-scaling-stroke"/>
<path d="M-66.87,-1.22 L-66.43,-0.74 L-65.58,-0.74 L-64.89,-1.25 L-64.04,-1.59 L-63.52,-2.11 L-63.44,-2.28 L-64.21,-2.62 L-64.38,-3.48 L-64.55,-3.99 L-63.87,-3.99 L-63.01,-3.73 L-61.81,-4.33 L-60.85,-4.67 L-60.74,-5.2" vector-effect="non-scaling-stroke"/>
<path d="M-60.74,-5.2 L-61.2,-5.6 L-61.2,-6.61 L-60.55,-6.78 L-60.39,-7.11 L-60.63,-7.43 L-60.55,-7.76 L-60.22,-8.09 L-59.89,-8.34" vector-effect="non-scaling-stroke"/>
<path d="M-60.74,-5.2 L-60.35,-5.27 L-60.12,-4.92 L-59.88,-4.33 L-59.65,-3.87 L-59.88,-3.28 L-60,-2.82 L-59.88,-2.24 L-59.65,-1.89 L-59.06,-1.3 L-58.6,-1.3 L-58.13,-1.65 L-57.43,-1.89 L-56.55,-1.89" vector-effect="non-scaling-stroke"/>
<path d="M-57.13,-5.91 L-57.37,-5.03 L-57.78,-4.92 L-58.07,-4.1 L-57.66,-3.34 L-57.25,-3.23 L-57.13,-2.7 L-56.84,-2.24 L-56.55,-1.89" vector-effect="non-scaling-stroke"/>
<path d="M-56.55,-1.89 L-56.02,-1.83 L-56.02,-2.35 L-55.44,-2.47 L-54.97,-2.45 L-54.5,-2.29 L-54.09,-2.12" vector-effect="non-scaling-stroke"/>
<path d="M-54.04,-5.73 L-54.39,-4.92 L-54.44,-4.33 L-54.04,-3.52 L-54.15,-2.93 L-54.44,-2.35 L-54.09,-2.12" vector-effect="non-scaling-stroke"/>
<path d="M-54.09,-2.12 L-53.68,-2.35 L-53.45,-2.06 L-52.98,-2.12 L-52.51,-2.58 L-52.16,-3.17 L-51.81,-3.75 L-51.46,-4.33" vector-effect="non-scaling-stroke"/>
</g>
</svg>
<svg class="map" style="left:507.03px;top:24.13px;width:426.02px;height:352.99px" viewBox="0 0 426.02 352.99">
<circle cx="121.96" cy="106.38" r="3.2" fill="none" stroke="#2323e6" stroke-width="0.9"/>
<circle cx="110.89" cy="121.11" r="3.2" fill="none" stroke="#2323e6" stroke-width="0.9"/>
<circle cx="96.52" cy="143.51" r="3.2" fill="none" stroke="#2323e6" stroke-width="0.9"/>
<circle cx="100.42" cy="155.19" r="3.2" fill="none" stroke="#2323e6" stroke-width="0.9"/>
<circle cx="100.78" cy="160.06" r="3.2" fill="none" stroke="#2323e6" stroke-width="0.9"/>
<circle cx="102.61" cy="163.71" r="3.2" fill="none" stroke="#2323e6" stroke-width="0.9"/>
<circle cx="101.03" cy="166.15" r="3.2" fill="none" stroke="#2323e6" stroke-width="0.9"/>
<circle cx="101.64" cy="169.19" r="3.2" fill="none" stroke="#2323e6" stroke-width="0.9"/>
<circle cx="102.00" cy="172.23" r="3.2" fill="none" stroke="#2323e6" stroke-width="0.9"/>
<circle cx="167.37" cy="127.44" r="3.2" fill="none" stroke="#2323e6" stroke-width="0.9"/>
<circle cx="149.72" cy="135.72" r="3.2" fill="none" stroke="#e62020" stroke-width="0.9"/>
<circle cx="133.65" cy="147.89" r="3.2" fill="none" stroke="#2323e6" stroke-width="0.9"/>
<circle cx="133.04" cy="150.93" r="3.2" fill="none" stroke="#2323e6" stroke-width="0.9"/>
<circle cx="132.55" cy="153.98" r="3.2" fill="none" stroke="#2323e6" stroke-width="0.9"/>
<circle cx="132.07" cy="156.41" r="3.2" fill="none" stroke="#2323e6" stroke-width="0.9"/>
<circle cx="124.40" cy="167.97" r="3.2" fill="none" stroke="#2323e6" stroke-width="0.9"/>
<circle cx="152.39" cy="164.32" r="3.2" fill="none" stroke="#2323e6" stroke-width="0.9"/>
<circle cx="154.95" cy="163.71" r="3.2" fill="none" stroke="#2323e6" stroke-width="0.9"/>
<circle cx="162.50" cy="173.82" r="6.4" fill="none" stroke="#2323e6" stroke-width="0.9"/>
<circle cx="155.19" cy="178.20" r="6.4" fill="none" stroke="#2323e6" stroke-width="0.9"/>
<circle cx="152.76" cy="177.71" r="6.4" fill="none" stroke="#2323e6" stroke-width="0.9"/>
<circle cx="144.73" cy="181.00" r="3.2" fill="none" stroke="#2323e6" stroke-width="0.9"/>
<circle cx="141.93" cy="184.77" r="3.2" fill="none" stroke="#2323e6" stroke-width="0.9"/>
<circle cx="136.33" cy="195.36" r="3.2" fill="none" stroke="#2323e6" stroke-width="0.9"/>
<circle cx="142.41" cy="195.36" r="3.2" fill="none" stroke="#2323e6" stroke-width="0.9"/>
<circle cx="148.50" cy="200.35" r="3.2" fill="none" stroke="#2323e6" stroke-width="0.9"/>
<circle cx="135.84" cy="204.73" r="6.4" fill="none" stroke="#2323e6" stroke-width="0.9"/>
<circle cx="94.33" cy="195.85" r="3.2" fill="none" stroke="#2323e6" stroke-width="0.9"/>
<circle cx="175.52" cy="197.43" r="6.4" fill="none" stroke="#2323e6" stroke-width="0.9"/>
<circle cx="181.73" cy="161.04" r="6.4" fill="none" stroke="#2323e6" stroke-width="0.9"/>
<circle cx="182.34" cy="106.99" r="6.4" fill="none" stroke="#e62020" stroke-width="0.9"/>
<circle cx="95.92" cy="235.16" r="3.2" fill="none" stroke="#2323e6" stroke-width="0.9"/>
<circle cx="160.55" cy="242.95" r="3.2" fill="none" stroke="#2323e6" stroke-width="0.9"/>
<circle cx="201.08" cy="156.53" r="6.4" fill="none" stroke="#2323e6" stroke-width="0.9"/>
<circle cx="260.36" cy="132.31" r="6.4" fill="none" stroke="#2323e6" stroke-width="0.9"/>
<circle cx="299.43" cy="154.10" r="3.2" fill="none" stroke="#2323e6" stroke-width="0.9"/>
<circle cx="321.71" cy="166.39" r="6.4" fill="none" stroke="#2323e6" stroke-width="0.9"/>
<circle cx="325.97" cy="171.99" r="6.4" fill="none" stroke="#2323e6" stroke-width="0.9"/>
<circle cx="371.85" cy="170.41" r="3.2" fill="none" stroke="#2323e6" stroke-width="0.9"/>
<circle cx="63.78" cy="250.26" r="6.4" fill="none" stroke="#e62020" stroke-width="0.9"/>
<circle cx="181.61" cy="283.61" r="6.4" fill="none" stroke="#e62020" stroke-width="0.9"/>
<circle cx="186.84" cy="188.18" r="6.4" fill="none" stroke="#2323e6" stroke-width="0.9"/>
<circle cx="201.08" cy="183.19" r="3.2" fill="none" stroke="#2323e6" stroke-width="0.9"/>
<circle cx="208.14" cy="183.19" r="3.2" fill="none" stroke="#2323e6" stroke-width="0.9"/>
<circle cx="289.21" cy="207.17" r="3.2" fill="none" stroke="#2323e6" stroke-width="0.9"/>
<circle cx="245.02" cy="238.57" r="3.2" fill="none" stroke="#2323e6" stroke-width="0.9"/>
<circle cx="223.60" cy="253.66" r="3.2" fill="none" stroke="#2323e6" stroke-width="0.9"/>
</svg>
<div class="frame" style="left:506.00px;top:23.00px;width:425.90px;height:352.70px"></div>
<div class="yl" style="right:453.0px;top:27.7px">18</div>
<div class="yl" style="right:453.0px;top:100.7px">12</div>
<div class="yl" style="right:453.0px;top:173.8px">6</div>
<div class="yl" style="right:453.0px;top:246.8px">0</div>
<div class="yl" style="right:453.0px;top:319.8px">−6</div>
<div class="xl" style="left:479.2px;top:377.5px">−84</div>
<div class="xl" style="left:552.2px;top:377.5px">−78</div>
<div class="xl" style="left:625.3px;top:377.5px">−72</div>
<div class="xl" style="left:698.3px;top:377.5px">−66</div>
<div class="xl" style="left:771.3px;top:377.5px">−60</div>
<div class="xl" style="left:844.4px;top:377.5px">−54</div>
<div class="pl" style="left:524.5px;top:33.3px">b<span style="margin-left:3px">)</span></div>
<svg class="map" style="left:46.23px;top:405.10px;width:426.02px;height:352.99px" viewBox="-85 -19 35 29" preserveAspectRatio="none">
<defs><mask id="mc" maskUnits="userSpaceOnUse" x="-85" y="-19" width="35" height="29">
<path d="M-64.9,-18.4 L-63.05,-18.1 L-62.75,-17.3 L-61.8,-17.1 L-61.55,-16.2 L-61.35,-15.4 L-61,-14.65 L-60.97,-13.9 L-61.2,-13.25 L-61.68,-12.12" fill="none" stroke="#fff" stroke-width="0.5" stroke-linejoin="round" stroke-linecap="round"/>
<path d="M-86,-16 L-85.02,-16 L-84.6,-15.88 L-84.2,-15.75 L-83.9,-15.55 L-83.5,-15.3 L-83.21,-15.03 L-83.26,-14.83 L-83.18,-14.5 L-83.34,-14.09 L-83.5,-13.68 L-83.58,-13.35 L-83.58,-12.86 L-83.67,-12.53 L-83.79,-11.96 L-83.85,-11.47 L-83.73,-11.01 L-83.38,-10.49 L-82.95,-9.98 L-82.53,-9.55 L-82.18,-9.29 L-81.75,-8.95 L-81.41,-8.82 L-80.98,-8.95 L-80.47,-9.21 L-79.96,-9.47 L-79.53,-9.64 L-79.01,-9.47 L-78.5,-9.38 L-77.98,-9.21 L-77.47,-8.78 L-77.15,-8.44 L-76.95,-8.5 L-76.88,-8.2 L-76.85,-7.94 L-76.8,-8.2 L-76.85,-8.55 L-76.57,-8.76 L-76.16,-9.25 L-75.83,-9.5 L-75.66,-9.75 L-75.62,-10.16 L-75.5,-10.57 L-75.09,-10.98 L-74.76,-11.1 L-74.55,-10.95 L-74.35,-11.14 L-74.19,-11.3 L-73.7,-11.26 L-73.29,-11.34 L-72.8,-11.63 L-72.39,-11.88 L-72.16,-12.1 L-71.88,-12.39 L-71.63,-12.43 L-71.3,-12.39 L-71.14,-12.23 L-71.18,-12.02 L-71.39,-11.82 L-71.71,-11.66 L-71.96,-11.53 L-71.85,-11.25 L-71.62,-10.92 L-71.5,-10.95 L-71.14,-11.04 L-70.65,-11.25 L-70.24,-11.53 L-70.28,-11.86 L-70.16,-12.11 L-69.95,-12.11 L-69.83,-11.86 L-69.79,-11.57 L-69.66,-11.49 L-69.25,-11.45 L-68.84,-11.37 L-68.52,-11.2 L-68.35,-10.96 L-68.27,-10.71 L-68.11,-10.51 L-67.7,-10.47 L-67.2,-10.55 L-66.71,-10.59 L-66.12,-10.6 L-65.96,-10.34 L-65.55,-10.18 L-65.06,-10.02 L-64.73,-10.14 L-64.4,-10.34 L-64.16,-10.51 L-63.75,-10.63 L-63.17,-10.67 L-62.68,-10.71 L-62.2,-10.7 L-61.86,-10.7 L-62.3,-10.55 L-62.75,-10.45 L-62.9,-10.2 L-62.6,-10 L-62.35,-9.89 L-61.94,-9.73 L-61.5,-9.5 L-61.04,-9.24 L-60.9,-8.9 L-60.55,-8.58 L-60.06,-8.5 L-59.65,-8.34 L-59.24,-8.13 L-58.95,-7.83 L-58.48,-7.25 L-58.45,-6.9 L-58.13,-6.78 L-57.54,-6.31 L-57.08,-6.02 L-56.49,-5.91 L-55.91,-5.79 L-55.09,-5.85 L-54.5,-5.82 L-53.92,-5.73 L-53.22,-5.5 L-52.75,-5.32 L-52.28,-4.92 L-51.81,-4.57 L-51.46,-4.33 L-51.2,-4.2 L-51.11,-3.87 L-50.88,-3.17 L-50.7,-2.47 L-50.53,-2 L-50.3,-1.85 L-50,-1.77 L-49,-1.77 L-49,11 L-78,11 L-78.2,10 L-78.38,9.59 L-78.61,9.01 L-78.96,8.31 L-79.31,7.72 L-79.66,7.26 L-80.01,6.91 L-80.48,6.56 L-80.94,6.32 L-81.06,5.86 L-80.94,5.39 L-81.18,5.04 L-81.35,4.69 L-81.29,4.22 L-81.06,3.87 L-80.59,3.41 L-80.24,3.06 L-79.85,2.75 L-79.8,2.3 L-79.95,2.15 L-80.2,2.55 L-80.59,2.47 L-80.94,2.24 L-80.85,1.8 L-80.94,1.07 L-80.71,0.84 L-80.42,0.61 L-80.36,0.14 L-80.13,-0.44 L-80.1,-0.72 L-79.81,-0.95 L-79.46,-1.07 L-79.17,-1.4 L-78.93,-1.65 L-78.76,-1.89 L-78.68,-2.19 L-78.27,-2.6 L-77.94,-2.76 L-77.53,-3 L-77.3,-3.4 L-77.12,-3.75 L-77.29,-4.16 L-77.37,-4.57 L-77.53,-5.14 L-77.61,-5.47 L-77.35,-5.75 L-77.37,-6.2 L-77.45,-6.7 L-77.78,-7.11 L-78.11,-7.6 L-78.35,-8 L-78.45,-8.4 L-78.76,-8.83 L-79.09,-9.07 L-79.53,-8.87 L-79.78,-8.61 L-80.13,-8.35 L-80.47,-8.27 L-80.3,-7.9 L-80.04,-7.58 L-80.13,-7.33 L-80.47,-7.24 L-80.9,-7.33 L-81.16,-7.67 L-81.58,-7.84 L-82.01,-8.18 L-82.44,-8.27 L-82.95,-8.18 L-83.21,-8.35 L-83.47,-8.52 L-83.73,-8.78 L-84,-9.15 L-84.33,-9.47 L-84.67,-9.72 L-85.01,-9.98 L-86,-10 Z" fill="#fff" stroke="#fff" stroke-width="0.75" stroke-linejoin="round"/>
<path d="M-78.42,-18.39 L-78.03,-18.49 L-77.41,-18.47 L-76.79,-18.39 L-76.25,-18.08 L-76.41,-17.92 L-77.1,-17.88 L-77.26,-17.72 L-77.57,-17.88 L-78.03,-18 L-78.34,-18.15 Z" fill="#fff" stroke="#fff" stroke-width="0.5" stroke-linejoin="round"/>
<path d="M-74.48,-18.3 L-74.32,-18.62 L-73.7,-18.62 L-73,-18.5 L-72.5,-18.55 L-72.75,-19.1 L-68.6,-19.1 L-68.3,-18.62 L-68.68,-18.15 L-69.1,-18.3 L-69.68,-18.23 L-70.6,-18.23 L-71.1,-18.1 L-71.4,-17.62 L-71.6,-17.65 L-71.8,-18.05 L-72.5,-18.15 L-73.2,-18.15 L-73.7,-18.08 L-74.2,-18.25 Z" fill="#fff" stroke="#fff" stroke-width="0.5" stroke-linejoin="round"/>
<path d="M-73.3,-18.85 L-72.9,-18.75 L-72.8,-18.85 L-73.2,-18.95 Z" fill="#fff" stroke="#fff" stroke-width="0.5" stroke-linejoin="round"/>
<path d="M-67.21,-18.45 L-65.82,-18.44 L-65.59,-18.23 L-65.74,-17.92 L-67.21,-17.88 L-67.29,-18.15 Z" fill="#fff" stroke="#fff" stroke-width="0.5" stroke-linejoin="round"/>
<path d="M-61.7,-10.72 L-60.92,-10.82 L-60.96,-10.12 L-61.45,-10.08 L-61.5,-10.4 L-61.65,-10.6 Z" fill="#fff" stroke="#fff" stroke-width="0.5" stroke-linejoin="round"/>
<path d="M-64.4,-11 L-64.2,-11.12 L-63.85,-11.15 L-63.8,-10.95 L-64,-10.9 L-64.3,-10.88 Z" fill="#fff" stroke="#fff" stroke-width="0.5" stroke-linejoin="round"/>
<path d="M-69.17,-12.38 L-68.95,-12.2 L-68.75,-12.02 L-68.8,-12.05 L-69,-12.2 Z" fill="#fff" stroke="#fff" stroke-width="0.5" stroke-linejoin="round"/>
<path d="M-70.06,-12.62 L-69.88,-12.45 L-69.9,-12.42 L-70.05,-12.55 Z" fill="#fff" stroke="#fff" stroke-width="0.5" stroke-linejoin="round"/>
<path d="M-68.42,-12.3 L-68.2,-12.05 L-68.25,-12.02 L-68.4,-12.2 Z" fill="#fff" stroke="#fff" stroke-width="0.5" stroke-linejoin="round"/>
<path d="M-61.8,-16.3 L-61.55,-16.5 L-61.45,-16.3 L-61.2,-16.25 L-61.55,-16.2 L-61.7,-15.95 L-61.8,-16.1 Z" fill="#fff" stroke="#fff" stroke-width="0.5" stroke-linejoin="round"/>
<ellipse cx="-61.35" cy="-15.4" rx="0.1" ry="0.22" fill="#fff" stroke="#fff" stroke-width="0.5"/>
<ellipse cx="-61" cy="-14.65" rx="0.13" ry="0.22" fill="#fff" stroke="#fff" stroke-width="0.5"/>
<ellipse cx="-60.97" cy="-13.9" rx="0.08" ry="0.18" fill="#fff" stroke="#fff" stroke-width="0.5"/>
<ellipse cx="-61.2" cy="-13.25" rx="0.07" ry="0.13" fill="#fff" stroke="#fff" stroke-width="0.5"/>
<ellipse cx="-61.68" cy="-12.12" rx="0.08" ry="0.1" fill="#fff" stroke="#fff" stroke-width="0.5"/>
<ellipse cx="-59.55" cy="-13.17" rx="0.1" ry="0.14" fill="#fff" stroke="#fff" stroke-width="0.5"/>
<ellipse cx="-60.65" cy="-11.22" rx="0.18" ry="0.07" fill="#fff" stroke="#fff" stroke-width="0.5"/>
<ellipse cx="-61.8" cy="-17.08" rx="0.12" ry="0.08" fill="#fff" stroke="#fff" stroke-width="0.5"/>
<ellipse cx="-61.8" cy="-17.63" rx="0.08" ry="0.08" fill="#fff" stroke="#fff" stroke-width="0.3"/>
<ellipse cx="-62.2" cy="-16.75" rx="0.05" ry="0.07" fill="#fff" stroke="#fff" stroke-width="0.3"/>
<ellipse cx="-62.7" cy="-17.25" rx="0.1" ry="0.1" fill="#fff" stroke="#fff" stroke-width="0.5"/>
<ellipse cx="-62.98" cy="-17.5" rx="0.03" ry="0.03" fill="#fff" stroke="#fff" stroke-width="0.3"/>
<ellipse cx="-63.23" cy="-17.63" rx="0.03" ry="0.03" fill="#fff" stroke="#fff" stroke-width="0.3"/>
<ellipse cx="-63.05" cy="-18.05" rx="0.08" ry="0.06" fill="#fff" stroke="#fff" stroke-width="0.3"/>
<ellipse cx="-63.05" cy="-18.2" rx="0.1" ry="0.04" fill="#fff" stroke="#fff" stroke-width="0.5"/>
<ellipse cx="-62.85" cy="-17.9" rx="0.04" ry="0.04" fill="#fff" stroke="#fff" stroke-width="0.3"/>
<ellipse cx="-64.8" cy="-18.35" rx="0.15" ry="0.05" fill="#fff" stroke="#fff" stroke-width="0.5"/>
<ellipse cx="-64.55" cy="-18.45" rx="0.1" ry="0.04" fill="#fff" stroke="#fff" stroke-width="0.5"/>
<ellipse cx="-61.25" cy="-15.95" rx="0.08" ry="0.08" fill="#fff" stroke="#fff" stroke-width="0.3"/>
<ellipse cx="-66.2" cy="-11.8" rx="0.06" ry="0.03" fill="#fff" stroke="#fff" stroke-width="0.3"/>
<ellipse cx="-66.75" cy="-11.85" rx="0.1" ry="0.05" fill="#fff" stroke="#fff" stroke-width="0.5"/>
<ellipse cx="-64.6" cy="-11.85" rx="0.05" ry="0.04" fill="#fff" stroke="#fff" stroke-width="0.3"/>
<ellipse cx="-65.34" cy="-10.92" rx="0.1" ry="0.04" fill="#fff" stroke="#fff" stroke-width="0.5"/>
<ellipse cx="-63.1" cy="-11.4" rx="0.03" ry="0.03" fill="#fff" stroke="#fff" stroke-width="0.3"/>
<ellipse cx="-67.7" cy="-11.98" rx="0.05" ry="0.03" fill="#fff" stroke="#fff" stroke-width="0.3"/>
<ellipse cx="-81.4" cy="-13.35" rx="0.05" ry="0.06" fill="#fff" stroke="#fff" stroke-width="0.3"/>
<ellipse cx="-81.72" cy="-12.55" rx="0.04" ry="0.07" fill="#fff" stroke="#fff" stroke-width="0.3"/>
<ellipse cx="-83.05" cy="-12.17" rx="0.05" ry="0.04" fill="#fff" stroke="#fff" stroke-width="0.3"/>
<ellipse cx="-82.77" cy="-14.38" rx="0.05" ry="0.05" fill="#fff" stroke="#fff" stroke-width="0.3"/>
<ellipse cx="-80.14" cy="-13.56" rx="0.03" ry="0.03" fill="#fff" stroke="#fff" stroke-width="0.3"/>
<ellipse cx="-81.67" cy="-3.98" rx="0.04" ry="0.04" fill="#fff" stroke="#fff" stroke-width="0.3"/>
<ellipse cx="-75" cy="-18.4" rx="0.03" ry="0.03" fill="#fff" stroke="#fff" stroke-width="0.3"/>
<ellipse cx="-68.9" cy="-18.15" rx="0.08" ry="0.04" fill="#fff" stroke="#fff" stroke-width="0.3"/>
<ellipse cx="-67.85" cy="-18.1" rx="0.05" ry="0.03" fill="#fff" stroke="#fff" stroke-width="0.3"/>
<ellipse cx="-63.6" cy="-15.7" rx="0.02" ry="0.02" fill="#fff" stroke="#fff" stroke-width="0.3"/>
<ellipse cx="-61.6" cy="-12.6" rx="0.05" ry="0.1" fill="#fff" stroke="#fff" stroke-width="0.5"/>
<ellipse cx="-61.3" cy="-12.9" rx="0.04" ry="0.08" fill="#fff" stroke="#fff" stroke-width="0.3"/>
</mask></defs>
<g mask="url(#mc)">
<rect x="-85" y="-19" width="35" height="29" fill="#ffe6e6"/>
<path d="M-67.85,-5.86 C-67.22,-5.892 -66.59,-6.05 -65.96,-6.05 C-65.33,-6.05 -64.7,-5.86 -64.07,-5.86 C-63.44,-5.86 -62.653,-5.925 -62.18,-6.05 C-61.707,-6.175 -61.483,-6.327 -61.23,-6.61 C-60.977,-6.893 -60.88,-7.435 -60.66,-7.75 C-60.44,-8.065 -60.225,-8.5 -59.91,-8.5 C-59.595,-8.5 -59.212,-8.158 -58.77,-7.75 C-58.328,-7.342 -57.733,-6.333 -57.26,-6.05 C-56.787,-5.767 -56.377,-6.05 -55.935,-6.05 C-55.493,-6.05 -55.146,-6.082 -54.61,-6.05 C-54.074,-6.018 -53.35,-6.082 -52.72,-5.86 C-52.09,-5.638 -51.302,-5.131 -50.83,-4.72 C-50.358,-4.309 -50.2,-3.837 -49.885,-3.395 C-49.57,-2.953 -48.712,-2.291 -48.94,-2.07 C-49.168,-1.849 -50.481,-2.07 -51.251,-2.07 C-52.021,-2.07 -52.792,-2.07 -53.562,-2.07 C-54.333,-2.07 -55.103,-2.07 -55.873,-2.07 C-56.644,-2.07 -57.414,-2.07 -58.184,-2.07 C-58.955,-2.07 -59.725,-2.07 -60.496,-2.07 C-61.266,-2.07 -62.036,-2.07 -62.807,-2.07 C-63.577,-2.07 -64.347,-2.07 -65.118,-2.07 C-65.888,-2.07 -66.659,-2.07 -67.429,-2.07 C-68.199,-2.07 -69.355,-1.754 -69.74,-2.07 C-70.125,-2.386 -69.74,-3.333 -69.74,-3.965 C-69.74,-4.597 -70.055,-5.544 -69.74,-5.86 C-69.425,-6.176 -68.48,-5.828 -67.85,-5.86 Z" fill="#ffb2b2"/>
<path d="M-72.3,-7 C-72.011,-7.133 -70.944,-7 -70.267,-7 C-69.589,-7 -68.911,-7 -68.233,-7 C-67.556,-7 -66.539,-7.343 -66.2,-7 C-65.861,-6.657 -66.2,-5.628 -66.2,-4.942 C-66.2,-4.257 -66.2,-3.571 -66.2,-2.885 C-66.2,-2.199 -66.2,-1.513 -66.2,-0.827 C-66.2,-0.142 -65.885,0.935 -66.2,1.23 C-66.515,1.525 -67.648,1.083 -68.09,0.94 C-68.532,0.797 -68.598,0.528 -68.85,0.37 C-69.102,0.212 -69.412,0.147 -69.6,-0.01 C-69.788,-0.167 -69.79,-0.57 -69.98,-0.57 C-70.17,-0.57 -70.488,-0.167 -70.74,-0.01 C-70.992,0.147 -71.238,0.275 -71.49,0.37 C-71.742,0.465 -72.06,0.623 -72.25,0.56 C-72.44,0.497 -72.535,0.273 -72.63,-0.01 C-72.725,-0.293 -72.842,-0.825 -72.82,-1.14 C-72.798,-1.455 -72.62,-1.657 -72.5,-1.9 C-72.38,-2.143 -72.183,-2.25 -72.1,-2.6 C-72.017,-2.95 -72.025,-3.517 -72,-4 C-71.975,-4.483 -71.95,-5.133 -71.95,-5.5 C-71.95,-5.867 -71.942,-5.95 -72,-6.2 C-72.058,-6.45 -72.589,-6.867 -72.3,-7 Z" fill="#ffb2b2"/>
<path d="M-69.74,-6.5 C-69.355,-6.815 -68.199,-6.5 -67.429,-6.5 C-66.659,-6.5 -65.888,-6.5 -65.118,-6.5 C-64.347,-6.5 -63.577,-6.5 -62.807,-6.5 C-62.036,-6.5 -61.266,-6.5 -60.496,-6.5 C-59.725,-6.5 -58.955,-6.5 -58.184,-6.5 C-57.414,-6.5 -56.644,-6.5 -55.873,-6.5 C-55.103,-6.5 -54.333,-6.5 -53.562,-6.5 C-52.792,-6.5 -52.021,-6.5 -51.251,-6.5 C-50.481,-6.5 -49.325,-6.878 -48.94,-6.5 C-48.555,-6.122 -48.94,-4.988 -48.94,-4.232 C-48.94,-3.477 -48.94,-2.721 -48.94,-1.965 C-48.94,-1.209 -48.94,-0.453 -48.94,0.303 C-48.94,1.058 -48.767,2.192 -48.94,2.57 C-49.113,2.948 -49.538,2.538 -49.98,2.57 C-50.422,2.602 -51.133,2.76 -51.59,2.76 C-52.047,2.76 -52.278,2.602 -52.72,2.57 C-53.162,2.538 -53.798,2.538 -54.24,2.57 C-54.682,2.602 -55.055,2.823 -55.37,2.76 C-55.685,2.697 -55.815,2.222 -56.13,2.19 C-56.445,2.158 -56.882,2.475 -57.26,2.57 C-57.638,2.665 -58.022,2.697 -58.4,2.76 C-58.778,2.823 -59.247,3.013 -59.53,2.95 C-59.813,2.887 -59.912,2.317 -60.1,2.38 C-60.288,2.443 -60.44,3.14 -60.66,3.33 C-60.88,3.52 -61.167,3.583 -61.42,3.52 C-61.673,3.457 -61.865,3.14 -62.18,2.95 C-62.495,2.76 -62.995,2.602 -63.31,2.38 C-63.625,2.158 -63.818,1.715 -64.07,1.62 C-64.322,1.525 -64.505,1.747 -64.82,1.81 C-65.135,1.873 -65.582,2.062 -65.96,2 C-66.338,1.938 -66.775,1.597 -67.09,1.44 C-67.405,1.283 -67.408,1.123 -67.85,1.06 C-68.292,0.997 -69.425,1.375 -69.74,1.06 C-70.055,0.745 -69.74,-0.2 -69.74,-0.83 C-69.74,-1.46 -69.74,-2.09 -69.74,-2.72 C-69.74,-3.35 -69.74,-3.98 -69.74,-4.61 C-69.74,-5.24 -70.125,-6.185 -69.74,-6.5 Z" fill="#ffb2b2"/>
<path d="M-84.44,-14.27 C-84.378,-14.512 -84.055,-14.447 -83.97,-14.21 C-83.885,-13.973 -83.868,-13.092 -83.93,-12.85 C-83.992,-12.608 -84.255,-12.523 -84.34,-12.76 C-84.425,-12.997 -84.502,-14.028 -84.44,-14.27 Z" fill="#e6e6ff"/>
<path d="M-84,-12 C-83.937,-12.127 -83.652,-12.052 -83.59,-11.91 C-83.528,-11.768 -83.567,-11.277 -83.63,-11.15 C-83.693,-11.023 -83.908,-11.008 -83.97,-11.15 C-84.032,-11.292 -84.063,-11.873 -84,-12 Z" fill="#e6e6ff"/>
<path d="M-82.45,-9.26 C-82.292,-9.338 -81.697,-9.303 -81.32,-9.35 C-80.943,-9.397 -80.568,-9.492 -80.19,-9.54 C-79.812,-9.588 -79.272,-9.672 -79.05,-9.64 C-78.828,-9.608 -78.702,-9.43 -78.86,-9.35 C-79.018,-9.27 -79.59,-9.222 -80,-9.16 C-80.41,-9.098 -80.942,-9.027 -81.32,-8.98 C-81.698,-8.933 -82.082,-8.833 -82.27,-8.88 C-82.458,-8.927 -82.608,-9.182 -82.45,-9.26 Z" fill="#e6e6ff"/>
<path d="M-76.78,-8.5 C-76.702,-8.658 -76.33,-8.725 -76.22,-8.6 C-76.11,-8.475 -76.042,-7.908 -76.12,-7.75 C-76.198,-7.592 -76.58,-7.525 -76.69,-7.65 C-76.8,-7.775 -76.858,-8.342 -76.78,-8.5 Z" fill="#e6e6ff"/>
<path d="M-77.39,-7.52 C-77.278,-7.668 -76.755,-7.72 -76.59,-7.6 C-76.425,-7.48 -76.288,-6.948 -76.4,-6.8 C-76.512,-6.652 -77.095,-6.59 -77.26,-6.71 C-77.425,-6.83 -77.502,-7.372 -77.39,-7.52 Z" fill="#e6e6ff"/>
<path d="M-70.17,-11.3 C-69.997,-11.402 -69.235,-11.428 -69.03,-11.34 C-68.825,-11.252 -68.767,-10.872 -68.94,-10.77 C-69.113,-10.668 -69.865,-10.642 -70.07,-10.73 C-70.275,-10.818 -70.343,-11.198 -70.17,-11.3 Z" fill="#e6e6ff"/>
<path d="M-84.82,-10.3 C-84.678,-10.442 -84.238,-10.437 -83.97,-10.39 C-83.702,-10.343 -83.322,-10.177 -83.21,-10.02 C-83.098,-9.863 -83.142,-9.562 -83.3,-9.45 C-83.458,-9.338 -83.907,-9.335 -84.16,-9.35 C-84.413,-9.365 -84.71,-9.382 -84.82,-9.54 C-84.93,-9.698 -84.962,-10.158 -84.82,-10.3 Z" fill="#ffb2b2"/>
<path d="M-82.27,-7.75 C-82.112,-7.828 -81.573,-7.745 -81.32,-7.65 C-81.067,-7.555 -80.687,-7.29 -80.75,-7.18 C-80.813,-7.07 -81.447,-6.99 -81.7,-6.99 C-81.953,-6.99 -82.175,-7.053 -82.27,-7.18 C-82.365,-7.307 -82.428,-7.672 -82.27,-7.75 Z" fill="#ffb2b2"/>
<path d="M-73.95,-8.79 C-73.887,-8.947 -73.602,-8.992 -73.38,-8.88 C-73.158,-8.768 -72.872,-8.372 -72.62,-8.12 C-72.368,-7.868 -71.995,-7.622 -71.87,-7.37 C-71.745,-7.118 -71.777,-6.752 -71.87,-6.61 C-71.963,-6.468 -72.21,-6.425 -72.43,-6.52 C-72.65,-6.615 -72.968,-6.943 -73.19,-7.18 C-73.412,-7.417 -73.633,-7.672 -73.76,-7.94 C-73.887,-8.208 -74.013,-8.633 -73.95,-8.79 Z" fill="#ffb2b2"/>
<path d="M-72.47,-7.22 C-72.408,-7.302 -72.135,-7.265 -72.06,-7.18 C-71.985,-7.095 -71.958,-6.792 -72.02,-6.71 C-72.082,-6.628 -72.355,-6.605 -72.43,-6.69 C-72.505,-6.775 -72.532,-7.138 -72.47,-7.22 Z" fill="#ff4c4c"/>
<path d="M-69.6,-9.64 C-69.41,-9.798 -68.888,-9.767 -68.46,-9.83 C-68.032,-9.893 -67.268,-10.367 -67.03,-10.02 C-66.792,-9.673 -66.853,-8.16 -67.03,-7.75 C-67.207,-7.34 -67.725,-7.498 -68.09,-7.56 C-68.455,-7.622 -68.968,-7.9 -69.22,-8.12 C-69.472,-8.34 -69.537,-8.627 -69.6,-8.88 C-69.663,-9.133 -69.79,-9.482 -69.6,-9.64 Z" fill="#ffb2b2"/>
<path d="M-71.87,-6.99 C-71.648,-7.273 -71.108,-7.18 -70.73,-7.18 C-70.352,-7.18 -69.978,-7.053 -69.6,-6.99 C-69.222,-6.927 -68.888,-6.8 -68.46,-6.8 C-68.032,-6.8 -67.268,-7.237 -67.03,-6.99 C-66.792,-6.743 -67.03,-5.873 -67.03,-5.315 C-67.03,-4.757 -66.627,-3.919 -67.03,-3.64 C-67.433,-3.361 -68.643,-3.64 -69.45,-3.64 C-70.257,-3.64 -71.435,-3.333 -71.87,-3.64 C-72.305,-3.947 -72.06,-4.922 -72.06,-5.48 C-72.06,-6.038 -72.092,-6.707 -71.87,-6.99 Z" fill="#ffb2b2"/>
<path d="M-74.89,-9.26 C-74.777,-9.345 -74.295,-9.37 -74.17,-9.3 C-74.045,-9.23 -74.027,-8.925 -74.14,-8.84 C-74.253,-8.755 -74.725,-8.72 -74.85,-8.79 C-74.975,-8.86 -75.003,-9.175 -74.89,-9.26 Z" fill="#ffb2b2"/>
<path d="M-76.03,-5.86 C-75.92,-6.05 -75.412,-6.05 -75.27,-5.86 C-75.128,-5.67 -75.07,-4.91 -75.18,-4.72 C-75.29,-4.53 -75.788,-4.53 -75.93,-4.72 C-76.072,-4.91 -76.14,-5.67 -76.03,-5.86 Z" fill="#ffb2b2"/>
<path d="M-77.63,-6.23 C-77.488,-6.45 -77.205,-6.45 -76.97,-6.42 C-76.735,-6.39 -76.362,-6.333 -76.22,-6.05 C-76.078,-5.767 -76.027,-5.122 -76.12,-4.72 C-76.213,-4.318 -76.512,-3.82 -76.78,-3.64 C-77.048,-3.46 -77.557,-3.397 -77.73,-3.64 C-77.903,-3.883 -77.837,-4.668 -77.82,-5.1 C-77.803,-5.532 -77.772,-6.01 -77.63,-6.23 Z" fill="#b2b2ff"/>
<path d="M-77.63,-5.29 C-77.503,-5.597 -77.127,-5.607 -76.97,-5.48 C-76.813,-5.353 -76.69,-4.837 -76.69,-4.53 C-76.69,-4.223 -76.797,-3.788 -76.97,-3.64 C-77.143,-3.492 -77.62,-3.365 -77.73,-3.64 C-77.84,-3.915 -77.757,-4.983 -77.63,-5.29 Z" fill="#8080ff"/>
<path d="M-77.73,-4.63 C-77.645,-4.81 -77.355,-4.885 -77.26,-4.72 C-77.165,-4.555 -77.075,-3.82 -77.16,-3.64 C-77.245,-3.46 -77.675,-3.475 -77.77,-3.64 C-77.865,-3.805 -77.815,-4.45 -77.73,-4.63 Z" fill="#1818ff"/>
<path d="M-74.74,-4.63 C-74.693,-4.747 -74.48,-4.74 -74.42,-4.63 C-74.36,-4.52 -74.333,-4.087 -74.38,-3.97 C-74.427,-3.853 -74.64,-3.82 -74.7,-3.93 C-74.76,-4.04 -74.787,-4.513 -74.74,-4.63 Z" fill="#ff1818"/>
<path d="M-67.85,-9.45 C-67.66,-9.748 -67.057,-9.603 -66.71,-9.54 C-66.363,-9.477 -65.912,-9.337 -65.77,-9.07 C-65.628,-8.803 -65.703,-8.16 -65.86,-7.94 C-66.017,-7.72 -66.378,-7.782 -66.71,-7.75 C-67.042,-7.718 -67.66,-7.467 -67.85,-7.75 C-68.04,-8.033 -68.04,-9.152 -67.85,-9.45 Z" fill="#ffb2b2"/>
<path d="M-65.58,-7.27 C-65.437,-7.46 -64.818,-7.527 -64.63,-7.37 C-64.442,-7.213 -64.307,-6.52 -64.45,-6.33 C-64.593,-6.14 -65.302,-6.073 -65.49,-6.23 C-65.678,-6.387 -65.723,-7.08 -65.58,-7.27 Z" fill="#ffb2b2"/>
<path d="M-67.85,-6.99 C-67.66,-7.132 -66.883,-7.057 -66.71,-6.9 C-66.537,-6.743 -66.62,-6.192 -66.81,-6.05 C-67,-5.908 -67.677,-5.893 -67.85,-6.05 C-68.023,-6.207 -68.04,-6.848 -67.85,-6.99 Z" fill="#ffb2b2"/>
<path d="M-65.01,-5.38 C-64.727,-5.617 -63.45,-5.685 -63.12,-5.48 C-62.79,-5.275 -62.747,-4.387 -63.03,-4.15 C-63.313,-3.913 -64.49,-3.855 -64.82,-4.06 C-65.15,-4.265 -65.293,-5.143 -65.01,-5.38 Z" fill="#ffe6e6"/>
<path d="M-60.66,-5.1 C-60.472,-5.343 -59.718,-5.343 -59.53,-5.1 C-59.342,-4.857 -59.342,-3.883 -59.53,-3.64 C-59.718,-3.397 -60.472,-3.397 -60.66,-3.64 C-60.848,-3.883 -60.848,-4.857 -60.66,-5.1 Z" fill="#ffe6e6"/>
<path d="M-62.78,-5.48 C-62.687,-5.62 -62.287,-5.647 -62.18,-5.52 C-62.073,-5.393 -62.047,-4.86 -62.14,-4.72 C-62.233,-4.58 -62.633,-4.553 -62.74,-4.68 C-62.847,-4.807 -62.873,-5.34 -62.78,-5.48 Z" fill="#ff7e7e"/>
<path d="M-54.24,-5.86 C-53.987,-6.23 -53.225,-6.082 -52.72,-5.86 C-52.215,-5.638 -51.493,-4.9 -51.21,-4.53 C-50.927,-4.16 -50.783,-3.788 -51.02,-3.64 C-51.257,-3.492 -52.093,-3.64 -52.63,-3.64 C-53.167,-3.64 -53.972,-3.27 -54.24,-3.64 C-54.508,-4.01 -54.493,-5.49 -54.24,-5.86 Z" fill="#ff7e7e"/>
<path d="M-53.1,-5.86 C-53.007,-5.923 -52.475,-5.717 -52.16,-5.48 C-51.845,-5.243 -51.4,-4.747 -51.21,-4.44 C-51.02,-4.133 -50.925,-3.773 -51.02,-3.64 C-51.115,-3.507 -51.497,-3.397 -51.78,-3.64 C-52.063,-3.883 -52.5,-4.73 -52.72,-5.1 C-52.94,-5.47 -53.193,-5.797 -53.1,-5.86 Z" fill="#ff4c4c"/>
<path d="M-64.63,-10.49 C-64.44,-10.663 -63.545,-10.722 -63.31,-10.58 C-63.075,-10.438 -63.03,-9.813 -63.22,-9.64 C-63.41,-9.467 -64.215,-9.398 -64.45,-9.54 C-64.685,-9.682 -64.82,-10.317 -64.63,-10.49 Z" fill="#e6e6ff"/>
<path d="M-67.85,-18.71 C-67.535,-18.907 -66.59,-18.743 -65.96,-18.76 C-65.33,-18.777 -64.385,-19.007 -64.07,-18.81 C-63.755,-18.613 -63.755,-17.785 -64.07,-17.58 C-64.385,-17.375 -65.33,-17.58 -65.96,-17.58 C-66.59,-17.58 -67.535,-17.392 -67.85,-17.58 C-68.165,-17.768 -68.165,-18.513 -67.85,-18.71 Z" fill="#e6e6ff"/>
<path d="M-63.5,-18.52 C-63.405,-18.645 -63.055,-18.55 -62.74,-18.33 C-62.425,-18.11 -61.925,-17.577 -61.61,-17.2 C-61.295,-16.823 -61.04,-16.512 -60.85,-16.07 C-60.66,-15.628 -60.502,-14.992 -60.47,-14.55 C-60.438,-14.108 -60.533,-13.767 -60.66,-13.42 C-60.787,-13.073 -61.072,-12.753 -61.23,-12.47 C-61.388,-12.187 -61.452,-11.813 -61.61,-11.72 C-61.768,-11.627 -62.117,-11.722 -62.18,-11.91 C-62.243,-12.098 -62.117,-12.535 -61.99,-12.85 C-61.863,-13.165 -61.515,-13.39 -61.42,-13.8 C-61.325,-14.21 -61.293,-14.838 -61.42,-15.31 C-61.547,-15.782 -61.865,-16.252 -62.18,-16.63 C-62.495,-17.008 -63.09,-17.265 -63.31,-17.58 C-63.53,-17.895 -63.595,-18.395 -63.5,-18.52 Z" fill="#e6e6ff"/>
<path d="M-61.23,-11.53 C-61.073,-11.625 -60.447,-11.625 -60.29,-11.53 C-60.133,-11.435 -60.133,-11.055 -60.29,-10.96 C-60.447,-10.865 -61.073,-10.865 -61.23,-10.96 C-61.387,-11.055 -61.387,-11.435 -61.23,-11.53 Z" fill="#e6e6ff"/>
<path d="M-69.98,-2.91 C-69.697,-3.13 -68.422,-3.13 -68.09,-2.91 C-67.758,-2.69 -67.707,-1.81 -67.99,-1.59 C-68.273,-1.37 -69.458,-1.37 -69.79,-1.59 C-70.122,-1.81 -70.263,-2.69 -69.98,-2.91 Z" fill="#ffe6e6"/>
<path d="M-77.16,-0.83 C-77.128,-0.94 -76.842,-1.068 -76.59,-1.21 C-76.338,-1.352 -75.933,-1.553 -75.65,-1.68 C-75.367,-1.807 -75.08,-1.953 -74.89,-1.97 C-74.7,-1.987 -74.51,-1.89 -74.51,-1.78 C-74.51,-1.67 -74.637,-1.468 -74.89,-1.31 C-75.143,-1.152 -75.715,-0.957 -76.03,-0.83 C-76.345,-0.703 -76.592,-0.55 -76.78,-0.55 C-76.968,-0.55 -77.192,-0.72 -77.16,-0.83 Z" fill="#ffb2b2"/>
<path d="M-76.22,-4.71 C-76.142,-4.835 -75.762,-4.895 -75.65,-4.8 C-75.538,-4.705 -75.472,-4.265 -75.55,-4.14 C-75.628,-4.015 -76.008,-3.955 -76.12,-4.05 C-76.232,-4.145 -76.298,-4.585 -76.22,-4.71 Z" fill="#ffb2b2"/>
<path d="M-77.54,-2.06 C-77.43,-2.218 -76.913,-2.285 -76.78,-2.16 C-76.647,-2.035 -76.63,-1.468 -76.74,-1.31 C-76.85,-1.152 -77.307,-1.085 -77.44,-1.21 C-77.573,-1.335 -77.65,-1.902 -77.54,-2.06 Z" fill="#ffb2b2"/>
<path d="M-78.86,5.6 C-78.742,5.42 -78.242,5.343 -78.11,5.5 C-77.978,5.657 -77.952,6.36 -78.07,6.54 C-78.188,6.72 -78.688,6.737 -78.82,6.58 C-78.952,6.423 -78.978,5.78 -78.86,5.6 Z" fill="#e6e6ff"/>
<path d="M-79.33,7.67 C-79.242,7.537 -78.87,7.543 -78.77,7.67 C-78.67,7.797 -78.642,8.297 -78.73,8.43 C-78.818,8.563 -79.2,8.597 -79.3,8.47 C-79.4,8.343 -79.418,7.803 -79.33,7.67 Z" fill="#e6e6ff"/>
<path d="M-76.78,7.49 C-76.655,7.27 -76.092,7.238 -75.84,7.3 C-75.588,7.362 -75.302,7.64 -75.27,7.86 C-75.238,8.08 -75.43,8.493 -75.65,8.62 C-75.87,8.747 -76.402,8.808 -76.59,8.62 C-76.778,8.432 -76.905,7.71 -76.78,7.49 Z" fill="#e6e6ff"/>
<path d="M-74.89,7.86 C-74.797,7.67 -74.297,7.543 -74.14,7.67 C-73.983,7.797 -73.857,8.43 -73.95,8.62 C-74.043,8.81 -74.543,8.937 -74.7,8.81 C-74.857,8.683 -74.983,8.05 -74.89,7.86 Z" fill="#e6e6ff"/>
<path d="M-78.86,-0.83 C-78.718,-1.113 -78.072,-1.113 -77.92,-0.83 C-77.768,-0.547 -77.808,0.587 -77.95,0.87 C-78.092,1.153 -78.618,1.153 -78.77,0.87 C-78.922,0.587 -79.002,-0.547 -78.86,-0.83 Z" fill="#e6e6ff"/>
<path d="M-77.73,-5.75 C-77.557,-6.002 -76.88,-6.002 -76.69,-5.75 C-76.5,-5.498 -76.575,-4.777 -76.59,-4.24 C-76.605,-3.703 -76.622,-2.845 -76.78,-2.53 C-76.938,-2.215 -77.367,-2.255 -77.54,-2.35 C-77.713,-2.445 -77.788,-2.785 -77.82,-3.1 C-77.852,-3.415 -77.745,-3.798 -77.73,-4.24 C-77.715,-4.682 -77.903,-5.498 -77.73,-5.75 Z" fill="#b2b2ff"/>
<path d="M-77.63,-5.75 C-77.567,-6.16 -77.253,-6.128 -77.16,-5.75 C-77.067,-5.372 -77.007,-3.89 -77.07,-3.48 C-77.133,-3.07 -77.447,-2.912 -77.54,-3.29 C-77.633,-3.668 -77.693,-5.34 -77.63,-5.75 Z" fill="#1818ff"/>
<path d="M-74.74,-4.61 C-74.693,-4.742 -74.48,-4.735 -74.42,-4.61 C-74.36,-4.485 -74.333,-3.992 -74.38,-3.86 C-74.427,-3.728 -74.64,-3.695 -74.7,-3.82 C-74.76,-3.945 -74.787,-4.478 -74.74,-4.61 Z" fill="#ff1818"/>
<path d="M-80,2.57 C-79.912,2.343 -79.532,2.35 -79.43,2.57 C-79.328,2.79 -79.302,3.663 -79.39,3.89 C-79.478,4.117 -79.858,4.15 -79.96,3.93 C-80.062,3.71 -80.088,2.797 -80,2.57 Z" fill="#ffb2b2"/>
<path d="M-63.5,-1.02 C-63.38,-1.24 -62.872,-1.24 -62.74,-1.02 C-62.608,-0.8 -62.59,0.08 -62.71,0.3 C-62.83,0.52 -63.328,0.52 -63.46,0.3 C-63.592,0.08 -63.62,-0.8 -63.5,-1.02 Z" fill="#ffe6e6"/>
<path d="M-55.75,-0.45 C-55.53,-0.638 -54.587,-0.638 -54.24,-0.45 C-53.893,-0.262 -53.608,0.428 -53.67,0.68 C-53.732,0.932 -54.295,1.06 -54.61,1.06 C-54.925,1.06 -55.37,0.932 -55.56,0.68 C-55.75,0.428 -55.97,-0.262 -55.75,-0.45 Z" fill="#ffe6e6"/>
<path d="M-66.52,-1.4 C-66.368,-1.495 -65.737,-1.495 -65.58,-1.4 C-65.423,-1.305 -65.428,-0.925 -65.58,-0.83 C-65.732,-0.735 -66.333,-0.735 -66.49,-0.83 C-66.647,-0.925 -66.672,-1.305 -66.52,-1.4 Z" fill="#ffe6e6"/>
<path d="M-58.77,2 C-58.618,1.905 -57.987,1.905 -57.83,2 C-57.673,2.095 -57.678,2.475 -57.83,2.57 C-57.982,2.665 -58.583,2.665 -58.74,2.57 C-58.897,2.475 -58.922,2.095 -58.77,2 Z" fill="#ffe6e6"/>
<path d="M-60.29,-5.37 C-60.17,-5.558 -59.657,-5.558 -59.53,-5.37 C-59.403,-5.182 -59.41,-4.428 -59.53,-4.24 C-59.65,-4.052 -60.123,-4.052 -60.25,-4.24 C-60.377,-4.428 -60.41,-5.182 -60.29,-5.37 Z" fill="#ffe6e6"/>
<path d="M-64.07,-3.1 C-64.007,-3.225 -63.72,-3.225 -63.65,-3.1 C-63.58,-2.975 -63.587,-2.475 -63.65,-2.35 C-63.713,-2.225 -63.96,-2.225 -64.03,-2.35 C-64.1,-2.475 -64.133,-2.975 -64.07,-3.1 Z" fill="#ffe6e6"/>
<path d="M-65.77,-4.61 C-65.707,-4.703 -65.42,-4.703 -65.35,-4.61 C-65.28,-4.517 -65.287,-4.143 -65.35,-4.05 C-65.413,-3.957 -65.66,-3.957 -65.73,-4.05 C-65.8,-4.143 -65.833,-4.517 -65.77,-4.61 Z" fill="#ffe6e6"/>
<path d="M-66.71,-3.29 C-66.395,-3.478 -65.135,-3.668 -64.82,-3.48 C-64.505,-3.292 -64.63,-2.412 -64.82,-2.16 C-65.01,-1.908 -65.645,-1.938 -65.96,-1.97 C-66.275,-2.002 -66.585,-2.13 -66.71,-2.35 C-66.835,-2.57 -67.025,-3.102 -66.71,-3.29 Z" fill="#ff7e7e"/>
<path d="M-59.15,-3.1 C-58.772,-3.337 -57.258,-3.51 -56.88,-3.29 C-56.502,-3.07 -56.502,-2.017 -56.88,-1.78 C-57.258,-1.543 -58.772,-1.65 -59.15,-1.87 C-59.528,-2.09 -59.528,-2.863 -59.15,-3.1 Z" fill="#ff7e7e"/>
<path d="M-61.61,-1.12 C-61.28,-1.232 -59.877,-1.225 -59.53,-1.12 C-59.183,-1.015 -59.2,-0.602 -59.53,-0.49 C-59.86,-0.378 -61.163,-0.345 -61.51,-0.45 C-61.857,-0.555 -61.94,-1.008 -61.61,-1.12 Z" fill="#ff7e7e"/>
<path d="M-61.23,-3.1 C-61.048,-3.225 -60.288,-3.225 -60.1,-3.1 C-59.912,-2.975 -59.918,-2.475 -60.1,-2.35 C-60.282,-2.225 -61.002,-2.225 -61.19,-2.35 C-61.378,-2.475 -61.412,-2.975 -61.23,-3.1 Z" fill="#ff7e7e"/>
<path d="M-62.93,-5.56 C-62.78,-5.687 -62.147,-5.687 -61.99,-5.56 C-61.833,-5.433 -61.84,-4.927 -61.99,-4.8 C-62.14,-4.673 -62.733,-4.673 -62.89,-4.8 C-63.047,-4.927 -63.08,-5.433 -62.93,-5.56 Z" fill="#ff7e7e"/>
<path d="M-57.64,-3.67 C-57.45,-3.74 -56.69,-3.74 -56.5,-3.67 C-56.31,-3.6 -56.31,-3.32 -56.5,-3.25 C-56.69,-3.18 -57.45,-3.18 -57.64,-3.25 C-57.83,-3.32 -57.83,-3.6 -57.64,-3.67 Z" fill="#ff7e7e"/>
<path d="M-56.32,-5.56 C-55.98,-5.655 -54.587,-5.655 -54.24,-5.56 C-53.893,-5.465 -53.9,-5.085 -54.24,-4.99 C-54.58,-4.895 -55.933,-4.895 -56.28,-4.99 C-56.627,-5.085 -56.66,-5.465 -56.32,-5.56 Z" fill="#ff7e7e"/>
<path d="M-52.91,-5.75 C-52.611,-5.94 -51.587,-5.75 -50.925,-5.75 C-50.263,-5.75 -49.271,-6.097 -48.94,-5.75 C-48.609,-5.403 -48.94,-4.363 -48.94,-3.67 C-48.94,-2.977 -48.625,-1.842 -48.94,-1.59 C-49.255,-1.338 -50.357,-1.845 -50.83,-2.16 C-51.303,-2.475 -51.465,-3.072 -51.78,-3.48 C-52.095,-3.888 -52.532,-4.232 -52.72,-4.61 C-52.908,-4.988 -53.209,-5.56 -52.91,-5.75 Z" fill="#ff7e7e"/>
<path d="M-51.78,-5.75 C-51.607,-6.002 -50.833,-5.75 -50.36,-5.75 C-49.887,-5.75 -49.177,-6.081 -48.94,-5.75 C-48.703,-5.419 -48.94,-4.427 -48.94,-3.765 C-48.94,-3.103 -48.657,-1.986 -48.94,-1.78 C-49.223,-1.574 -50.23,-2.12 -50.64,-2.53 C-51.05,-2.94 -51.21,-3.703 -51.4,-4.24 C-51.59,-4.777 -51.953,-5.498 -51.78,-5.75 Z" fill="#ff4c4c"/>
<path d="M-59.15,5.78 C-58.962,5.638 -58.367,5.532 -58.02,5.69 C-57.673,5.848 -57.197,6.4 -57.07,6.73 C-56.943,7.06 -57.07,7.543 -57.26,7.67 C-57.45,7.797 -57.895,7.678 -58.21,7.49 C-58.525,7.302 -58.993,6.825 -59.15,6.54 C-59.307,6.255 -59.338,5.922 -59.15,5.78 Z" fill="#e6e6ff"/>
<path d="M-61.23,6.16 C-61.048,6.043 -60.288,5.975 -60.1,6.07 C-59.912,6.165 -59.918,6.613 -60.1,6.73 C-60.282,6.847 -61.002,6.865 -61.19,6.77 C-61.378,6.675 -61.412,6.277 -61.23,6.16 Z" fill="#e6e6ff"/>
<path d="M-71.5,-6 C-71.35,-6.167 -70.667,-6.167 -70.5,-6 C-70.333,-5.833 -70.35,-5.167 -70.5,-5 C-70.65,-4.833 -71.233,-4.833 -71.4,-5 C-71.567,-5.167 -71.65,-5.833 -71.5,-6 Z" fill="#ffe6e6"/>
<path d="M-69.6,-3 C-69.467,-3.133 -68.85,-3.133 -68.7,-3 C-68.55,-2.867 -68.567,-2.333 -68.7,-2.2 C-68.833,-2.067 -69.35,-2.067 -69.5,-2.2 C-69.65,-2.333 -69.733,-2.867 -69.6,-3 Z" fill="#ffe6e6"/>
<path d="M-66.8,-3.5 C-66.55,-3.583 -65.533,-3.283 -65.2,-3.1 C-64.867,-2.917 -64.667,-2.55 -64.8,-2.4 C-64.933,-2.25 -65.683,-2.167 -66,-2.2 C-66.317,-2.233 -66.567,-2.383 -66.7,-2.6 C-66.833,-2.817 -67.05,-3.417 -66.8,-3.5 Z" fill="#ff7e7e"/>
<path d="M-72.2,-7.2 C-72.158,-7.258 -71.992,-7.258 -71.95,-7.2 C-71.908,-7.142 -71.908,-6.908 -71.95,-6.85 C-71.992,-6.792 -72.158,-6.792 -72.2,-6.85 C-72.242,-6.908 -72.242,-7.142 -72.2,-7.2 Z" fill="#ff7e7e"/>
<path d="M-65.2,-18.8 C-64.875,-18.967 -63.9,-18.8 -63.25,-18.8 C-62.6,-18.8 -61.625,-19.183 -61.3,-18.8 C-60.975,-18.417 -60.933,-16.8 -61.3,-16.5 C-61.667,-16.2 -62.85,-16.783 -63.5,-17 C-64.15,-17.217 -64.917,-17.5 -65.2,-17.8 C-65.483,-18.1 -65.525,-18.633 -65.2,-18.8 Z" fill="#e6e6ff"/>
<path d="M-59.9,-13.5 C-59.783,-13.617 -59.317,-13.617 -59.2,-13.5 C-59.083,-13.383 -59.083,-12.917 -59.2,-12.8 C-59.317,-12.683 -59.783,-12.683 -59.9,-12.8 C-60.017,-12.917 -60.017,-13.383 -59.9,-13.5 Z" fill="#e6e6ff"/>
<path d="M-61.2,-11.6 C-61.033,-11.717 -60.367,-11.717 -60.2,-11.6 C-60.033,-11.483 -60.033,-11.017 -60.2,-10.9 C-60.367,-10.783 -61.033,-10.783 -61.2,-10.9 C-61.367,-11.017 -61.367,-11.483 -61.2,-11.6 Z" fill="#e6e6ff"/>
<path d="M-71.55,-9.92 C-71.493,-9.92 -71.38,-9.792 -71.38,-9.73 C-71.38,-9.668 -71.493,-9.55 -71.55,-9.55 C-71.607,-9.55 -71.72,-9.668 -71.72,-9.73 C-71.72,-9.792 -71.607,-9.92 -71.55,-9.92 Z" fill="#ffffff"/>
</g>
<path d="M-84,-19 V10 M-78,-19 V10 M-72,-19 V10 M-66,-19 V10 M-60,-19 V10 M-54,-19 V10 M-85,-18 H-50 M-85,-12 H-50 M-85,-6 H-50 M-85,0 H-50 M-85,6 H-50" stroke="#bdbdbd" stroke-width="0.8" stroke-dasharray="2.1,1.05" vector-effect="non-scaling-stroke" fill="none"/>
<g fill="none" stroke="#000" stroke-width="1" vector-effect="non-scaling-stroke" stroke-linejoin="round">
<path d="M-86,-16 L-85.02,-16 L-84.6,-15.88 L-84.2,-15.75 L-83.9,-15.55 L-83.5,-15.3 L-83.21,-15.03 L-83.26,-14.83 L-83.18,-14.5 L-83.34,-14.09 L-83.5,-13.68 L-83.58,-13.35 L-83.58,-12.86 L-83.67,-12.53 L-83.79,-11.96 L-83.85,-11.47 L-83.73,-11.01 L-83.38,-10.49 L-82.95,-9.98 L-82.53,-9.55 L-82.18,-9.29 L-81.75,-8.95 L-81.41,-8.82 L-80.98,-8.95 L-80.47,-9.21 L-79.96,-9.47 L-79.53,-9.64 L-79.01,-9.47 L-78.5,-9.38 L-77.98,-9.21 L-77.47,-8.78 L-77.15,-8.44 L-76.95,-8.5 L-76.88,-8.2 L-76.85,-7.94 L-76.8,-8.2 L-76.85,-8.55 L-76.57,-8.76 L-76.16,-9.25 L-75.83,-9.5 L-75.66,-9.75 L-75.62,-10.16 L-75.5,-10.57 L-75.09,-10.98 L-74.76,-11.1 L-74.55,-10.95 L-74.35,-11.14 L-74.19,-11.3 L-73.7,-11.26 L-73.29,-11.34 L-72.8,-11.63 L-72.39,-11.88 L-72.16,-12.1 L-71.88,-12.39 L-71.63,-12.43 L-71.3,-12.39 L-71.14,-12.23 L-71.18,-12.02 L-71.39,-11.82 L-71.71,-11.66 L-71.96,-11.53 L-71.85,-11.25 L-71.62,-10.92 L-71.5,-10.95 L-71.14,-11.04 L-70.65,-11.25 L-70.24,-11.53 L-70.28,-11.86 L-70.16,-12.11 L-69.95,-12.11 L-69.83,-11.86 L-69.79,-11.57 L-69.66,-11.49 L-69.25,-11.45 L-68.84,-11.37 L-68.52,-11.2 L-68.35,-10.96 L-68.27,-10.71 L-68.11,-10.51 L-67.7,-10.47 L-67.2,-10.55 L-66.71,-10.59 L-66.12,-10.6 L-65.96,-10.34 L-65.55,-10.18 L-65.06,-10.02 L-64.73,-10.14 L-64.4,-10.34 L-64.16,-10.51 L-63.75,-10.63 L-63.17,-10.67 L-62.68,-10.71 L-62.2,-10.7 L-61.86,-10.7 L-62.3,-10.55 L-62.75,-10.45 L-62.9,-10.2 L-62.6,-10 L-62.35,-9.89 L-61.94,-9.73 L-61.5,-9.5 L-61.04,-9.24 L-60.9,-8.9 L-60.55,-8.58 L-60.06,-8.5 L-59.65,-8.34 L-59.24,-8.13 L-58.95,-7.83 L-58.48,-7.25 L-58.45,-6.9 L-58.13,-6.78 L-57.54,-6.31 L-57.08,-6.02 L-56.49,-5.91 L-55.91,-5.79 L-55.09,-5.85 L-54.5,-5.82 L-53.92,-5.73 L-53.22,-5.5 L-52.75,-5.32 L-52.28,-4.92 L-51.81,-4.57 L-51.46,-4.33 L-51.2,-4.2 L-51.11,-3.87 L-50.88,-3.17 L-50.7,-2.47 L-50.53,-2 L-50.3,-1.85 L-50,-1.77 L-49,-1.77 L-49,11 L-78,11 L-78.2,10 L-78.38,9.59 L-78.61,9.01 L-78.96,8.31 L-79.31,7.72 L-79.66,7.26 L-80.01,6.91 L-80.48,6.56 L-80.94,6.32 L-81.06,5.86 L-80.94,5.39 L-81.18,5.04 L-81.35,4.69 L-81.29,4.22 L-81.06,3.87 L-80.59,3.41 L-80.24,3.06 L-79.85,2.75 L-79.8,2.3 L-79.95,2.15 L-80.2,2.55 L-80.59,2.47 L-80.94,2.24 L-80.85,1.8 L-80.94,1.07 L-80.71,0.84 L-80.42,0.61 L-80.36,0.14 L-80.13,-0.44 L-80.1,-0.72 L-79.81,-0.95 L-79.46,-1.07 L-79.17,-1.4 L-78.93,-1.65 L-78.76,-1.89 L-78.68,-2.19 L-78.27,-2.6 L-77.94,-2.76 L-77.53,-3 L-77.3,-3.4 L-77.12,-3.75 L-77.29,-4.16 L-77.37,-4.57 L-77.53,-5.14 L-77.61,-5.47 L-77.35,-5.75 L-77.37,-6.2 L-77.45,-6.7 L-77.78,-7.11 L-78.11,-7.6 L-78.35,-8 L-78.45,-8.4 L-78.76,-8.83 L-79.09,-9.07 L-79.53,-8.87 L-79.78,-8.61 L-80.13,-8.35 L-80.47,-8.27 L-80.3,-7.9 L-80.04,-7.58 L-80.13,-7.33 L-80.47,-7.24 L-80.9,-7.33 L-81.16,-7.67 L-81.58,-7.84 L-82.01,-8.18 L-82.44,-8.27 L-82.95,-8.18 L-83.21,-8.35 L-83.47,-8.52 L-83.73,-8.78 L-84,-9.15 L-84.33,-9.47 L-84.67,-9.72 L-85.01,-9.98 L-86,-10 Z" vector-effect="non-scaling-stroke"/>
<path d="M-71.55,-10.71 L-71.8,-10.22 L-72.04,-9.81 L-71.96,-9.48 L-71.8,-9.24 L-71.55,-9.07 L-71.22,-9.16 L-71.1,-9.4 L-71.06,-9.73 L-71.22,-10.06 L-71.47,-10.47 Z" vector-effect="non-scaling-stroke"/>
<path d="M-78.42,-18.39 L-78.03,-18.49 L-77.41,-18.47 L-76.79,-18.39 L-76.25,-18.08 L-76.41,-17.92 L-77.1,-17.88 L-77.26,-17.72 L-77.57,-17.88 L-78.03,-18 L-78.34,-18.15 Z" vector-effect="non-scaling-stroke"/>
<path d="M-74.48,-18.3 L-74.32,-18.62 L-73.7,-18.62 L-73,-18.5 L-72.5,-18.55 L-72.75,-19.1 L-68.6,-19.1 L-68.3,-18.62 L-68.68,-18.15 L-69.1,-18.3 L-69.68,-18.23 L-70.6,-18.23 L-71.1,-18.1 L-71.4,-17.62 L-71.6,-17.65 L-71.8,-18.05 L-72.5,-18.15 L-73.2,-18.15 L-73.7,-18.08 L-74.2,-18.25 Z" vector-effect="non-scaling-stroke"/>
<path d="M-73.3,-18.85 L-72.9,-18.75 L-72.8,-18.85 L-73.2,-18.95 Z" vector-effect="non-scaling-stroke"/>
<path d="M-67.21,-18.45 L-65.82,-18.44 L-65.59,-18.23 L-65.74,-17.92 L-67.21,-17.88 L-67.29,-18.15 Z" vector-effect="non-scaling-stroke"/>
<path d="M-61.7,-10.72 L-60.92,-10.82 L-60.96,-10.12 L-61.45,-10.08 L-61.5,-10.4 L-61.65,-10.6 Z" vector-effect="non-scaling-stroke"/>
<path d="M-64.4,-11 L-64.2,-11.12 L-63.85,-11.15 L-63.8,-10.95 L-64,-10.9 L-64.3,-10.88 Z" vector-effect="non-scaling-stroke"/>
<path d="M-69.17,-12.38 L-68.95,-12.2 L-68.75,-12.02 L-68.8,-12.05 L-69,-12.2 Z" vector-effect="non-scaling-stroke"/>
<path d="M-70.06,-12.62 L-69.88,-12.45 L-69.9,-12.42 L-70.05,-12.55 Z" vector-effect="non-scaling-stroke"/>
<path d="M-68.42,-12.3 L-68.2,-12.05 L-68.25,-12.02 L-68.4,-12.2 Z" vector-effect="non-scaling-stroke"/>
<path d="M-61.8,-16.3 L-61.55,-16.5 L-61.45,-16.3 L-61.2,-16.25 L-61.55,-16.2 L-61.7,-15.95 L-61.8,-16.1 Z" vector-effect="non-scaling-stroke"/>
<ellipse cx="-61.35" cy="-15.4" rx="0.1" ry="0.22" vector-effect="non-scaling-stroke"/>
<ellipse cx="-61" cy="-14.65" rx="0.13" ry="0.22" vector-effect="non-scaling-stroke"/>
<ellipse cx="-60.97" cy="-13.9" rx="0.08" ry="0.18" vector-effect="non-scaling-stroke"/>
<ellipse cx="-61.2" cy="-13.25" rx="0.07" ry="0.13" vector-effect="non-scaling-stroke"/>
<ellipse cx="-61.68" cy="-12.12" rx="0.08" ry="0.1" vector-effect="non-scaling-stroke"/>
<ellipse cx="-59.55" cy="-13.17" rx="0.1" ry="0.14" vector-effect="non-scaling-stroke"/>
<ellipse cx="-60.65" cy="-11.22" rx="0.18" ry="0.07" vector-effect="non-scaling-stroke"/>
<ellipse cx="-61.8" cy="-17.08" rx="0.12" ry="0.08" vector-effect="non-scaling-stroke"/>
<ellipse cx="-61.8" cy="-17.63" rx="0.08" ry="0.08" vector-effect="non-scaling-stroke"/>
<ellipse cx="-62.2" cy="-16.75" rx="0.05" ry="0.07" vector-effect="non-scaling-stroke"/>
<ellipse cx="-62.7" cy="-17.25" rx="0.1" ry="0.1" vector-effect="non-scaling-stroke"/>
<ellipse cx="-62.98" cy="-17.5" rx="0.03" ry="0.03" vector-effect="non-scaling-stroke"/>
<ellipse cx="-63.23" cy="-17.63" rx="0.03" ry="0.03" vector-effect="non-scaling-stroke"/>
<ellipse cx="-63.05" cy="-18.05" rx="0.08" ry="0.06" vector-effect="non-scaling-stroke"/>
<ellipse cx="-63.05" cy="-18.2" rx="0.1" ry="0.04" vector-effect="non-scaling-stroke"/>
<ellipse cx="-62.85" cy="-17.9" rx="0.04" ry="0.04" vector-effect="non-scaling-stroke"/>
<ellipse cx="-64.8" cy="-18.35" rx="0.15" ry="0.05" vector-effect="non-scaling-stroke"/>
<ellipse cx="-64.55" cy="-18.45" rx="0.1" ry="0.04" vector-effect="non-scaling-stroke"/>
<ellipse cx="-61.25" cy="-15.95" rx="0.08" ry="0.08" vector-effect="non-scaling-stroke"/>
<ellipse cx="-66.2" cy="-11.8" rx="0.06" ry="0.03" vector-effect="non-scaling-stroke"/>
<ellipse cx="-66.75" cy="-11.85" rx="0.1" ry="0.05" vector-effect="non-scaling-stroke"/>
<ellipse cx="-64.6" cy="-11.85" rx="0.05" ry="0.04" vector-effect="non-scaling-stroke"/>
<ellipse cx="-65.34" cy="-10.92" rx="0.1" ry="0.04" vector-effect="non-scaling-stroke"/>
<ellipse cx="-63.1" cy="-11.4" rx="0.03" ry="0.03" vector-effect="non-scaling-stroke"/>
<ellipse cx="-67.7" cy="-11.98" rx="0.05" ry="0.03" vector-effect="non-scaling-stroke"/>
<ellipse cx="-81.4" cy="-13.35" rx="0.05" ry="0.06" vector-effect="non-scaling-stroke"/>
<ellipse cx="-81.72" cy="-12.55" rx="0.04" ry="0.07" vector-effect="non-scaling-stroke"/>
<ellipse cx="-83.05" cy="-12.17" rx="0.05" ry="0.04" vector-effect="non-scaling-stroke"/>
<ellipse cx="-82.77" cy="-14.38" rx="0.05" ry="0.05" vector-effect="non-scaling-stroke"/>
<ellipse cx="-80.14" cy="-13.56" rx="0.03" ry="0.03" vector-effect="non-scaling-stroke"/>
<ellipse cx="-81.67" cy="-3.98" rx="0.04" ry="0.04" vector-effect="non-scaling-stroke"/>
<ellipse cx="-75" cy="-18.4" rx="0.03" ry="0.03" vector-effect="non-scaling-stroke"/>
<ellipse cx="-68.9" cy="-18.15" rx="0.08" ry="0.04" vector-effect="non-scaling-stroke"/>
<ellipse cx="-67.85" cy="-18.1" rx="0.05" ry="0.03" vector-effect="non-scaling-stroke"/>
<ellipse cx="-63.6" cy="-15.7" rx="0.02" ry="0.02" vector-effect="non-scaling-stroke"/>
<ellipse cx="-61.6" cy="-12.6" rx="0.05" ry="0.1" vector-effect="non-scaling-stroke"/>
<ellipse cx="-61.3" cy="-12.9" rx="0.04" ry="0.08" vector-effect="non-scaling-stroke"/>
<path d="M-52.7,1.57 L-52.37,1.4 L-51.94,1.32 L-51.72,1.05 L-51.55,0.67 L-51.33,0.34 L-51.17,0.07 L-50.9,-0.15 L-50.57,-0.43 L-50.24,-0.75 L-50,-1.03" vector-effect="non-scaling-stroke"/>
<path d="M-52.65,1.6 L-52.1,1.5 L-51.66,1.43 L-51.23,1.05 L-50.9,0.72 L-50.57,0.45 L-50,0.12" vector-effect="non-scaling-stroke"/>
<path d="M-51.23,0.12 L-50.9,0.01 L-50.46,-0.04 L-50,-0.1" vector-effect="non-scaling-stroke"/>
<path d="M-50.9,0.67 L-50.79,1.05 L-50.68,1.65 L-50.46,1.87 L-50.24,1.76 L-50,1.65" vector-effect="non-scaling-stroke"/>
<path d="M-51,-0 L-50.5,-0.25 L-50,-0.55" vector-effect="non-scaling-stroke"/>
<path d="M-50.7,1.2 L-50.4,1.1 L-50,1" vector-effect="non-scaling-stroke"/>
<path d="M-52.5,1.5 L-52.3,1.62 L-52.1,1.55" vector-effect="non-scaling-stroke"/>
</g>
<g fill="none" stroke="#222" stroke-width="0.6" vector-effect="non-scaling-stroke" stroke-linejoin="round">
<path d="M-85.02,-14.8 L-84.5,-14.62 L-84,-14.75 L-83.5,-14.92 L-83.21,-15.03" vector-effect="non-scaling-stroke"/>
<path d="M-85.02,-11.1 L-84.6,-11.1 L-84.15,-10.84 L-83.9,-10.8 L-83.7,-10.93" vector-effect="non-scaling-stroke"/>
<path d="M-82.55,-9.55 L-82.95,-9.47 L-82.8,-9 L-82.91,-8.52 L-82.91,-8.14" vector-effect="non-scaling-stroke"/>
<path d="M-77.37,-8.67 L-77.35,-8.4 L-77.26,-7.94 L-77.34,-7.7 L-77.71,-7.54 L-77.9,-7.2" vector-effect="non-scaling-stroke"/>
<path d="M-71.96,-11.53 L-72.22,-11.14 L-72.71,-10.32 L-73.04,-9.66 L-73.29,-9.17 L-72.88,-9.01 L-72.63,-8.68 L-72.47,-8.19 L-72.39,-7.7 L-72.47,-7.37 L-72.14,-7.2 L-71.81,-7.04 L-71.2,-7 L-70.6,-7.05 L-70.1,-6.95 L-69.6,-6.2 L-69.1,-6.2 L-68.6,-6.2 L-67.9,-6.2 L-67.45,-6.15 L-67.6,-5.7 L-67.8,-5.3 L-67.8,-4.67 L-67.72,-3.99 L-67.29,-3.48 L-67.55,-3.1 L-67.8,-2.79 L-67.29,-2.28 L-67.03,-1.42 L-66.87,-1.22" vector-effect="non-scaling-stroke"/>
<path d="M-66.87,-1.22 L-67.2,-1.6 L-67.8,-1.76 L-69.86,-1.68 L-69.86,-1.2 L-69.26,-0.95 L-69.5,-0.65 L-69.95,-0.57 L-70.03,0.12 L-69.52,0.63 L-69.43,1.32 L-69.69,2.69 L-69.86,4.06 L-70.03,4.32" vector-effect="non-scaling-stroke"/>
<path d="M-70.03,4.32 L-70.63,3.72 L-70.12,2.86 L-70.29,2.6 L-70.8,2.35 L-71.83,2.17 L-72.26,2.43 L-73.03,2.35 L-73.63,1.32 L-74.31,0.72 L-74.83,0.29 L-75.26,0.1" vector-effect="non-scaling-stroke"/>
<path d="M-78.87,-1.35 L-78.41,-0.95 L-77.83,-0.72 L-77.48,-0.37 L-76.78,-0.25 L-76.2,-0.3 L-75.73,-0.14 L-75.26,0.1" vector-effect="non-scaling-stroke"/>
<path d="M-75.26,0.1 L-75.34,0.96 L-75.69,1.77 L-76.39,2.36 L-77.33,2.82 L-78.03,3.41 L-78.38,3.87 L-78.61,4.46 L-79.19,4.92 L-79.8,4.6 L-80.48,4.34 L-80.45,3.8 L-80.3,3.45" vector-effect="non-scaling-stroke"/>
<path d="M-70.03,4.32 L-70.72,4.32 L-72.09,4.74 L-72.94,5.34 L-73.11,6.28 L-73.63,6.8 L-73.97,7.48 L-73.63,8.34 L-73.11,9.02 L-72.94,9.54 L-72.26,9.97 L-71.3,10.05" vector-effect="non-scaling-stroke"/>
<path d="M-71.2,10.2 L-70.9,9.9 L-70.6,9.7" vector-effect="non-scaling-stroke"/>
<path d="M-66.8,10.2 L-66.6,9.95 L-65.9,9.85" vector-effect="non-scaling-stroke"/>
<path d="M-66.87,-1.22 L-66.43,-0.74 L-65.58,-0.74 L-64.89,-1.25 L-64.04,-1.59 L-63.52,-2.11 L-63.44,-2.28 L-64.21,-2.62 L-64.38,-3.48 L-64.55,-3.99 L-63.87,-3.99 L-63.01,-3.73 L-61.81,-4.33 L-60.85,-4.67 L-60.74,-5.2" vector-effect="non-scaling-stroke"/>
<path d="M-60.74,-5.2 L-61.2,-5.6 L-61.2,-6.61 L-60.55,-6.78 L-60.39,-7.11 L-60.63,-7.43 L-60.55,-7.76 L-60.22,-8.09 L-59.89,-8.34" vector-effect="non-scaling-stroke"/>
<path d="M-60.74,-5.2 L-60.35,-5.27 L-60.12,-4.92 L-59.88,-4.33 L-59.65,-3.87 L-59.88,-3.28 L-60,-2.82 L-59.88,-2.24 L-59.65,-1.89 L-59.06,-1.3 L-58.6,-1.3 L-58.13,-1.65 L-57.43,-1.89 L-56.55,-1.89" vector-effect="non-scaling-stroke"/>
<path d="M-57.13,-5.91 L-57.37,-5.03 L-57.78,-4.92 L-58.07,-4.1 L-57.66,-3.34 L-57.25,-3.23 L-57.13,-2.7 L-56.84,-2.24 L-56.55,-1.89" vector-effect="non-scaling-stroke"/>
<path d="M-56.55,-1.89 L-56.02,-1.83 L-56.02,-2.35 L-55.44,-2.47 L-54.97,-2.45 L-54.5,-2.29 L-54.09,-2.12" vector-effect="non-scaling-stroke"/>
<path d="M-54.04,-5.73 L-54.39,-4.92 L-54.44,-4.33 L-54.04,-3.52 L-54.15,-2.93 L-54.44,-2.35 L-54.09,-2.12" vector-effect="non-scaling-stroke"/>
<path d="M-54.09,-2.12 L-53.68,-2.35 L-53.45,-2.06 L-52.98,-2.12 L-52.51,-2.58 L-52.16,-3.17 L-51.81,-3.75 L-51.46,-4.33" vector-effect="non-scaling-stroke"/>
</g>
</svg>
<svg class="map" style="left:46.23px;top:405.10px;width:426.02px;height:352.99px" viewBox="0 0 426.02 352.99">
<circle cx="121.96" cy="106.38" r="3.2" fill="none" stroke="#2323e6" stroke-width="0.9"/>
<circle cx="110.89" cy="121.11" r="6.4" fill="none" stroke="#e62020" stroke-width="0.9"/>
<circle cx="96.52" cy="143.51" r="6.4" fill="none" stroke="#e62020" stroke-width="0.9"/>
<circle cx="100.42" cy="155.19" r="6.4" fill="none" stroke="#e62020" stroke-width="0.9"/>
<circle cx="100.78" cy="160.06" r="6.4" fill="none" stroke="#e62020" stroke-width="0.9"/>
<circle cx="102.61" cy="163.71" r="3.2" fill="none" stroke="#2323e6" stroke-width="0.9"/>
<circle cx="101.03" cy="166.15" r="6.4" fill="none" stroke="#e62020" stroke-width="0.9"/>
<circle cx="101.64" cy="169.19" r="3.2" fill="none" stroke="#2323e6" stroke-width="0.9"/>
<circle cx="102.00" cy="172.23" r="6.4" fill="none" stroke="#e62020" stroke-width="0.9"/>
<circle cx="167.37" cy="127.44" r="6.4" fill="none" stroke="#e62020" stroke-width="0.9"/>
<circle cx="149.72" cy="135.72" r="6.4" fill="none" stroke="#e62020" stroke-width="0.9"/>
<circle cx="133.65" cy="147.89" r="6.4" fill="none" stroke="#e62020" stroke-width="0.9"/>
<circle cx="133.04" cy="150.93" r="6.4" fill="none" stroke="#e62020" stroke-width="0.9"/>
<circle cx="132.55" cy="153.98" r="6.4" fill="none" stroke="#e62020" stroke-width="0.9"/>
<circle cx="132.07" cy="156.41" r="6.4" fill="none" stroke="#e62020" stroke-width="0.9"/>
<circle cx="124.40" cy="167.97" r="6.4" fill="none" stroke="#e62020" stroke-width="0.9"/>
<circle cx="152.39" cy="164.32" r="6.4" fill="none" stroke="#e62020" stroke-width="0.9"/>
<circle cx="154.95" cy="163.71" r="3.2" fill="none" stroke="#2323e6" stroke-width="0.9"/>
<circle cx="162.50" cy="173.82" r="3.2" fill="none" stroke="#2323e6" stroke-width="0.9"/>
<circle cx="155.19" cy="178.20" r="6.4" fill="none" stroke="#e62020" stroke-width="0.9"/>
<circle cx="152.76" cy="177.71" r="6.4" fill="none" stroke="#e62020" stroke-width="0.9"/>
<circle cx="144.73" cy="181.00" r="6.4" fill="none" stroke="#e62020" stroke-width="0.9"/>
<circle cx="141.93" cy="184.77" r="6.4" fill="none" stroke="#e62020" stroke-width="0.9"/>
<circle cx="136.33" cy="195.36" r="6.4" fill="none" stroke="#e62020" stroke-width="0.9"/>
<circle cx="142.41" cy="195.36" r="6.4" fill="none" stroke="#e62020" stroke-width="0.9"/>
<circle cx="148.50" cy="200.35" r="6.4" fill="none" stroke="#e62020" stroke-width="0.9"/>
<circle cx="135.84" cy="204.73" r="6.4" fill="none" stroke="#e62020" stroke-width="0.9"/>
<circle cx="94.33" cy="195.85" r="6.4" fill="none" stroke="#e62020" stroke-width="0.9"/>
<circle cx="175.52" cy="197.43" r="6.4" fill="none" stroke="#e62020" stroke-width="0.9"/>
<circle cx="181.73" cy="161.04" r="6.4" fill="none" stroke="#e62020" stroke-width="0.9"/>
<circle cx="182.34" cy="106.99" r="3.2" fill="none" stroke="#2323e6" stroke-width="0.9"/>
<circle cx="95.92" cy="235.16" r="6.4" fill="none" stroke="#e62020" stroke-width="0.9"/>
<circle cx="160.55" cy="242.95" r="6.4" fill="none" stroke="#e62020" stroke-width="0.9"/>
<circle cx="201.08" cy="156.53" r="3.2" fill="none" stroke="#2323e6" stroke-width="0.9"/>
<circle cx="260.36" cy="132.31" r="3.2" fill="none" stroke="#2323e6" stroke-width="0.9"/>
<circle cx="299.43" cy="154.10" r="6.4" fill="none" stroke="#e62020" stroke-width="0.9"/>
<circle cx="321.71" cy="166.39" r="6.4" fill="none" stroke="#e62020" stroke-width="0.9"/>
<circle cx="325.97" cy="171.99" r="6.4" fill="none" stroke="#e62020" stroke-width="0.9"/>
<circle cx="371.85" cy="170.41" r="6.4" fill="none" stroke="#e62020" stroke-width="0.9"/>
<circle cx="63.78" cy="250.26" r="6.4" fill="none" stroke="#e62020" stroke-width="0.9"/>
<circle cx="181.61" cy="283.61" r="6.4" fill="none" stroke="#e62020" stroke-width="0.9"/>
<circle cx="186.84" cy="188.18" r="6.4" fill="none" stroke="#e62020" stroke-width="0.9"/>
<circle cx="201.08" cy="183.19" r="3.2" fill="none" stroke="#2323e6" stroke-width="0.9"/>
<circle cx="208.14" cy="183.19" r="3.2" fill="none" stroke="#2323e6" stroke-width="0.9"/>
<circle cx="289.21" cy="207.17" r="6.4" fill="none" stroke="#e62020" stroke-width="0.9"/>
<circle cx="245.02" cy="238.57" r="6.4" fill="none" stroke="#e62020" stroke-width="0.9"/>
<circle cx="223.60" cy="253.66" r="6.4" fill="none" stroke="#e62020" stroke-width="0.9"/>
</svg>
<div class="frame" style="left:45.40px;top:403.60px;width:425.50px;height:352.20px"></div>
<div class="yl" style="right:913.8px;top:408.7px">18</div>
<div class="yl" style="right:913.8px;top:481.7px">12</div>
<div class="yl" style="right:913.8px;top:554.7px">6</div>
<div class="yl" style="right:913.8px;top:627.8px">0</div>
<div class="yl" style="right:913.8px;top:700.8px">−6</div>
<div class="xl" style="left:18.4px;top:757.6px">−84</div>
<div class="xl" style="left:91.4px;top:757.6px">−78</div>
<div class="xl" style="left:164.5px;top:757.6px">−72</div>
<div class="xl" style="left:237.5px;top:757.6px">−66</div>
<div class="xl" style="left:310.5px;top:757.6px">−60</div>
<div class="xl" style="left:383.6px;top:757.6px">−54</div>
<div class="pl" style="left:63.7px;top:414.3px">c<span style="margin-left:3px">)</span></div>
<svg class="map" style="left:507.03px;top:405.10px;width:426.02px;height:352.99px" viewBox="-85 -19 35 29" preserveAspectRatio="none">
<defs><mask id="md" maskUnits="userSpaceOnUse" x="-85" y="-19" width="35" height="29">
<path d="M-64.9,-18.4 L-63.05,-18.1 L-62.75,-17.3 L-61.8,-17.1 L-61.55,-16.2 L-61.35,-15.4 L-61,-14.65 L-60.97,-13.9 L-61.2,-13.25 L-61.68,-12.12" fill="none" stroke="#fff" stroke-width="0.5" stroke-linejoin="round" stroke-linecap="round"/>
<path d="M-86,-16 L-85.02,-16 L-84.6,-15.88 L-84.2,-15.75 L-83.9,-15.55 L-83.5,-15.3 L-83.21,-15.03 L-83.26,-14.83 L-83.18,-14.5 L-83.34,-14.09 L-83.5,-13.68 L-83.58,-13.35 L-83.58,-12.86 L-83.67,-12.53 L-83.79,-11.96 L-83.85,-11.47 L-83.73,-11.01 L-83.38,-10.49 L-82.95,-9.98 L-82.53,-9.55 L-82.18,-9.29 L-81.75,-8.95 L-81.41,-8.82 L-80.98,-8.95 L-80.47,-9.21 L-79.96,-9.47 L-79.53,-9.64 L-79.01,-9.47 L-78.5,-9.38 L-77.98,-9.21 L-77.47,-8.78 L-77.15,-8.44 L-76.95,-8.5 L-76.88,-8.2 L-76.85,-7.94 L-76.8,-8.2 L-76.85,-8.55 L-76.57,-8.76 L-76.16,-9.25 L-75.83,-9.5 L-75.66,-9.75 L-75.62,-10.16 L-75.5,-10.57 L-75.09,-10.98 L-74.76,-11.1 L-74.55,-10.95 L-74.35,-11.14 L-74.19,-11.3 L-73.7,-11.26 L-73.29,-11.34 L-72.8,-11.63 L-72.39,-11.88 L-72.16,-12.1 L-71.88,-12.39 L-71.63,-12.43 L-71.3,-12.39 L-71.14,-12.23 L-71.18,-12.02 L-71.39,-11.82 L-71.71,-11.66 L-71.96,-11.53 L-71.85,-11.25 L-71.62,-10.92 L-71.5,-10.95 L-71.14,-11.04 L-70.65,-11.25 L-70.24,-11.53 L-70.28,-11.86 L-70.16,-12.11 L-69.95,-12.11 L-69.83,-11.86 L-69.79,-11.57 L-69.66,-11.49 L-69.25,-11.45 L-68.84,-11.37 L-68.52,-11.2 L-68.35,-10.96 L-68.27,-10.71 L-68.11,-10.51 L-67.7,-10.47 L-67.2,-10.55 L-66.71,-10.59 L-66.12,-10.6 L-65.96,-10.34 L-65.55,-10.18 L-65.06,-10.02 L-64.73,-10.14 L-64.4,-10.34 L-64.16,-10.51 L-63.75,-10.63 L-63.17,-10.67 L-62.68,-10.71 L-62.2,-10.7 L-61.86,-10.7 L-62.3,-10.55 L-62.75,-10.45 L-62.9,-10.2 L-62.6,-10 L-62.35,-9.89 L-61.94,-9.73 L-61.5,-9.5 L-61.04,-9.24 L-60.9,-8.9 L-60.55,-8.58 L-60.06,-8.5 L-59.65,-8.34 L-59.24,-8.13 L-58.95,-7.83 L-58.48,-7.25 L-58.45,-6.9 L-58.13,-6.78 L-57.54,-6.31 L-57.08,-6.02 L-56.49,-5.91 L-55.91,-5.79 L-55.09,-5.85 L-54.5,-5.82 L-53.92,-5.73 L-53.22,-5.5 L-52.75,-5.32 L-52.28,-4.92 L-51.81,-4.57 L-51.46,-4.33 L-51.2,-4.2 L-51.11,-3.87 L-50.88,-3.17 L-50.7,-2.47 L-50.53,-2 L-50.3,-1.85 L-50,-1.77 L-49,-1.77 L-49,11 L-78,11 L-78.2,10 L-78.38,9.59 L-78.61,9.01 L-78.96,8.31 L-79.31,7.72 L-79.66,7.26 L-80.01,6.91 L-80.48,6.56 L-80.94,6.32 L-81.06,5.86 L-80.94,5.39 L-81.18,5.04 L-81.35,4.69 L-81.29,4.22 L-81.06,3.87 L-80.59,3.41 L-80.24,3.06 L-79.85,2.75 L-79.8,2.3 L-79.95,2.15 L-80.2,2.55 L-80.59,2.47 L-80.94,2.24 L-80.85,1.8 L-80.94,1.07 L-80.71,0.84 L-80.42,0.61 L-80.36,0.14 L-80.13,-0.44 L-80.1,-0.72 L-79.81,-0.95 L-79.46,-1.07 L-79.17,-1.4 L-78.93,-1.65 L-78.76,-1.89 L-78.68,-2.19 L-78.27,-2.6 L-77.94,-2.76 L-77.53,-3 L-77.3,-3.4 L-77.12,-3.75 L-77.29,-4.16 L-77.37,-4.57 L-77.53,-5.14 L-77.61,-5.47 L-77.35,-5.75 L-77.37,-6.2 L-77.45,-6.7 L-77.78,-7.11 L-78.11,-7.6 L-78.35,-8 L-78.45,-8.4 L-78.76,-8.83 L-79.09,-9.07 L-79.53,-8.87 L-79.78,-8.61 L-80.13,-8.35 L-80.47,-8.27 L-80.3,-7.9 L-80.04,-7.58 L-80.13,-7.33 L-80.47,-7.24 L-80.9,-7.33 L-81.16,-7.67 L-81.58,-7.84 L-82.01,-8.18 L-82.44,-8.27 L-82.95,-8.18 L-83.21,-8.35 L-83.47,-8.52 L-83.73,-8.78 L-84,-9.15 L-84.33,-9.47 L-84.67,-9.72 L-85.01,-9.98 L-86,-10 Z" fill="#fff" stroke="#fff" stroke-width="0.75" stroke-linejoin="round"/>
<path d="M-78.42,-18.39 L-78.03,-18.49 L-77.41,-18.47 L-76.79,-18.39 L-76.25,-18.08 L-76.41,-17.92 L-77.1,-17.88 L-77.26,-17.72 L-77.57,-17.88 L-78.03,-18 L-78.34,-18.15 Z" fill="#fff" stroke="#fff" stroke-width="0.5" stroke-linejoin="round"/>
<path d="M-74.48,-18.3 L-74.32,-18.62 L-73.7,-18.62 L-73,-18.5 L-72.5,-18.55 L-72.75,-19.1 L-68.6,-19.1 L-68.3,-18.62 L-68.68,-18.15 L-69.1,-18.3 L-69.68,-18.23 L-70.6,-18.23 L-71.1,-18.1 L-71.4,-17.62 L-71.6,-17.65 L-71.8,-18.05 L-72.5,-18.15 L-73.2,-18.15 L-73.7,-18.08 L-74.2,-18.25 Z" fill="#fff" stroke="#fff" stroke-width="0.5" stroke-linejoin="round"/>
<path d="M-73.3,-18.85 L-72.9,-18.75 L-72.8,-18.85 L-73.2,-18.95 Z" fill="#fff" stroke="#fff" stroke-width="0.5" stroke-linejoin="round"/>
<path d="M-67.21,-18.45 L-65.82,-18.44 L-65.59,-18.23 L-65.74,-17.92 L-67.21,-17.88 L-67.29,-18.15 Z" fill="#fff" stroke="#fff" stroke-width="0.5" stroke-linejoin="round"/>
<path d="M-61.7,-10.72 L-60.92,-10.82 L-60.96,-10.12 L-61.45,-10.08 L-61.5,-10.4 L-61.65,-10.6 Z" fill="#fff" stroke="#fff" stroke-width="0.5" stroke-linejoin="round"/>
<path d="M-64.4,-11 L-64.2,-11.12 L-63.85,-11.15 L-63.8,-10.95 L-64,-10.9 L-64.3,-10.88 Z" fill="#fff" stroke="#fff" stroke-width="0.5" stroke-linejoin="round"/>
<path d="M-69.17,-12.38 L-68.95,-12.2 L-68.75,-12.02 L-68.8,-12.05 L-69,-12.2 Z" fill="#fff" stroke="#fff" stroke-width="0.5" stroke-linejoin="round"/>
<path d="M-70.06,-12.62 L-69.88,-12.45 L-69.9,-12.42 L-70.05,-12.55 Z" fill="#fff" stroke="#fff" stroke-width="0.5" stroke-linejoin="round"/>
<path d="M-68.42,-12.3 L-68.2,-12.05 L-68.25,-12.02 L-68.4,-12.2 Z" fill="#fff" stroke="#fff" stroke-width="0.5" stroke-linejoin="round"/>
<path d="M-61.8,-16.3 L-61.55,-16.5 L-61.45,-16.3 L-61.2,-16.25 L-61.55,-16.2 L-61.7,-15.95 L-61.8,-16.1 Z" fill="#fff" stroke="#fff" stroke-width="0.5" stroke-linejoin="round"/>
<ellipse cx="-61.35" cy="-15.4" rx="0.1" ry="0.22" fill="#fff" stroke="#fff" stroke-width="0.5"/>
<ellipse cx="-61" cy="-14.65" rx="0.13" ry="0.22" fill="#fff" stroke="#fff" stroke-width="0.5"/>
<ellipse cx="-60.97" cy="-13.9" rx="0.08" ry="0.18" fill="#fff" stroke="#fff" stroke-width="0.5"/>
<ellipse cx="-61.2" cy="-13.25" rx="0.07" ry="0.13" fill="#fff" stroke="#fff" stroke-width="0.5"/>
<ellipse cx="-61.68" cy="-12.12" rx="0.08" ry="0.1" fill="#fff" stroke="#fff" stroke-width="0.5"/>
<ellipse cx="-59.55" cy="-13.17" rx="0.1" ry="0.14" fill="#fff" stroke="#fff" stroke-width="0.5"/>
<ellipse cx="-60.65" cy="-11.22" rx="0.18" ry="0.07" fill="#fff" stroke="#fff" stroke-width="0.5"/>
<ellipse cx="-61.8" cy="-17.08" rx="0.12" ry="0.08" fill="#fff" stroke="#fff" stroke-width="0.5"/>
<ellipse cx="-61.8" cy="-17.63" rx="0.08" ry="0.08" fill="#fff" stroke="#fff" stroke-width="0.3"/>
<ellipse cx="-62.2" cy="-16.75" rx="0.05" ry="0.07" fill="#fff" stroke="#fff" stroke-width="0.3"/>
<ellipse cx="-62.7" cy="-17.25" rx="0.1" ry="0.1" fill="#fff" stroke="#fff" stroke-width="0.5"/>
<ellipse cx="-62.98" cy="-17.5" rx="0.03" ry="0.03" fill="#fff" stroke="#fff" stroke-width="0.3"/>
<ellipse cx="-63.23" cy="-17.63" rx="0.03" ry="0.03" fill="#fff" stroke="#fff" stroke-width="0.3"/>
<ellipse cx="-63.05" cy="-18.05" rx="0.08" ry="0.06" fill="#fff" stroke="#fff" stroke-width="0.3"/>
<ellipse cx="-63.05" cy="-18.2" rx="0.1" ry="0.04" fill="#fff" stroke="#fff" stroke-width="0.5"/>
<ellipse cx="-62.85" cy="-17.9" rx="0.04" ry="0.04" fill="#fff" stroke="#fff" stroke-width="0.3"/>
<ellipse cx="-64.8" cy="-18.35" rx="0.15" ry="0.05" fill="#fff" stroke="#fff" stroke-width="0.5"/>
<ellipse cx="-64.55" cy="-18.45" rx="0.1" ry="0.04" fill="#fff" stroke="#fff" stroke-width="0.5"/>
<ellipse cx="-61.25" cy="-15.95" rx="0.08" ry="0.08" fill="#fff" stroke="#fff" stroke-width="0.3"/>
<ellipse cx="-66.2" cy="-11.8" rx="0.06" ry="0.03" fill="#fff" stroke="#fff" stroke-width="0.3"/>
<ellipse cx="-66.75" cy="-11.85" rx="0.1" ry="0.05" fill="#fff" stroke="#fff" stroke-width="0.5"/>
<ellipse cx="-64.6" cy="-11.85" rx="0.05" ry="0.04" fill="#fff" stroke="#fff" stroke-width="0.3"/>
<ellipse cx="-65.34" cy="-10.92" rx="0.1" ry="0.04" fill="#fff" stroke="#fff" stroke-width="0.5"/>
<ellipse cx="-63.1" cy="-11.4" rx="0.03" ry="0.03" fill="#fff" stroke="#fff" stroke-width="0.3"/>
<ellipse cx="-67.7" cy="-11.98" rx="0.05" ry="0.03" fill="#fff" stroke="#fff" stroke-width="0.3"/>
<ellipse cx="-81.4" cy="-13.35" rx="0.05" ry="0.06" fill="#fff" stroke="#fff" stroke-width="0.3"/>
<ellipse cx="-81.72" cy="-12.55" rx="0.04" ry="0.07" fill="#fff" stroke="#fff" stroke-width="0.3"/>
<ellipse cx="-83.05" cy="-12.17" rx="0.05" ry="0.04" fill="#fff" stroke="#fff" stroke-width="0.3"/>
<ellipse cx="-82.77" cy="-14.38" rx="0.05" ry="0.05" fill="#fff" stroke="#fff" stroke-width="0.3"/>
<ellipse cx="-80.14" cy="-13.56" rx="0.03" ry="0.03" fill="#fff" stroke="#fff" stroke-width="0.3"/>
<ellipse cx="-81.67" cy="-3.98" rx="0.04" ry="0.04" fill="#fff" stroke="#fff" stroke-width="0.3"/>
<ellipse cx="-75" cy="-18.4" rx="0.03" ry="0.03" fill="#fff" stroke="#fff" stroke-width="0.3"/>
<ellipse cx="-68.9" cy="-18.15" rx="0.08" ry="0.04" fill="#fff" stroke="#fff" stroke-width="0.3"/>
<ellipse cx="-67.85" cy="-18.1" rx="0.05" ry="0.03" fill="#fff" stroke="#fff" stroke-width="0.3"/>
<ellipse cx="-63.6" cy="-15.7" rx="0.02" ry="0.02" fill="#fff" stroke="#fff" stroke-width="0.3"/>
<ellipse cx="-61.6" cy="-12.6" rx="0.05" ry="0.1" fill="#fff" stroke="#fff" stroke-width="0.5"/>
<ellipse cx="-61.3" cy="-12.9" rx="0.04" ry="0.08" fill="#fff" stroke="#fff" stroke-width="0.3"/>
</mask></defs>
<g mask="url(#md)">
<rect x="-85" y="-19" width="35" height="29" fill="#e6e6ff"/>
<path d="M-74.5,-6.5 C-74.28,-6.877 -73.113,-6.5 -72.42,-6.5 C-71.727,-6.5 -71.033,-6.5 -70.34,-6.5 C-69.647,-6.5 -68.953,-6.5 -68.26,-6.5 C-67.567,-6.5 -66.527,-6.826 -66.18,-6.5 C-65.833,-6.174 -66.18,-5.198 -66.18,-4.547 C-66.18,-3.896 -66.18,-3.244 -66.18,-2.593 C-66.18,-1.942 -66.042,-0.966 -66.18,-0.64 C-66.318,-0.314 -66.695,-0.608 -67.01,-0.64 C-67.325,-0.672 -67.737,-0.83 -68.07,-0.83 C-68.403,-0.83 -68.695,-0.703 -69.01,-0.64 C-69.325,-0.577 -69.675,-0.512 -69.96,-0.45 C-70.245,-0.388 -70.405,-0.238 -70.72,-0.27 C-71.035,-0.302 -71.535,-0.64 -71.85,-0.64 C-72.165,-0.64 -72.358,-0.49 -72.61,-0.27 C-72.862,-0.05 -73.108,0.522 -73.36,0.68 C-73.612,0.838 -73.867,0.775 -74.12,0.68 C-74.373,0.585 -74.628,0.362 -74.88,0.11 C-75.132,-0.142 -75.568,-0.547 -75.63,-0.83 C-75.692,-1.113 -75.438,-1.368 -75.25,-1.59 C-75.062,-1.812 -74.688,-1.908 -74.5,-2.16 C-74.312,-2.412 -74.247,-2.753 -74.12,-3.1 C-73.993,-3.447 -73.677,-3.673 -73.74,-4.24 C-73.803,-4.807 -74.72,-6.123 -74.5,-6.5 Z" fill="#ffe6e6"/>
<path d="M-69.72,-6.5 C-69.342,-6.815 -68.208,-6.5 -67.453,-6.5 C-66.697,-6.5 -65.941,-6.5 -65.185,-6.5 C-64.429,-6.5 -63.673,-6.5 -62.917,-6.5 C-62.162,-6.5 -61.025,-6.717 -60.65,-6.5 C-60.275,-6.283 -60.92,-5.555 -60.67,-5.2 C-60.42,-4.845 -59.588,-4.483 -59.15,-4.37 C-58.712,-4.257 -58.387,-4.428 -58.04,-4.52 C-57.693,-4.612 -57.392,-4.807 -57.07,-4.92 C-56.748,-5.033 -56.383,-5.223 -56.11,-5.2 C-55.837,-5.177 -55.635,-5.032 -55.43,-4.78 C-55.225,-4.528 -54.972,-4.01 -54.88,-3.69 C-54.788,-3.37 -54.833,-3.182 -54.88,-2.86 C-54.927,-2.538 -55.252,-2.035 -55.16,-1.76 C-55.068,-1.485 -54.512,-1.415 -54.33,-1.21 C-54.148,-1.005 -53.978,-0.798 -54.07,-0.53 C-54.162,-0.262 -54.667,0.135 -54.88,0.4 C-55.093,0.665 -55.333,0.762 -55.35,1.06 C-55.367,1.358 -54.917,2.033 -54.98,2.19 C-55.043,2.347 -55.51,2.157 -55.73,2 C-55.95,1.843 -56.173,1.533 -56.3,1.25 C-56.427,0.967 -56.333,0.583 -56.49,0.3 C-56.647,0.017 -56.925,-0.262 -57.24,-0.45 C-57.555,-0.638 -58.063,-0.798 -58.38,-0.83 C-58.697,-0.862 -58.888,-0.765 -59.14,-0.64 C-59.392,-0.515 -59.638,-0.237 -59.89,-0.08 C-60.142,0.077 -60.398,0.173 -60.65,0.3 C-60.902,0.427 -61.148,0.585 -61.4,0.68 C-61.652,0.775 -61.907,0.87 -62.16,0.87 C-62.413,0.87 -62.668,0.743 -62.92,0.68 C-63.172,0.617 -63.418,0.553 -63.67,0.49 C-63.922,0.427 -64.177,0.363 -64.43,0.3 C-64.683,0.237 -64.938,0.078 -65.19,0.11 C-65.442,0.142 -65.72,0.363 -65.94,0.49 C-66.16,0.617 -66.383,0.87 -66.51,0.87 C-66.637,0.87 -66.795,0.71 -66.7,0.49 C-66.605,0.27 -65.94,-0.262 -65.94,-0.45 C-65.94,-0.638 -66.322,-0.593 -66.7,-0.64 C-67.078,-0.688 -67.707,-0.703 -68.21,-0.735 C-68.713,-0.767 -69.468,-0.499 -69.72,-0.83 C-69.972,-1.161 -69.72,-2.09 -69.72,-2.72 C-69.72,-3.35 -69.72,-3.98 -69.72,-4.61 C-69.72,-5.24 -70.098,-6.185 -69.72,-6.5 Z" fill="#ffe6e6"/>
<path d="M-69.72,-10.58 C-69.327,-10.919 -68.147,-10.517 -67.36,-10.485 C-66.573,-10.453 -65.647,-10.438 -65,-10.39 C-64.353,-10.343 -63.827,-10.388 -63.48,-10.2 C-63.133,-10.012 -63.14,-9.607 -62.92,-9.26 C-62.7,-8.913 -62.413,-8.435 -62.16,-8.12 C-61.907,-7.805 -61.527,-7.747 -61.4,-7.37 C-61.273,-6.993 -61.462,-6.302 -61.4,-5.86 C-61.338,-5.418 -61.123,-5.131 -61.03,-4.72 C-60.937,-4.309 -60.903,-3.837 -60.84,-3.395 C-60.777,-2.953 -60.304,-2.291 -60.65,-2.07 C-60.996,-1.849 -62.162,-2.07 -62.917,-2.07 C-63.673,-2.07 -64.429,-2.07 -65.185,-2.07 C-65.941,-2.07 -66.697,-2.07 -67.453,-2.07 C-68.208,-2.07 -69.342,-1.715 -69.72,-2.07 C-70.098,-2.425 -69.72,-3.488 -69.72,-4.197 C-69.72,-4.907 -69.72,-5.616 -69.72,-6.325 C-69.72,-7.034 -69.72,-7.743 -69.72,-8.453 C-69.72,-9.162 -70.113,-10.241 -69.72,-10.58 Z" fill="#ffe6e6"/>
<path d="M-73.74,11.65 C-74.055,11.334 -73.74,10.387 -73.74,9.755 C-73.74,9.123 -73.897,8.301 -73.74,7.86 C-73.583,7.419 -73.115,7.298 -72.8,7.11 C-72.485,6.922 -72.197,6.793 -71.85,6.73 C-71.503,6.667 -71.098,6.793 -70.72,6.73 C-70.342,6.667 -69.958,6.445 -69.58,6.35 C-69.202,6.255 -69.017,6.223 -68.45,6.16 C-67.883,6.097 -66.558,5.686 -66.18,5.97 C-65.802,6.254 -66.18,7.232 -66.18,7.863 C-66.18,8.494 -66.18,9.126 -66.18,9.757 C-66.18,10.388 -65.865,11.334 -66.18,11.65 C-66.495,11.966 -67.44,11.65 -68.07,11.65 C-68.7,11.65 -69.33,11.65 -69.96,11.65 C-70.59,11.65 -71.22,11.65 -71.85,11.65 C-72.48,11.65 -73.425,11.966 -73.74,11.65 Z" fill="#b2b2ff"/>
<path d="M-69.72,6.35 C-69.405,6.056 -68.27,6.287 -67.83,6.35 C-67.39,6.413 -67.395,6.603 -67.08,6.73 C-66.765,6.857 -66.318,6.983 -65.94,7.11 C-65.562,7.237 -65.188,7.397 -64.81,7.49 C-64.432,7.583 -63.985,7.577 -63.67,7.67 C-63.355,7.763 -63.172,8.018 -62.92,8.05 C-62.668,8.082 -62.475,7.953 -62.16,7.86 C-61.845,7.767 -61.345,7.583 -61.03,7.49 C-60.715,7.397 -60.523,7.363 -60.27,7.3 C-60.017,7.237 -59.762,7.205 -59.51,7.11 C-59.258,7.015 -59.075,6.825 -58.76,6.73 C-58.445,6.635 -57.998,6.603 -57.62,6.54 C-57.242,6.477 -56.837,6.445 -56.49,6.35 C-56.143,6.255 -55.855,6.002 -55.54,5.97 C-55.225,5.938 -54.883,6.033 -54.6,6.16 C-54.317,6.287 -54.092,6.508 -53.84,6.73 C-53.588,6.952 -53.342,7.27 -53.09,7.49 C-52.838,7.71 -52.583,7.957 -52.33,8.05 C-52.077,8.143 -51.822,8.082 -51.57,8.05 C-51.318,8.018 -51.26,7.892 -50.82,7.86 C-50.38,7.828 -49.245,7.544 -48.93,7.86 C-48.615,8.176 -48.93,9.123 -48.93,9.755 C-48.93,10.387 -48.545,11.334 -48.93,11.65 C-49.315,11.966 -50.47,11.65 -51.24,11.65 C-52.01,11.65 -52.78,11.65 -53.55,11.65 C-54.32,11.65 -55.09,11.65 -55.86,11.65 C-56.63,11.65 -57.4,11.65 -58.17,11.65 C-58.94,11.65 -59.71,11.65 -60.48,11.65 C-61.25,11.65 -62.02,11.65 -62.79,11.65 C-63.56,11.65 -64.33,11.65 -65.1,11.65 C-65.87,11.65 -66.64,11.65 -67.41,11.65 C-68.18,11.65 -69.335,11.944 -69.72,11.65 C-70.105,11.356 -69.72,10.472 -69.72,9.883 C-69.72,9.294 -69.72,8.706 -69.72,8.117 C-69.72,7.528 -70.035,6.644 -69.72,6.35 Z" fill="#b2b2ff"/>
<path d="M-85.46,-15.88 C-85.208,-16.164 -84.328,-15.975 -83.95,-15.88 C-83.572,-15.785 -83.378,-15.563 -83.19,-15.31 C-83.002,-15.057 -82.803,-14.58 -82.82,-14.36 C-82.837,-14.14 -83.18,-14.242 -83.29,-13.99 C-83.4,-13.738 -83.433,-13.26 -83.48,-12.85 C-83.527,-12.44 -83.538,-11.877 -83.57,-11.53 C-83.602,-11.183 -83.355,-10.897 -83.67,-10.77 C-83.985,-10.643 -85.162,-10.486 -85.46,-10.77 C-85.758,-11.054 -85.46,-11.906 -85.46,-12.473 C-85.46,-13.041 -85.46,-13.609 -85.46,-14.177 C-85.46,-14.744 -85.712,-15.596 -85.46,-15.88 Z" fill="#ffe6e6"/>
<path d="M-85.46,-10.02 C-85.272,-10.21 -84.708,-9.798 -84.33,-9.64 C-83.952,-9.482 -83.537,-9.26 -83.19,-9.07 C-82.843,-8.88 -82.565,-8.658 -82.25,-8.5 C-81.935,-8.342 -81.647,-8.245 -81.3,-8.12 C-80.953,-7.995 -80.485,-7.718 -80.17,-7.75 C-79.855,-7.782 -79.662,-8.122 -79.41,-8.31 C-79.158,-8.498 -78.912,-8.785 -78.66,-8.88 C-78.408,-8.975 -78.122,-8.975 -77.9,-8.88 C-77.678,-8.785 -77.457,-8.562 -77.33,-8.31 C-77.203,-8.058 -77.045,-7.59 -77.14,-7.37 C-77.235,-7.15 -77.522,-7.053 -77.9,-6.99 C-78.278,-6.927 -79,-7.022 -79.41,-6.99 C-79.82,-6.958 -79.95,-6.832 -80.36,-6.8 C-80.77,-6.768 -81.398,-6.705 -81.87,-6.8 C-82.342,-6.895 -82.78,-7.18 -83.19,-7.37 C-83.6,-7.56 -83.952,-7.752 -84.33,-7.94 C-84.708,-8.128 -85.272,-8.153 -85.46,-8.5 C-85.648,-8.847 -85.648,-9.83 -85.46,-10.02 Z" fill="#ffe6e6"/>
<path d="M-84.33,-10.58 C-84.203,-10.627 -83.822,-10.425 -83.57,-10.3 C-83.318,-10.175 -83.072,-9.972 -82.82,-9.83 C-82.568,-9.688 -82.313,-9.562 -82.06,-9.45 C-81.807,-9.338 -81.552,-9.238 -81.3,-9.16 C-81.048,-9.082 -80.643,-9.073 -80.55,-8.98 C-80.457,-8.887 -80.552,-8.632 -80.74,-8.6 C-80.928,-8.568 -81.365,-8.712 -81.68,-8.79 C-81.995,-8.868 -82.315,-8.945 -82.63,-9.07 C-82.945,-9.195 -83.287,-9.382 -83.57,-9.54 C-83.853,-9.698 -84.203,-9.847 -84.33,-10.02 C-84.457,-10.193 -84.457,-10.533 -84.33,-10.58 Z" fill="#b2b2ff"/>
<path d="M-76.77,-7.75 C-76.707,-8.16 -76.453,-8.757 -76.2,-9.26 C-75.947,-9.763 -75.597,-10.455 -75.25,-10.77 C-74.903,-11.085 -74.498,-11.023 -74.12,-11.15 C-73.742,-11.277 -73.232,-11.53 -72.98,-11.53 C-72.728,-11.53 -72.578,-11.372 -72.61,-11.15 C-72.642,-10.928 -73.013,-10.578 -73.17,-10.2 C-73.327,-9.822 -73.455,-9.288 -73.55,-8.88 C-73.645,-8.472 -73.582,-8.065 -73.74,-7.75 C-73.898,-7.435 -74.248,-7.18 -74.5,-6.99 C-74.752,-6.8 -74.998,-6.737 -75.25,-6.61 C-75.502,-6.483 -75.788,-6.198 -76.01,-6.23 C-76.232,-6.262 -76.453,-6.547 -76.58,-6.8 C-76.707,-7.053 -76.833,-7.34 -76.77,-7.75 Z" fill="#ffe6e6"/>
<path d="M-71.09,-10.2 C-70.963,-10.578 -70.4,-10.707 -69.96,-10.77 C-69.52,-10.833 -68.942,-10.612 -68.45,-10.58 C-67.958,-10.548 -67.25,-10.966 -67.01,-10.58 C-66.77,-10.194 -67.01,-9.038 -67.01,-8.267 C-67.01,-7.496 -67.01,-6.724 -67.01,-5.953 C-67.01,-5.182 -66.636,-4.026 -67.01,-3.64 C-67.384,-3.254 -68.506,-3.64 -69.253,-3.64 C-70.001,-3.64 -70.749,-3.64 -71.497,-3.64 C-72.244,-3.64 -73.429,-3.397 -73.74,-3.64 C-74.051,-3.883 -73.548,-4.668 -73.36,-5.1 C-73.172,-5.532 -72.862,-5.915 -72.61,-6.23 C-72.358,-6.545 -72.103,-6.737 -71.85,-6.99 C-71.597,-7.243 -71.278,-7.498 -71.09,-7.75 C-70.902,-8.002 -70.72,-8.092 -70.72,-8.5 C-70.72,-8.908 -71.217,-9.822 -71.09,-10.2 Z" fill="#ffe6e6"/>
<path d="M-71.47,-7.75 C-71.313,-8.065 -70.75,-8.185 -70.34,-8.31 C-69.93,-8.435 -69.565,-8.468 -69.01,-8.5 C-68.455,-8.532 -67.343,-8.72 -67.01,-8.5 C-66.677,-8.28 -67.01,-7.62 -67.01,-7.18 C-67.01,-6.74 -66.833,-6.048 -67.01,-5.86 C-67.187,-5.672 -67.737,-6.113 -68.07,-6.05 C-68.403,-5.987 -68.695,-5.638 -69.01,-5.48 C-69.325,-5.322 -69.675,-5.1 -69.96,-5.1 C-70.245,-5.1 -70.5,-5.26 -70.72,-5.48 C-70.94,-5.7 -71.155,-6.042 -71.28,-6.42 C-71.405,-6.798 -71.627,-7.435 -71.47,-7.75 Z" fill="#ffb2b2"/>
<path d="M-71.85,-9.35 C-71.738,-9.507 -71.295,-9.587 -71.09,-9.54 C-70.885,-9.493 -70.635,-9.243 -70.62,-9.07 C-70.605,-8.897 -70.81,-8.578 -71,-8.5 C-71.19,-8.422 -71.618,-8.458 -71.76,-8.6 C-71.902,-8.742 -71.962,-9.193 -71.85,-9.35 Z" fill="#b2b2ff"/>
<path d="M-71.66,-9.26 C-71.58,-9.353 -71.2,-9.413 -71.09,-9.35 C-70.98,-9.287 -70.92,-8.973 -71,-8.88 C-71.08,-8.787 -71.46,-8.727 -71.57,-8.79 C-71.68,-8.853 -71.74,-9.167 -71.66,-9.26 Z" fill="#8080ff"/>
<path d="M-72.98,-8.22 C-72.853,-8.347 -72.102,-8.457 -71.85,-8.41 C-71.598,-8.363 -71.343,-8.067 -71.47,-7.94 C-71.597,-7.813 -72.358,-7.603 -72.61,-7.65 C-72.862,-7.697 -73.107,-8.093 -72.98,-8.22 Z" fill="#b2b2ff"/>
<path d="M-61.59,-10.02 C-61.465,-10.02 -61.123,-9.513 -60.84,-9.26 C-60.557,-9.007 -60.237,-8.752 -59.89,-8.5 C-59.543,-8.248 -59.012,-8.002 -58.76,-7.75 C-58.508,-7.498 -58.348,-7.117 -58.38,-6.99 C-58.412,-6.863 -58.698,-6.863 -58.95,-6.99 C-59.202,-7.117 -59.543,-7.498 -59.89,-7.75 C-60.237,-8.002 -60.747,-8.248 -61.03,-8.5 C-61.313,-8.752 -61.497,-9.007 -61.59,-9.26 C-61.683,-9.513 -61.715,-10.02 -61.59,-10.02 Z" fill="#b2b2ff"/>
<path d="M-53.46,-6.05 C-53.272,-6.018 -52.677,-5.702 -52.33,-5.48 C-51.983,-5.258 -51.6,-4.972 -51.38,-4.72 C-51.16,-4.468 -50.978,-4.095 -51.01,-3.97 C-51.042,-3.845 -51.287,-3.782 -51.57,-3.97 C-51.853,-4.158 -52.395,-4.817 -52.71,-5.1 C-53.025,-5.383 -53.335,-5.512 -53.46,-5.67 C-53.585,-5.828 -53.648,-6.082 -53.46,-6.05 Z" fill="#b2b2ff"/>
<path d="M-67.83,-7.94 C-67.642,-8.302 -67.11,-8.062 -66.7,-8.03 C-66.29,-7.998 -65.592,-8.112 -65.37,-7.75 C-65.148,-7.388 -65.148,-6.192 -65.37,-5.86 C-65.592,-5.528 -66.29,-5.76 -66.7,-5.76 C-67.11,-5.76 -67.642,-5.497 -67.83,-5.86 C-68.018,-6.223 -68.018,-7.578 -67.83,-7.94 Z" fill="#ffb2b2"/>
<path d="M-66.74,-7.03 C-66.677,-7.113 -66.397,-7.14 -66.32,-7.07 C-66.243,-7 -66.217,-6.693 -66.28,-6.61 C-66.343,-6.527 -66.623,-6.5 -66.7,-6.57 C-66.777,-6.64 -66.803,-6.947 -66.74,-7.03 Z" fill="#ff7e7e"/>
<path d="M-65,-7.37 C-64.848,-7.44 -64.208,-7.433 -64.05,-7.37 C-63.892,-7.307 -63.898,-7.06 -64.05,-6.99 C-64.202,-6.92 -64.802,-6.887 -64.96,-6.95 C-65.118,-7.013 -65.152,-7.3 -65,-7.37 Z" fill="#ffb2b2"/>
<path d="M-64.81,-6.52 C-64.606,-6.717 -63.927,-6.55 -63.485,-6.565 C-63.043,-6.58 -62.381,-6.791 -62.16,-6.61 C-61.939,-6.429 -61.947,-5.677 -62.16,-5.48 C-62.372,-5.283 -63.01,-5.447 -63.435,-5.43 C-63.86,-5.413 -64.481,-5.198 -64.71,-5.38 C-64.939,-5.562 -65.014,-6.322 -64.81,-6.52 Z" fill="#ffb2b2"/>
<path d="M-67.83,-5.48 C-67.61,-5.732 -66.95,-5.48 -66.51,-5.48 C-66.07,-5.48 -65.41,-5.732 -65.19,-5.48 C-64.97,-5.228 -64.97,-4.222 -65.19,-3.97 C-65.41,-3.718 -66.07,-3.97 -66.51,-3.97 C-66.95,-3.97 -67.61,-3.718 -67.83,-3.97 C-68.05,-4.222 -68.05,-5.228 -67.83,-5.48 Z" fill="#ffb2b2"/>
<path d="M-57.24,-5.01 C-56.925,-5.253 -55.68,-5.328 -55.35,-5.1 C-55.02,-4.872 -54.945,-3.883 -55.26,-3.64 C-55.575,-3.397 -56.91,-3.412 -57.24,-3.64 C-57.57,-3.868 -57.555,-4.767 -57.24,-5.01 Z" fill="#ffe6e6"/>
<path d="M-81.3,4.46 C-81.238,4.208 -80.928,4.333 -80.74,4.46 C-80.552,4.587 -80.392,4.905 -80.17,5.22 C-79.948,5.535 -79.662,5.972 -79.41,6.35 C-79.158,6.728 -78.912,7.048 -78.66,7.49 C-78.408,7.932 -78.027,8.568 -77.9,9 C-77.773,9.432 -77.773,9.9 -77.9,10.08 C-78.027,10.26 -78.408,10.323 -78.66,10.08 C-78.912,9.837 -79.127,9.115 -79.41,8.62 C-79.693,8.125 -80.077,7.552 -80.36,7.11 C-80.643,6.668 -80.953,6.412 -81.11,5.97 C-81.267,5.528 -81.362,4.712 -81.3,4.46 Z" fill="#ffe6e6"/>
<path d="M-77.9,-1.59 C-77.727,-1.858 -77.022,-1.875 -76.77,-1.78 C-76.518,-1.685 -76.328,-1.272 -76.39,-1.02 C-76.452,-0.768 -76.903,-0.412 -77.14,-0.27 C-77.377,-0.128 -77.683,0.05 -77.81,-0.17 C-77.937,-0.39 -78.073,-1.322 -77.9,-1.59 Z" fill="#8080ff"/>
<path d="M-78.47,1.81 C-78.382,1.613 -78.002,1.62 -77.9,1.81 C-77.798,2 -77.772,2.753 -77.86,2.95 C-77.948,3.147 -78.328,3.18 -78.43,2.99 C-78.532,2.8 -78.558,2.007 -78.47,1.81 Z" fill="#8080ff"/>
<path d="M-79.19,1.91 C-79.145,1.818 -78.937,1.825 -78.88,1.91 C-78.823,1.995 -78.805,2.328 -78.85,2.42 C-78.895,2.512 -79.093,2.545 -79.15,2.46 C-79.207,2.375 -79.235,2.002 -79.19,1.91 Z" fill="#ff4c4c"/>
<path d="M-78.43,-1.06 C-78.373,-1.103 -78.147,-1.103 -78.09,-1.06 C-78.033,-1.017 -78.033,-0.843 -78.09,-0.8 C-78.147,-0.757 -78.373,-0.757 -78.43,-0.8 C-78.487,-0.843 -78.487,-1.017 -78.43,-1.06 Z" fill="#ff7e7e"/>
<path d="M-77.71,6.73 C-77.63,6.51 -77.36,6.477 -77.14,6.54 C-76.92,6.603 -76.642,6.89 -76.39,7.11 C-76.138,7.33 -75.882,7.545 -75.63,7.86 C-75.378,8.175 -75.068,8.63 -74.88,9 C-74.692,9.37 -74.248,9.9 -74.5,10.08 C-74.752,10.26 -75.95,10.323 -76.39,10.08 C-76.83,9.837 -76.935,8.99 -77.14,8.62 C-77.345,8.25 -77.525,8.175 -77.62,7.86 C-77.715,7.545 -77.79,6.95 -77.71,6.73 Z" fill="#b2b2ff"/>
<path d="M-77.52,6.73 C-77.457,6.542 -77.107,6.542 -76.95,6.73 C-76.793,6.918 -76.61,7.577 -76.58,7.86 C-76.55,8.143 -76.645,8.43 -76.77,8.43 C-76.895,8.43 -77.205,8.143 -77.33,7.86 C-77.455,7.577 -77.583,6.918 -77.52,6.73 Z" fill="#8080ff"/>
<path d="M-77.14,7.67 C-77.093,7.558 -76.848,7.558 -76.77,7.67 C-76.692,7.782 -76.623,8.228 -76.67,8.34 C-76.717,8.452 -76.972,8.452 -77.05,8.34 C-77.128,8.228 -77.187,7.782 -77.14,7.67 Z" fill="#4c4cff"/>
<path d="M-77.71,4.46 C-77.568,4.225 -76.943,4.308 -76.77,4.56 C-76.597,4.812 -76.528,5.735 -76.67,5.97 C-76.812,6.205 -77.447,6.222 -77.62,5.97 C-77.793,5.718 -77.852,4.695 -77.71,4.46 Z" fill="#b2b2ff"/>
<path d="M-76.39,5.78 C-76.092,5.622 -74.815,5.622 -74.5,5.78 C-74.185,5.938 -74.202,6.572 -74.5,6.73 C-74.798,6.888 -75.975,6.888 -76.29,6.73 C-76.605,6.572 -76.688,5.938 -76.39,5.78 Z" fill="#b2b2ff"/>
<path d="M-78.85,4.27 C-78.698,4.112 -78.058,4.112 -77.9,4.27 C-77.742,4.428 -77.748,5.062 -77.9,5.22 C-78.052,5.378 -78.652,5.378 -78.81,5.22 C-78.968,5.062 -79.002,4.428 -78.85,4.27 Z" fill="#b2b2ff"/>
<path d="M-64.43,-3.86 C-64.21,-4.082 -63.393,-3.923 -63.11,-3.86 C-62.827,-3.797 -62.73,-3.702 -62.73,-3.48 C-62.73,-3.258 -62.922,-2.782 -63.11,-2.53 C-63.298,-2.278 -63.64,-1.97 -63.86,-1.97 C-64.08,-1.97 -64.335,-2.215 -64.43,-2.53 C-64.525,-2.845 -64.65,-3.638 -64.43,-3.86 Z" fill="#e6e6ff"/>
<path d="M-59.7,-5.56 C-59.322,-5.718 -57.65,-5.78 -57.24,-5.56 C-56.83,-5.34 -57.05,-4.492 -57.24,-4.24 C-57.43,-3.988 -58.002,-3.988 -58.38,-4.05 C-58.758,-4.112 -59.29,-4.358 -59.51,-4.61 C-59.73,-4.862 -60.078,-5.402 -59.7,-5.56 Z" fill="#e6e6ff"/>
<path d="M-67.83,-5.37 C-67.673,-5.497 -66.888,-5.497 -66.7,-5.37 C-66.512,-5.243 -66.543,-4.737 -66.7,-4.61 C-66.857,-4.483 -67.452,-4.483 -67.64,-4.61 C-67.828,-4.737 -67.987,-5.243 -67.83,-5.37 Z" fill="#ffb2b2"/>
<path d="M-66.32,-5.37 C-66.1,-5.59 -65.062,-5.558 -64.81,-5.37 C-64.558,-5.182 -64.59,-4.46 -64.81,-4.24 C-65.03,-4.02 -65.878,-3.862 -66.13,-4.05 C-66.382,-4.238 -66.54,-5.15 -66.32,-5.37 Z" fill="#ffb2b2"/>
<path d="M-66.13,5.78 C-66.018,5.638 -65.512,5.722 -65.37,5.88 C-65.228,6.038 -65.168,6.588 -65.28,6.73 C-65.392,6.872 -65.898,6.888 -66.04,6.73 C-66.182,6.572 -66.242,5.922 -66.13,5.78 Z" fill="#b2b2ff"/>
<path d="M-64.81,6.16 C-64.722,6.09 -64.335,6.097 -64.24,6.16 C-64.145,6.223 -64.152,6.47 -64.24,6.54 C-64.328,6.61 -64.675,6.643 -64.77,6.58 C-64.865,6.517 -64.898,6.23 -64.81,6.16 Z" fill="#b2b2ff"/>
<path d="M-60.87,2.76 C-60.8,2.66 -60.502,2.665 -60.42,2.76 C-60.338,2.855 -60.31,3.23 -60.38,3.33 C-60.45,3.43 -60.758,3.455 -60.84,3.36 C-60.922,3.265 -60.94,2.86 -60.87,2.76 Z" fill="#b2b2ff"/>
<path d="M-52.71,-5.37 C-52.488,-5.338 -51.695,-5.115 -51.38,-4.8 C-51.065,-4.485 -50.852,-3.732 -50.82,-3.48 C-50.788,-3.228 -51.002,-3.163 -51.19,-3.29 C-51.378,-3.417 -51.697,-3.957 -51.95,-4.24 C-52.203,-4.523 -52.583,-4.802 -52.71,-4.99 C-52.837,-5.178 -52.932,-5.402 -52.71,-5.37 Z" fill="#b2b2ff"/>
<path d="M-75.59,-6.62 C-75.483,-6.772 -75.087,-6.698 -74.95,-6.44 C-74.813,-6.182 -74.74,-5.405 -74.77,-5.07 C-74.8,-4.735 -75.342,-4.505 -75.13,-4.43 C-74.918,-4.355 -73.855,-4.492 -73.5,-4.62 C-73.145,-4.748 -73.117,-5.203 -73,-5.2 C-72.883,-5.197 -72.687,-4.863 -72.8,-4.6 C-72.913,-4.337 -73.322,-3.92 -73.68,-3.62 C-74.038,-3.32 -74.587,-3.043 -74.95,-2.8 C-75.313,-2.557 -75.632,-2.388 -75.86,-2.16 C-76.088,-1.932 -76.168,-1.74 -76.32,-1.43 C-76.472,-1.12 -76.607,-0.622 -76.77,-0.3 C-76.933,0.022 -77.118,0.45 -77.3,0.5 C-77.482,0.55 -77.827,0.352 -77.86,-0 C-77.893,-0.352 -77.682,-1.19 -77.5,-1.61 C-77.318,-2.03 -76.937,-2.185 -76.77,-2.52 C-76.603,-2.855 -76.652,-3.317 -76.5,-3.62 C-76.348,-3.923 -76.012,-4.022 -75.86,-4.34 C-75.708,-4.658 -75.635,-5.15 -75.59,-5.53 C-75.545,-5.91 -75.697,-6.468 -75.59,-6.62 Z" fill="#b2b2ff"/>
<path d="M-75.4,-4.1 C-75.333,-4.2 -74.983,-4.133 -74.9,-4 C-74.817,-3.867 -74.833,-3.4 -74.9,-3.3 C-74.967,-3.2 -75.217,-3.267 -75.3,-3.4 C-75.383,-3.533 -75.467,-4 -75.4,-4.1 Z" fill="#8080ff"/>
<path d="M-76.4,-2.2 C-76.283,-2.35 -75.95,-2.4 -75.9,-2.3 C-75.85,-2.2 -75.983,-1.75 -76.1,-1.6 C-76.217,-1.45 -76.55,-1.3 -76.6,-1.4 C-76.65,-1.5 -76.517,-2.05 -76.4,-2.2 Z" fill="#8080ff"/>
<path d="M-77.6,-1 C-77.5,-1.183 -77,-1.383 -76.9,-1.3 C-76.8,-1.217 -76.9,-0.683 -77,-0.5 C-77.1,-0.317 -77.4,-0.117 -77.5,-0.2 C-77.6,-0.283 -77.7,-0.817 -77.6,-1 Z" fill="#8080ff"/>
<path d="M-75.2,-6.3 C-75.142,-6.367 -74.942,-6.3 -74.9,-6.2 C-74.858,-6.1 -74.892,-5.767 -74.95,-5.7 C-75.008,-5.633 -75.208,-5.7 -75.25,-5.8 C-75.292,-5.9 -75.258,-6.233 -75.2,-6.3 Z" fill="#8080ff"/>
<path d="M-77.23,-7.8 C-77.063,-7.982 -76.608,-7.833 -76.41,-7.53 C-76.212,-7.227 -76.087,-6.42 -76.04,-5.98 C-75.993,-5.54 -76.008,-5.223 -76.13,-4.89 C-76.252,-4.557 -76.633,-4.253 -76.77,-3.98 C-76.907,-3.707 -76.798,-3.493 -76.95,-3.25 C-77.102,-3.007 -77.497,-2.595 -77.68,-2.52 C-77.863,-2.445 -78.035,-2.617 -78.05,-2.8 C-78.065,-2.983 -77.832,-3.317 -77.77,-3.62 C-77.708,-3.923 -77.755,-4.302 -77.68,-4.62 C-77.605,-4.938 -77.365,-5.227 -77.32,-5.53 C-77.275,-5.833 -77.425,-6.062 -77.41,-6.44 C-77.395,-6.818 -77.397,-7.618 -77.23,-7.8 Z" fill="#ffb2b2"/>
<path d="M-76.77,-6.89 C-76.695,-6.997 -76.433,-6.817 -76.32,-6.62 C-76.207,-6.423 -76.105,-5.968 -76.09,-5.71 C-76.075,-5.452 -76.138,-5.162 -76.23,-5.07 C-76.322,-4.978 -76.55,-5.008 -76.64,-5.16 C-76.73,-5.312 -76.748,-5.692 -76.77,-5.98 C-76.792,-6.268 -76.845,-6.783 -76.77,-6.89 Z" fill="#ff0000"/>
<path d="M-77.73,-4.62 C-77.662,-4.712 -77.457,-4.697 -77.32,-4.53 C-77.183,-4.363 -76.957,-3.848 -76.91,-3.62 C-76.863,-3.392 -76.942,-3.222 -77.04,-3.16 C-77.138,-3.098 -77.385,-3.113 -77.5,-3.25 C-77.615,-3.387 -77.692,-3.752 -77.73,-3.98 C-77.768,-4.208 -77.798,-4.528 -77.73,-4.62 Z" fill="#ff0000"/>
<path d="M-75.86,-5.16 C-75.777,-5.22 -75.435,-5.145 -75.36,-5.07 C-75.285,-4.995 -75.327,-4.77 -75.41,-4.71 C-75.493,-4.65 -75.785,-4.635 -75.86,-4.71 C-75.935,-4.785 -75.943,-5.1 -75.86,-5.16 Z" fill="#ff0000"/>
<path d="M-79,-19.5 C-78.604,-19.767 -77.417,-19.5 -76.625,-19.5 C-75.833,-19.5 -75.042,-19.5 -74.25,-19.5 C-73.458,-19.5 -72.667,-19.5 -71.875,-19.5 C-71.083,-19.5 -70.292,-19.5 -69.5,-19.5 C-68.708,-19.5 -67.917,-19.5 -67.125,-19.5 C-66.333,-19.5 -65.542,-19.5 -64.75,-19.5 C-63.958,-19.5 -63.167,-19.5 -62.375,-19.5 C-61.583,-19.5 -60.396,-19.767 -60,-19.5 C-59.604,-19.233 -60,-18.433 -60,-17.9 C-60,-17.367 -59.604,-16.567 -60,-16.3 C-60.396,-16.033 -61.583,-16.3 -62.375,-16.3 C-63.167,-16.3 -63.958,-16.3 -64.75,-16.3 C-65.542,-16.3 -66.333,-16.3 -67.125,-16.3 C-67.917,-16.3 -68.708,-16.3 -69.5,-16.3 C-70.292,-16.3 -71.083,-16.3 -71.875,-16.3 C-72.667,-16.3 -73.458,-16.3 -74.25,-16.3 C-75.042,-16.3 -75.833,-16.3 -76.625,-16.3 C-77.417,-16.3 -78.604,-16.033 -79,-16.3 C-79.396,-16.567 -79,-17.367 -79,-17.9 C-79,-18.433 -79.396,-19.233 -79,-19.5 Z" fill="#ffe6e6"/>
<path d="M-62.2,-17.2 C-61.9,-17.425 -60.533,-17.567 -60.2,-17.2 C-59.867,-16.833 -60.2,-15.733 -60.2,-15 C-60.2,-14.267 -60.067,-13.383 -60.2,-12.8 C-60.333,-12.217 -60.65,-11.667 -61,-11.5 C-61.35,-11.333 -62.125,-11.525 -62.3,-11.8 C-62.475,-12.075 -62.133,-12.7 -62.05,-13.15 C-61.967,-13.6 -61.808,-14.05 -61.8,-14.5 C-61.792,-14.95 -61.933,-15.4 -62,-15.85 C-62.067,-16.3 -62.5,-16.975 -62.2,-17.2 Z" fill="#ffe6e6"/>
<path d="M-56.8,-4.46 C-56.667,-4.575 -56.133,-4.575 -56,-4.46 C-55.867,-4.345 -55.867,-3.885 -56,-3.77 C-56.133,-3.655 -56.667,-3.655 -56.8,-3.77 C-56.933,-3.885 -56.933,-4.345 -56.8,-4.46 Z" fill="#e6e6ff"/>
<path d="M-59.3,-1 C-59.083,-1.217 -58.217,-1.217 -58,-1 C-57.783,-0.783 -57.783,0.083 -58,0.3 C-58.217,0.517 -59.083,0.517 -59.3,0.3 C-59.517,0.083 -59.517,-0.783 -59.3,-1 Z" fill="#e6e6ff"/>
<path d="M-71.55,-9.92 C-71.493,-9.92 -71.38,-9.792 -71.38,-9.73 C-71.38,-9.668 -71.493,-9.55 -71.55,-9.55 C-71.607,-9.55 -71.72,-9.668 -71.72,-9.73 C-71.72,-9.792 -71.607,-9.92 -71.55,-9.92 Z" fill="#ffffff"/>
</g>
<path d="M-84,-19 V10 M-78,-19 V10 M-72,-19 V10 M-66,-19 V10 M-60,-19 V10 M-54,-19 V10 M-85,-18 H-50 M-85,-12 H-50 M-85,-6 H-50 M-85,0 H-50 M-85,6 H-50" stroke="#bdbdbd" stroke-width="0.8" stroke-dasharray="2.1,1.05" vector-effect="non-scaling-stroke" fill="none"/>
<g fill="none" stroke="#000" stroke-width="1" vector-effect="non-scaling-stroke" stroke-linejoin="round">
<path d="M-86,-16 L-85.02,-16 L-84.6,-15.88 L-84.2,-15.75 L-83.9,-15.55 L-83.5,-15.3 L-83.21,-15.03 L-83.26,-14.83 L-83.18,-14.5 L-83.34,-14.09 L-83.5,-13.68 L-83.58,-13.35 L-83.58,-12.86 L-83.67,-12.53 L-83.79,-11.96 L-83.85,-11.47 L-83.73,-11.01 L-83.38,-10.49 L-82.95,-9.98 L-82.53,-9.55 L-82.18,-9.29 L-81.75,-8.95 L-81.41,-8.82 L-80.98,-8.95 L-80.47,-9.21 L-79.96,-9.47 L-79.53,-9.64 L-79.01,-9.47 L-78.5,-9.38 L-77.98,-9.21 L-77.47,-8.78 L-77.15,-8.44 L-76.95,-8.5 L-76.88,-8.2 L-76.85,-7.94 L-76.8,-8.2 L-76.85,-8.55 L-76.57,-8.76 L-76.16,-9.25 L-75.83,-9.5 L-75.66,-9.75 L-75.62,-10.16 L-75.5,-10.57 L-75.09,-10.98 L-74.76,-11.1 L-74.55,-10.95 L-74.35,-11.14 L-74.19,-11.3 L-73.7,-11.26 L-73.29,-11.34 L-72.8,-11.63 L-72.39,-11.88 L-72.16,-12.1 L-71.88,-12.39 L-71.63,-12.43 L-71.3,-12.39 L-71.14,-12.23 L-71.18,-12.02 L-71.39,-11.82 L-71.71,-11.66 L-71.96,-11.53 L-71.85,-11.25 L-71.62,-10.92 L-71.5,-10.95 L-71.14,-11.04 L-70.65,-11.25 L-70.24,-11.53 L-70.28,-11.86 L-70.16,-12.11 L-69.95,-12.11 L-69.83,-11.86 L-69.79,-11.57 L-69.66,-11.49 L-69.25,-11.45 L-68.84,-11.37 L-68.52,-11.2 L-68.35,-10.96 L-68.27,-10.71 L-68.11,-10.51 L-67.7,-10.47 L-67.2,-10.55 L-66.71,-10.59 L-66.12,-10.6 L-65.96,-10.34 L-65.55,-10.18 L-65.06,-10.02 L-64.73,-10.14 L-64.4,-10.34 L-64.16,-10.51 L-63.75,-10.63 L-63.17,-10.67 L-62.68,-10.71 L-62.2,-10.7 L-61.86,-10.7 L-62.3,-10.55 L-62.75,-10.45 L-62.9,-10.2 L-62.6,-10 L-62.35,-9.89 L-61.94,-9.73 L-61.5,-9.5 L-61.04,-9.24 L-60.9,-8.9 L-60.55,-8.58 L-60.06,-8.5 L-59.65,-8.34 L-59.24,-8.13 L-58.95,-7.83 L-58.48,-7.25 L-58.45,-6.9 L-58.13,-6.78 L-57.54,-6.31 L-57.08,-6.02 L-56.49,-5.91 L-55.91,-5.79 L-55.09,-5.85 L-54.5,-5.82 L-53.92,-5.73 L-53.22,-5.5 L-52.75,-5.32 L-52.28,-4.92 L-51.81,-4.57 L-51.46,-4.33 L-51.2,-4.2 L-51.11,-3.87 L-50.88,-3.17 L-50.7,-2.47 L-50.53,-2 L-50.3,-1.85 L-50,-1.77 L-49,-1.77 L-49,11 L-78,11 L-78.2,10 L-78.38,9.59 L-78.61,9.01 L-78.96,8.31 L-79.31,7.72 L-79.66,7.26 L-80.01,6.91 L-80.48,6.56 L-80.94,6.32 L-81.06,5.86 L-80.94,5.39 L-81.18,5.04 L-81.35,4.69 L-81.29,4.22 L-81.06,3.87 L-80.59,3.41 L-80.24,3.06 L-79.85,2.75 L-79.8,2.3 L-79.95,2.15 L-80.2,2.55 L-80.59,2.47 L-80.94,2.24 L-80.85,1.8 L-80.94,1.07 L-80.71,0.84 L-80.42,0.61 L-80.36,0.14 L-80.13,-0.44 L-80.1,-0.72 L-79.81,-0.95 L-79.46,-1.07 L-79.17,-1.4 L-78.93,-1.65 L-78.76,-1.89 L-78.68,-2.19 L-78.27,-2.6 L-77.94,-2.76 L-77.53,-3 L-77.3,-3.4 L-77.12,-3.75 L-77.29,-4.16 L-77.37,-4.57 L-77.53,-5.14 L-77.61,-5.47 L-77.35,-5.75 L-77.37,-6.2 L-77.45,-6.7 L-77.78,-7.11 L-78.11,-7.6 L-78.35,-8 L-78.45,-8.4 L-78.76,-8.83 L-79.09,-9.07 L-79.53,-8.87 L-79.78,-8.61 L-80.13,-8.35 L-80.47,-8.27 L-80.3,-7.9 L-80.04,-7.58 L-80.13,-7.33 L-80.47,-7.24 L-80.9,-7.33 L-81.16,-7.67 L-81.58,-7.84 L-82.01,-8.18 L-82.44,-8.27 L-82.95,-8.18 L-83.21,-8.35 L-83.47,-8.52 L-83.73,-8.78 L-84,-9.15 L-84.33,-9.47 L-84.67,-9.72 L-85.01,-9.98 L-86,-10 Z" vector-effect="non-scaling-stroke"/>
<path d="M-71.55,-10.71 L-71.8,-10.22 L-72.04,-9.81 L-71.96,-9.48 L-71.8,-9.24 L-71.55,-9.07 L-71.22,-9.16 L-71.1,-9.4 L-71.06,-9.73 L-71.22,-10.06 L-71.47,-10.47 Z" vector-effect="non-scaling-stroke"/>
<path d="M-78.42,-18.39 L-78.03,-18.49 L-77.41,-18.47 L-76.79,-18.39 L-76.25,-18.08 L-76.41,-17.92 L-77.1,-17.88 L-77.26,-17.72 L-77.57,-17.88 L-78.03,-18 L-78.34,-18.15 Z" vector-effect="non-scaling-stroke"/>
<path d="M-74.48,-18.3 L-74.32,-18.62 L-73.7,-18.62 L-73,-18.5 L-72.5,-18.55 L-72.75,-19.1 L-68.6,-19.1 L-68.3,-18.62 L-68.68,-18.15 L-69.1,-18.3 L-69.68,-18.23 L-70.6,-18.23 L-71.1,-18.1 L-71.4,-17.62 L-71.6,-17.65 L-71.8,-18.05 L-72.5,-18.15 L-73.2,-18.15 L-73.7,-18.08 L-74.2,-18.25 Z" vector-effect="non-scaling-stroke"/>
<path d="M-73.3,-18.85 L-72.9,-18.75 L-72.8,-18.85 L-73.2,-18.95 Z" vector-effect="non-scaling-stroke"/>
<path d="M-67.21,-18.45 L-65.82,-18.44 L-65.59,-18.23 L-65.74,-17.92 L-67.21,-17.88 L-67.29,-18.15 Z" vector-effect="non-scaling-stroke"/>
<path d="M-61.7,-10.72 L-60.92,-10.82 L-60.96,-10.12 L-61.45,-10.08 L-61.5,-10.4 L-61.65,-10.6 Z" vector-effect="non-scaling-stroke"/>
<path d="M-64.4,-11 L-64.2,-11.12 L-63.85,-11.15 L-63.8,-10.95 L-64,-10.9 L-64.3,-10.88 Z" vector-effect="non-scaling-stroke"/>
<path d="M-69.17,-12.38 L-68.95,-12.2 L-68.75,-12.02 L-68.8,-12.05 L-69,-12.2 Z" vector-effect="non-scaling-stroke"/>
<path d="M-70.06,-12.62 L-69.88,-12.45 L-69.9,-12.42 L-70.05,-12.55 Z" vector-effect="non-scaling-stroke"/>
<path d="M-68.42,-12.3 L-68.2,-12.05 L-68.25,-12.02 L-68.4,-12.2 Z" vector-effect="non-scaling-stroke"/>
<path d="M-61.8,-16.3 L-61.55,-16.5 L-61.45,-16.3 L-61.2,-16.25 L-61.55,-16.2 L-61.7,-15.95 L-61.8,-16.1 Z" vector-effect="non-scaling-stroke"/>
<ellipse cx="-61.35" cy="-15.4" rx="0.1" ry="0.22" vector-effect="non-scaling-stroke"/>
<ellipse cx="-61" cy="-14.65" rx="0.13" ry="0.22" vector-effect="non-scaling-stroke"/>
<ellipse cx="-60.97" cy="-13.9" rx="0.08" ry="0.18" vector-effect="non-scaling-stroke"/>
<ellipse cx="-61.2" cy="-13.25" rx="0.07" ry="0.13" vector-effect="non-scaling-stroke"/>
<ellipse cx="-61.68" cy="-12.12" rx="0.08" ry="0.1" vector-effect="non-scaling-stroke"/>
<ellipse cx="-59.55" cy="-13.17" rx="0.1" ry="0.14" vector-effect="non-scaling-stroke"/>
<ellipse cx="-60.65" cy="-11.22" rx="0.18" ry="0.07" vector-effect="non-scaling-stroke"/>
<ellipse cx="-61.8" cy="-17.08" rx="0.12" ry="0.08" vector-effect="non-scaling-stroke"/>
<ellipse cx="-61.8" cy="-17.63" rx="0.08" ry="0.08" vector-effect="non-scaling-stroke"/>
<ellipse cx="-62.2" cy="-16.75" rx="0.05" ry="0.07" vector-effect="non-scaling-stroke"/>
<ellipse cx="-62.7" cy="-17.25" rx="0.1" ry="0.1" vector-effect="non-scaling-stroke"/>
<ellipse cx="-62.98" cy="-17.5" rx="0.03" ry="0.03" vector-effect="non-scaling-stroke"/>
<ellipse cx="-63.23" cy="-17.63" rx="0.03" ry="0.03" vector-effect="non-scaling-stroke"/>
<ellipse cx="-63.05" cy="-18.05" rx="0.08" ry="0.06" vector-effect="non-scaling-stroke"/>
<ellipse cx="-63.05" cy="-18.2" rx="0.1" ry="0.04" vector-effect="non-scaling-stroke"/>
<ellipse cx="-62.85" cy="-17.9" rx="0.04" ry="0.04" vector-effect="non-scaling-stroke"/>
<ellipse cx="-64.8" cy="-18.35" rx="0.15" ry="0.05" vector-effect="non-scaling-stroke"/>
<ellipse cx="-64.55" cy="-18.45" rx="0.1" ry="0.04" vector-effect="non-scaling-stroke"/>
<ellipse cx="-61.25" cy="-15.95" rx="0.08" ry="0.08" vector-effect="non-scaling-stroke"/>
<ellipse cx="-66.2" cy="-11.8" rx="0.06" ry="0.03" vector-effect="non-scaling-stroke"/>
<ellipse cx="-66.75" cy="-11.85" rx="0.1" ry="0.05" vector-effect="non-scaling-stroke"/>
<ellipse cx="-64.6" cy="-11.85" rx="0.05" ry="0.04" vector-effect="non-scaling-stroke"/>
<ellipse cx="-65.34" cy="-10.92" rx="0.1" ry="0.04" vector-effect="non-scaling-stroke"/>
<ellipse cx="-63.1" cy="-11.4" rx="0.03" ry="0.03" vector-effect="non-scaling-stroke"/>
<ellipse cx="-67.7" cy="-11.98" rx="0.05" ry="0.03" vector-effect="non-scaling-stroke"/>
<ellipse cx="-81.4" cy="-13.35" rx="0.05" ry="0.06" vector-effect="non-scaling-stroke"/>
<ellipse cx="-81.72" cy="-12.55" rx="0.04" ry="0.07" vector-effect="non-scaling-stroke"/>
<ellipse cx="-83.05" cy="-12.17" rx="0.05" ry="0.04" vector-effect="non-scaling-stroke"/>
<ellipse cx="-82.77" cy="-14.38" rx="0.05" ry="0.05" vector-effect="non-scaling-stroke"/>
<ellipse cx="-80.14" cy="-13.56" rx="0.03" ry="0.03" vector-effect="non-scaling-stroke"/>
<ellipse cx="-81.67" cy="-3.98" rx="0.04" ry="0.04" vector-effect="non-scaling-stroke"/>
<ellipse cx="-75" cy="-18.4" rx="0.03" ry="0.03" vector-effect="non-scaling-stroke"/>
<ellipse cx="-68.9" cy="-18.15" rx="0.08" ry="0.04" vector-effect="non-scaling-stroke"/>
<ellipse cx="-67.85" cy="-18.1" rx="0.05" ry="0.03" vector-effect="non-scaling-stroke"/>
<ellipse cx="-63.6" cy="-15.7" rx="0.02" ry="0.02" vector-effect="non-scaling-stroke"/>
<ellipse cx="-61.6" cy="-12.6" rx="0.05" ry="0.1" vector-effect="non-scaling-stroke"/>
<ellipse cx="-61.3" cy="-12.9" rx="0.04" ry="0.08" vector-effect="non-scaling-stroke"/>
<path d="M-52.7,1.57 L-52.37,1.4 L-51.94,1.32 L-51.72,1.05 L-51.55,0.67 L-51.33,0.34 L-51.17,0.07 L-50.9,-0.15 L-50.57,-0.43 L-50.24,-0.75 L-50,-1.03" vector-effect="non-scaling-stroke"/>
<path d="M-52.65,1.6 L-52.1,1.5 L-51.66,1.43 L-51.23,1.05 L-50.9,0.72 L-50.57,0.45 L-50,0.12" vector-effect="non-scaling-stroke"/>
<path d="M-51.23,0.12 L-50.9,0.01 L-50.46,-0.04 L-50,-0.1" vector-effect="non-scaling-stroke"/>
<path d="M-50.9,0.67 L-50.79,1.05 L-50.68,1.65 L-50.46,1.87 L-50.24,1.76 L-50,1.65" vector-effect="non-scaling-stroke"/>
<path d="M-51,-0 L-50.5,-0.25 L-50,-0.55" vector-effect="non-scaling-stroke"/>
<path d="M-50.7,1.2 L-50.4,1.1 L-50,1" vector-effect="non-scaling-stroke"/>
<path d="M-52.5,1.5 L-52.3,1.62 L-52.1,1.55" vector-effect="non-scaling-stroke"/>
</g>
<g fill="none" stroke="#222" stroke-width="0.6" vector-effect="non-scaling-stroke" stroke-linejoin="round">
<path d="M-85.02,-14.8 L-84.5,-14.62 L-84,-14.75 L-83.5,-14.92 L-83.21,-15.03" vector-effect="non-scaling-stroke"/>
<path d="M-85.02,-11.1 L-84.6,-11.1 L-84.15,-10.84 L-83.9,-10.8 L-83.7,-10.93" vector-effect="non-scaling-stroke"/>
<path d="M-82.55,-9.55 L-82.95,-9.47 L-82.8,-9 L-82.91,-8.52 L-82.91,-8.14" vector-effect="non-scaling-stroke"/>
<path d="M-77.37,-8.67 L-77.35,-8.4 L-77.26,-7.94 L-77.34,-7.7 L-77.71,-7.54 L-77.9,-7.2" vector-effect="non-scaling-stroke"/>
<path d="M-71.96,-11.53 L-72.22,-11.14 L-72.71,-10.32 L-73.04,-9.66 L-73.29,-9.17 L-72.88,-9.01 L-72.63,-8.68 L-72.47,-8.19 L-72.39,-7.7 L-72.47,-7.37 L-72.14,-7.2 L-71.81,-7.04 L-71.2,-7 L-70.6,-7.05 L-70.1,-6.95 L-69.6,-6.2 L-69.1,-6.2 L-68.6,-6.2 L-67.9,-6.2 L-67.45,-6.15 L-67.6,-5.7 L-67.8,-5.3 L-67.8,-4.67 L-67.72,-3.99 L-67.29,-3.48 L-67.55,-3.1 L-67.8,-2.79 L-67.29,-2.28 L-67.03,-1.42 L-66.87,-1.22" vector-effect="non-scaling-stroke"/>
<path d="M-66.87,-1.22 L-67.2,-1.6 L-67.8,-1.76 L-69.86,-1.68 L-69.86,-1.2 L-69.26,-0.95 L-69.5,-0.65 L-69.95,-0.57 L-70.03,0.12 L-69.52,0.63 L-69.43,1.32 L-69.69,2.69 L-69.86,4.06 L-70.03,4.32" vector-effect="non-scaling-stroke"/>
<path d="M-70.03,4.32 L-70.63,3.72 L-70.12,2.86 L-70.29,2.6 L-70.8,2.35 L-71.83,2.17 L-72.26,2.43 L-73.03,2.35 L-73.63,1.32 L-74.31,0.72 L-74.83,0.29 L-75.26,0.1" vector-effect="non-scaling-stroke"/>
<path d="M-78.87,-1.35 L-78.41,-0.95 L-77.83,-0.72 L-77.48,-0.37 L-76.78,-0.25 L-76.2,-0.3 L-75.73,-0.14 L-75.26,0.1" vector-effect="non-scaling-stroke"/>
<path d="M-75.26,0.1 L-75.34,0.96 L-75.69,1.77 L-76.39,2.36 L-77.33,2.82 L-78.03,3.41 L-78.38,3.87 L-78.61,4.46 L-79.19,4.92 L-79.8,4.6 L-80.48,4.34 L-80.45,3.8 L-80.3,3.45" vector-effect="non-scaling-stroke"/>
<path d="M-70.03,4.32 L-70.72,4.32 L-72.09,4.74 L-72.94,5.34 L-73.11,6.28 L-73.63,6.8 L-73.97,7.48 L-73.63,8.34 L-73.11,9.02 L-72.94,9.54 L-72.26,9.97 L-71.3,10.05" vector-effect="non-scaling-stroke"/>
<path d="M-71.2,10.2 L-70.9,9.9 L-70.6,9.7" vector-effect="non-scaling-stroke"/>
<path d="M-66.8,10.2 L-66.6,9.95 L-65.9,9.85" vector-effect="non-scaling-stroke"/>
<path d="M-66.87,-1.22 L-66.43,-0.74 L-65.58,-0.74 L-64.89,-1.25 L-64.04,-1.59 L-63.52,-2.11 L-63.44,-2.28 L-64.21,-2.62 L-64.38,-3.48 L-64.55,-3.99 L-63.87,-3.99 L-63.01,-3.73 L-61.81,-4.33 L-60.85,-4.67 L-60.74,-5.2" vector-effect="non-scaling-stroke"/>
<path d="M-60.74,-5.2 L-61.2,-5.6 L-61.2,-6.61 L-60.55,-6.78 L-60.39,-7.11 L-60.63,-7.43 L-60.55,-7.76 L-60.22,-8.09 L-59.89,-8.34" vector-effect="non-scaling-stroke"/>
<path d="M-60.74,-5.2 L-60.35,-5.27 L-60.12,-4.92 L-59.88,-4.33 L-59.65,-3.87 L-59.88,-3.28 L-60,-2.82 L-59.88,-2.24 L-59.65,-1.89 L-59.06,-1.3 L-58.6,-1.3 L-58.13,-1.65 L-57.43,-1.89 L-56.55,-1.89" vector-effect="non-scaling-stroke"/>
<path d="M-57.13,-5.91 L-57.37,-5.03 L-57.78,-4.92 L-58.07,-4.1 L-57.66,-3.34 L-57.25,-3.23 L-57.13,-2.7 L-56.84,-2.24 L-56.55,-1.89" vector-effect="non-scaling-stroke"/>
<path d="M-56.55,-1.89 L-56.02,-1.83 L-56.02,-2.35 L-55.44,-2.47 L-54.97,-2.45 L-54.5,-2.29 L-54.09,-2.12" vector-effect="non-scaling-stroke"/>
<path d="M-54.04,-5.73 L-54.39,-4.92 L-54.44,-4.33 L-54.04,-3.52 L-54.15,-2.93 L-54.44,-2.35 L-54.09,-2.12" vector-effect="non-scaling-stroke"/>
<path d="M-54.09,-2.12 L-53.68,-2.35 L-53.45,-2.06 L-52.98,-2.12 L-52.51,-2.58 L-52.16,-3.17 L-51.81,-3.75 L-51.46,-4.33" vector-effect="non-scaling-stroke"/>
</g>
</svg>
<svg class="map" style="left:507.03px;top:405.10px;width:426.02px;height:352.99px" viewBox="0 0 426.02 352.99">
<circle cx="121.96" cy="106.38" r="3.2" fill="none" stroke="#2323e6" stroke-width="0.9"/>
<circle cx="110.89" cy="121.11" r="6.4" fill="none" stroke="#e62020" stroke-width="0.9"/>
<circle cx="96.52" cy="143.51" r="3.2" fill="none" stroke="#2323e6" stroke-width="0.9"/>
<circle cx="100.42" cy="155.19" r="3.2" fill="none" stroke="#2323e6" stroke-width="0.9"/>
<circle cx="100.78" cy="160.06" r="3.2" fill="none" stroke="#2323e6" stroke-width="0.9"/>
<circle cx="102.61" cy="163.71" r="3.2" fill="none" stroke="#2323e6" stroke-width="0.9"/>
<circle cx="101.03" cy="166.15" r="3.2" fill="none" stroke="#2323e6" stroke-width="0.9"/>
<circle cx="101.64" cy="169.19" r="6.4" fill="none" stroke="#e62020" stroke-width="0.9"/>
<circle cx="102.00" cy="172.23" r="6.4" fill="none" stroke="#e62020" stroke-width="0.9"/>
<circle cx="167.37" cy="127.44" r="6.4" fill="none" stroke="#e62020" stroke-width="0.9"/>
<circle cx="149.72" cy="135.72" r="3.2" fill="none" stroke="#2323e6" stroke-width="0.9"/>
<circle cx="133.65" cy="147.89" r="6.4" fill="none" stroke="#e62020" stroke-width="0.9"/>
<circle cx="133.04" cy="150.93" r="3.2" fill="none" stroke="#2323e6" stroke-width="0.9"/>
<circle cx="132.55" cy="153.98" r="3.2" fill="none" stroke="#2323e6" stroke-width="0.9"/>
<circle cx="132.07" cy="156.41" r="6.4" fill="none" stroke="#e62020" stroke-width="0.9"/>
<circle cx="124.40" cy="167.97" r="3.2" fill="none" stroke="#2323e6" stroke-width="0.9"/>
<circle cx="152.39" cy="164.32" r="6.4" fill="none" stroke="#e62020" stroke-width="0.9"/>
<circle cx="154.95" cy="163.71" r="6.4" fill="none" stroke="#e62020" stroke-width="0.9"/>
<circle cx="162.50" cy="173.82" r="6.4" fill="none" stroke="#e62020" stroke-width="0.9"/>
<circle cx="155.19" cy="178.20" r="6.4" fill="none" stroke="#e62020" stroke-width="0.9"/>
<circle cx="152.76" cy="177.71" r="6.4" fill="none" stroke="#e62020" stroke-width="0.9"/>
<circle cx="144.73" cy="181.00" r="6.4" fill="none" stroke="#e62020" stroke-width="0.9"/>
<circle cx="141.93" cy="184.77" r="6.4" fill="none" stroke="#e62020" stroke-width="0.9"/>
<circle cx="136.33" cy="195.36" r="6.4" fill="none" stroke="#e62020" stroke-width="0.9"/>
<circle cx="142.41" cy="195.36" r="6.4" fill="none" stroke="#e62020" stroke-width="0.9"/>
<circle cx="148.50" cy="200.35" r="6.4" fill="none" stroke="#e62020" stroke-width="0.9"/>
<circle cx="135.84" cy="204.73" r="6.4" fill="none" stroke="#e62020" stroke-width="0.9"/>
<circle cx="94.33" cy="195.85" r="3.2" fill="none" stroke="#2323e6" stroke-width="0.9"/>
<circle cx="175.52" cy="197.43" r="6.4" fill="none" stroke="#e62020" stroke-width="0.9"/>
<circle cx="181.73" cy="161.04" r="6.4" fill="none" stroke="#e62020" stroke-width="0.9"/>
<circle cx="182.34" cy="106.99" r="6.4" fill="none" stroke="#e62020" stroke-width="0.9"/>
<circle cx="95.92" cy="235.16" r="3.2" fill="none" stroke="#2323e6" stroke-width="0.9"/>
<circle cx="160.55" cy="242.95" r="6.4" fill="none" stroke="#e62020" stroke-width="0.9"/>
<circle cx="201.08" cy="156.53" r="6.4" fill="none" stroke="#e62020" stroke-width="0.9"/>
<circle cx="260.36" cy="132.31" r="6.4" fill="none" stroke="#e62020" stroke-width="0.9"/>
<circle cx="299.43" cy="154.10" r="6.4" fill="none" stroke="#e62020" stroke-width="0.9"/>
<circle cx="321.71" cy="166.39" r="6.4" fill="none" stroke="#e62020" stroke-width="0.9"/>
<circle cx="325.97" cy="171.99" r="6.4" fill="none" stroke="#e62020" stroke-width="0.9"/>
<circle cx="371.85" cy="170.41" r="6.4" fill="none" stroke="#e62020" stroke-width="0.9"/>
<circle cx="63.78" cy="250.26" r="3.2" fill="none" stroke="#2323e6" stroke-width="0.9"/>
<circle cx="181.61" cy="283.61" r="3.2" fill="none" stroke="#2323e6" stroke-width="0.9"/>
<circle cx="186.84" cy="188.18" r="6.4" fill="none" stroke="#e62020" stroke-width="0.9"/>
<circle cx="201.08" cy="183.19" r="6.4" fill="none" stroke="#e62020" stroke-width="0.9"/>
<circle cx="208.14" cy="183.19" r="6.4" fill="none" stroke="#e62020" stroke-width="0.9"/>
<circle cx="289.21" cy="207.17" r="3.2" fill="none" stroke="#2323e6" stroke-width="0.9"/>
<circle cx="245.02" cy="238.57" r="6.4" fill="none" stroke="#e62020" stroke-width="0.9"/>
<circle cx="223.60" cy="253.66" r="6.4" fill="none" stroke="#e62020" stroke-width="0.9"/>
</svg>
<div class="frame" style="left:506.00px;top:403.60px;width:425.90px;height:352.20px"></div>
<div class="yl" style="right:453.0px;top:408.7px">18</div>
<div class="yl" style="right:453.0px;top:481.7px">12</div>
<div class="yl" style="right:453.0px;top:554.7px">6</div>
<div class="yl" style="right:453.0px;top:627.8px">0</div>
<div class="yl" style="right:453.0px;top:700.8px">−6</div>
<div class="xl" style="left:479.2px;top:757.6px">−84</div>
<div class="xl" style="left:552.2px;top:757.6px">−78</div>
<div class="xl" style="left:625.3px;top:757.6px">−72</div>
<div class="xl" style="left:698.3px;top:757.6px">−66</div>
<div class="xl" style="left:771.3px;top:757.6px">−60</div>
<div class="xl" style="left:844.4px;top:757.6px">−54</div>
<div class="pl" style="left:524.5px;top:414.3px">d<span style="margin-left:3px">)</span></div>
<svg class="map" style="left:300px;top:780px;width:380px;height:40px" viewBox="300 780 380 40">
<rect x="330.00" y="791.50" width="32.13" height="15.40" fill="#ff1818"/>
<rect x="361.83" y="791.50" width="32.13" height="15.40" fill="#ff4c4c"/>
<rect x="393.66" y="791.50" width="32.13" height="15.40" fill="#ff7e7e"/>
<rect x="425.49" y="791.50" width="32.13" height="15.40" fill="#ffb2b2"/>
<rect x="457.32" y="791.50" width="32.13" height="15.40" fill="#ffe6e6"/>
<rect x="489.15" y="791.50" width="32.13" height="15.40" fill="#e6e6ff"/>
<rect x="520.98" y="791.50" width="32.13" height="15.40" fill="#b2b2ff"/>
<rect x="552.81" y="791.50" width="32.13" height="15.40" fill="#8080ff"/>
<rect x="584.64" y="791.50" width="32.13" height="15.40" fill="#4c4cff"/>
<rect x="616.47" y="791.50" width="32.13" height="15.40" fill="#1818ff"/>
<path d="M330.00,791.50 L314,799.20 L330.00,806.90 Z" fill="#ff0000"/>
<path d="M648.30,791.50 L664.5,799.20 L648.30,806.90 Z" fill="#0000ff"/>
<path d="M330.00,791.50 L314,799.20 L330.00,806.90 L648.30,806.90 L664.5,799.20 L648.30,791.50 Z" fill="none" stroke="#555" stroke-width="0.8"/>
<line x1="361.83" y1="806.90" x2="361.83" y2="809.90" stroke="#333" stroke-width="0.8"/>
<line x1="425.49" y1="806.90" x2="425.49" y2="809.90" stroke="#333" stroke-width="0.8"/>
<line x1="489.15" y1="806.90" x2="489.15" y2="809.90" stroke="#333" stroke-width="0.8"/>
<line x1="552.81" y1="806.90" x2="552.81" y2="809.90" stroke="#333" stroke-width="0.8"/>
<line x1="616.47" y1="806.90" x2="616.47" y2="809.90" stroke="#333" stroke-width="0.8"/>
</svg>
<div class="cbt" style="left:321.8px;top:810.1px;transform:scaleX(1.21)">−0.4</div>
<div class="cbt" style="left:385.5px;top:810.1px;transform:scaleX(1.21)">−0.2</div>
<div class="cbt" style="left:449.1px;top:810.1px;transform:scaleX(1.13)">0.0</div>
<div class="cbt" style="left:512.8px;top:810.1px;transform:scaleX(1.13)">0.2</div>
<div class="cbt" style="left:576.5px;top:810.1px;transform:scaleX(1.13)">0.4</div>
<div class="cbl" style="left:289.2px;top:827.8px">Precipitation Anomalies [mm/day]</div>
<div class="leg"></div>
<div class="legt">Streamflow Anomalies [%]</div>
<svg class="map" style="left:80px;top:800px;width:60px;height:85px" viewBox="80 800 60 85">
<circle cx="105" cy="812.20" r="3.8" fill="none" stroke="#ff5a5a" stroke-width="1"/>
<circle cx="105" cy="832.60" r="7.2" fill="none" stroke="#ff5a5a" stroke-width="1"/>
<circle cx="105" cy="853.00" r="3.8" fill="none" stroke="#5a5aff" stroke-width="1"/>
<circle cx="105" cy="873.40" r="7.2" fill="none" stroke="#5a5aff" stroke-width="1"/>
</svg>
<div class="legi" style="left:130.3px;top:803.2px">[(-10) - (-5))</div>
<div class="legi" style="left:130.3px;top:823.6px">[(-5) - 0)</div>
<div class="legi" style="left:130.3px;top:844.0px">[0-5]</div>
<div class="legi" style="left:130.3px;top:864.4px">(5-10]</div>
</body></html>
